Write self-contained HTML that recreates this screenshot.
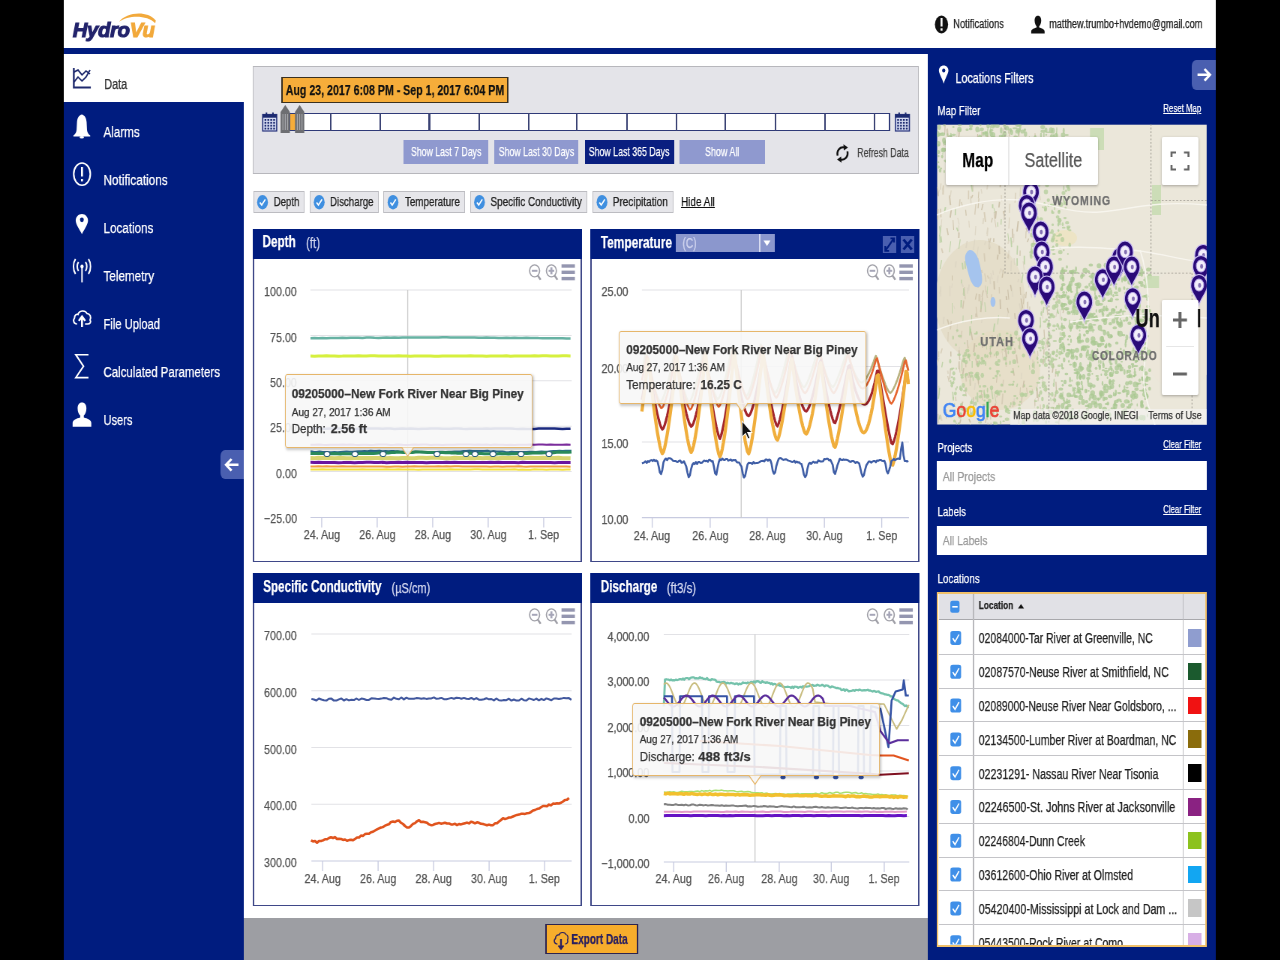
<!DOCTYPE html>
<html><head><meta charset="utf-8"><title>HydroVu</title>
<style>
html,body{margin:0;padding:0;background:#000;width:1280px;height:960px;overflow:hidden}
#w{position:absolute;left:0;top:0;width:1706.667px;height:960px;transform:scaleX(0.75);transform-origin:0 0;font-family:"Liberation Sans",sans-serif;-webkit-font-smoothing:antialiased;will-change:transform}
#w div{position:absolute}
#w .t{white-space:nowrap;transform-origin:0 0;-webkit-text-stroke:0.25px currentColor}
.ov{position:absolute;left:0;top:0;width:1706.667px;height:960px}
</style></head><body><div id="w">
<div style="left:85.33px;top:0.00px;width:1536.00px;height:960.00px;background:#fff"></div>
<div style="left:85.33px;top:47.80px;width:1536.00px;height:6.20px;background:#001c7f"></div>
<div style="left:85.33px;top:102.00px;width:240.00px;height:858.00px;background:#001c7f"></div>
<div style="left:324.67px;top:918.00px;width:913.33px;height:42.00px;background:#9d9ea3"></div>
<div style="left:1237.33px;top:50.00px;width:384.00px;height:910.00px;background:#001c7f"></div>
<div class="t" style="left:96.67px;top:19.22px;font-size:21px;line-height:21px;color:#23246c;font-weight:bold;font-style:italic;transform:scaleX(1.2824);-webkit-text-stroke:1.1px currentColor;letter-spacing:-0.3px">Hydro<span style="color:#f2a93b">Vu</span></div>
<div class="t" style="left:1270.93px;top:18.44px;font-size:12px;line-height:12px;color:#222;font-weight:normal;font-style:normal;transform:scaleX(1.0322);">Notifications</div>
<div class="t" style="left:1398.67px;top:18.44px;font-size:12px;line-height:12px;color:#222;font-weight:normal;font-style:normal;transform:scaleX(1.0102);">matthew.trumbo+hvdemo@gmail.com</div>
<div class="t" style="left:138.67px;top:76.18px;font-size:15.5px;line-height:15.5px;color:#333;font-weight:normal;font-style:normal;transform:scaleX(0.9366);">Data</div>
<div class="t" style="left:138.40px;top:124.38px;font-size:15.5px;line-height:15.5px;color:#fff;font-weight:normal;font-style:normal;transform:scaleX(1.0008);">Alarms</div>
<div class="t" style="left:138.40px;top:172.18px;font-size:15.5px;line-height:15.5px;color:#fff;font-weight:normal;font-style:normal;transform:scaleX(1.0139);">Notifications</div>
<div class="t" style="left:138.40px;top:219.88px;font-size:15.5px;line-height:15.5px;color:#fff;font-weight:normal;font-style:normal;transform:scaleX(1.0027);">Locations</div>
<div class="t" style="left:138.40px;top:267.68px;font-size:15.5px;line-height:15.5px;color:#fff;font-weight:normal;font-style:normal;transform:scaleX(1.0042);">Telemetry</div>
<div class="t" style="left:138.40px;top:315.88px;font-size:15.5px;line-height:15.5px;color:#fff;font-weight:normal;font-style:normal;transform:scaleX(0.9608);">File Upload</div>
<div class="t" style="left:138.40px;top:364.18px;font-size:15.5px;line-height:15.5px;color:#fff;font-weight:normal;font-style:normal;transform:scaleX(0.9848);">Calculated Parameters</div>
<div class="t" style="left:138.40px;top:411.88px;font-size:15.5px;line-height:15.5px;color:#fff;font-weight:normal;font-style:normal;transform:scaleX(0.9536);">Users</div>
<div style="left:293.67px;top:450.20px;width:31.67px;height:29.30px;background:#4a5fb0;border-radius:6px 0 0 6px"></div>
<div style="left:337.33px;top:66.00px;width:887.67px;height:107.70px;background:#e4e4e9;border-style:solid;border-color:#b7b7bc;border-width:1.2px 1.6px;box-sizing:border-box"></div>
<div style="left:374.67px;top:76.60px;width:303.47px;height:26.10px;background:#f6ad3a;border-style:solid;border-color:#3a3020;border-width:1.5px 2px;box-sizing:border-box"></div>
<div class="t" style="left:380.53px;top:82.73px;font-size:14.5px;line-height:14.5px;color:#111;font-weight:bold;font-style:normal;transform:scaleX(0.9765);">Aug 23, 2017 6:08 PM - Sep 1, 2017 6:04 PM</div>
<div style="left:385.33px;top:113.00px;width:802.13px;height:17.50px;background:#fff;border-style:solid;border-color:#2f3a78;border-width:1.5px 2px;box-sizing:border-box"></div>
<div style="left:386.67px;top:114.00px;width:8.00px;height:15.50px;background:#f6ad3a"></div>
<div style="left:440.27px;top:113.00px;width:2.13px;height:17.50px;background:#3a4274"></div>
<div style="left:505.60px;top:113.00px;width:2.13px;height:17.50px;background:#3a4274"></div>
<div style="left:571.47px;top:113.00px;width:2.13px;height:17.50px;background:#3a4274"></div>
<div style="left:638.00px;top:113.00px;width:2.13px;height:17.50px;background:#3a4274"></div>
<div style="left:704.27px;top:113.00px;width:2.13px;height:17.50px;background:#3a4274"></div>
<div style="left:768.27px;top:113.00px;width:2.13px;height:17.50px;background:#3a4274"></div>
<div style="left:834.93px;top:113.00px;width:2.13px;height:17.50px;background:#3a4274"></div>
<div style="left:900.67px;top:113.00px;width:2.13px;height:17.50px;background:#3a4274"></div>
<div style="left:966.27px;top:113.00px;width:2.13px;height:17.50px;background:#3a4274"></div>
<div style="left:1032.67px;top:113.00px;width:2.13px;height:17.50px;background:#3a4274"></div>
<div style="left:1098.67px;top:113.00px;width:2.13px;height:17.50px;background:#3a4274"></div>
<div style="left:1164.67px;top:113.00px;width:2.13px;height:17.50px;background:#3a4274"></div>
<div style="left:538.13px;top:140.40px;width:113.20px;height:23.80px;background:#8f99cf"></div>
<div class="t" style="left:547.60px;top:145.30px;font-size:13px;line-height:13px;color:#fff;font-weight:normal;font-style:normal;transform:scaleX(0.8946);">Show Last 7 Days</div>
<div style="left:659.20px;top:140.40px;width:112.13px;height:23.80px;background:#8f99cf"></div>
<div class="t" style="left:664.93px;top:145.30px;font-size:13px;line-height:13px;color:#fff;font-weight:normal;font-style:normal;transform:scaleX(0.8976);">Show Last 30 Days</div>
<div style="left:780.00px;top:140.40px;width:118.67px;height:23.80px;background:#0a1f80"></div>
<div class="t" style="left:785.47px;top:145.30px;font-size:13px;line-height:13px;color:#fff;font-weight:normal;font-style:normal;transform:scaleX(0.9024);">Show Last 365 Days</div>
<div style="left:906.27px;top:140.40px;width:113.73px;height:23.80px;background:#8f99cf"></div>
<div class="t" style="left:940.00px;top:145.30px;font-size:13px;line-height:13px;color:#fff;font-weight:normal;font-style:normal;transform:scaleX(0.9171);">Show All</div>
<div class="t" style="left:1143.20px;top:146.10px;font-size:13px;line-height:13px;color:#444;font-weight:normal;font-style:normal;transform:scaleX(0.8965);">Refresh Data</div>
<div style="left:337.60px;top:191.30px;width:68.80px;height:21.90px;background:#e6e6ea;border-style:solid;border-color:#bcbcc1;border-width:1.2px 1.6px;box-sizing:border-box"></div>
<div class="t" style="left:364.53px;top:195.25px;font-size:13px;line-height:13px;color:#222;font-weight:normal;font-style:normal;transform:scaleX(0.9839);">Depth</div>
<div style="left:412.80px;top:191.30px;width:92.27px;height:21.90px;background:#e6e6ea;border-style:solid;border-color:#bcbcc1;border-width:1.2px 1.6px;box-sizing:border-box"></div>
<div class="t" style="left:440.33px;top:195.25px;font-size:13px;line-height:13px;color:#222;font-weight:normal;font-style:normal;transform:scaleX(0.9910);">Discharge</div>
<div style="left:511.33px;top:191.30px;width:108.67px;height:21.90px;background:#e6e6ea;border-style:solid;border-color:#bcbcc1;border-width:1.2px 1.6px;box-sizing:border-box"></div>
<div class="t" style="left:539.60px;top:195.25px;font-size:13px;line-height:13px;color:#222;font-weight:normal;font-style:normal;transform:scaleX(1.0030);">Temperature</div>
<div style="left:626.67px;top:191.30px;width:156.40px;height:21.90px;background:#e6e6ea;border-style:solid;border-color:#bcbcc1;border-width:1.2px 1.6px;box-sizing:border-box"></div>
<div class="t" style="left:653.73px;top:195.25px;font-size:13px;line-height:13px;color:#222;font-weight:normal;font-style:normal;transform:scaleX(1.0160);">Specific Conductivity</div>
<div style="left:790.27px;top:191.30px;width:107.87px;height:21.90px;background:#e6e6ea;border-style:solid;border-color:#bcbcc1;border-width:1.2px 1.6px;box-sizing:border-box"></div>
<div class="t" style="left:817.20px;top:195.25px;font-size:13px;line-height:13px;color:#222;font-weight:normal;font-style:normal;transform:scaleX(1.0269);">Precipitation</div>
<div class="t" style="left:908.27px;top:195.25px;font-size:13px;line-height:13px;color:#111;font-weight:normal;font-style:normal;transform:scaleX(1.0223);text-decoration:underline">Hide All</div>
<div style="left:337.33px;top:229.00px;width:438.40px;height:333.00px;background:#fff;border-style:solid;border-color:#3f4888;border-width:1.6px 2.1px;box-sizing:border-box"></div>
<div style="left:337.33px;top:229.00px;width:438.40px;height:29.50px;background:#001c7f"></div>
<div class="t" style="left:350.40px;top:234.46px;font-size:16px;line-height:16px;color:#fff;font-weight:bold;font-style:normal;transform:scaleX(0.9766);">Depth</div>
<div class="t" style="left:408.33px;top:236.15px;font-size:14px;line-height:14px;color:#d4d8f0;font-weight:normal;font-style:normal;transform:scaleX(1.0952);">(ft)</div>
<div class="t" style="left:351.93px;top:285.20px;font-size:13px;line-height:13px;color:#555;font-weight:normal;font-style:normal;transform:scaleX(1.1000);">100.00</div>
<div class="t" style="left:359.88px;top:330.60px;font-size:13px;line-height:13px;color:#555;font-weight:normal;font-style:normal;transform:scaleX(1.1000);">75.00</div>
<div class="t" style="left:359.88px;top:376.00px;font-size:13px;line-height:13px;color:#555;font-weight:normal;font-style:normal;transform:scaleX(1.1000);">50.00</div>
<div class="t" style="left:359.88px;top:421.40px;font-size:13px;line-height:13px;color:#555;font-weight:normal;font-style:normal;transform:scaleX(1.1000);">25.00</div>
<div class="t" style="left:367.83px;top:466.80px;font-size:13px;line-height:13px;color:#555;font-weight:normal;font-style:normal;transform:scaleX(1.1000);">0.00</div>
<div class="t" style="left:351.53px;top:512.20px;font-size:13px;line-height:13px;color:#555;font-weight:normal;font-style:normal;transform:scaleX(1.1000);">−25.00</div>
<div class="t" style="left:404.68px;top:528.20px;font-size:13px;line-height:13px;color:#555;font-weight:normal;font-style:normal;transform:scaleX(1.1000);">24. Aug</div>
<div class="t" style="left:478.68px;top:528.20px;font-size:13px;line-height:13px;color:#555;font-weight:normal;font-style:normal;transform:scaleX(1.1000);">26. Aug</div>
<div class="t" style="left:552.68px;top:528.20px;font-size:13px;line-height:13px;color:#555;font-weight:normal;font-style:normal;transform:scaleX(1.1000);">28. Aug</div>
<div class="t" style="left:626.68px;top:528.20px;font-size:13px;line-height:13px;color:#555;font-weight:normal;font-style:normal;transform:scaleX(1.1000);">30. Aug</div>
<div class="t" style="left:704.26px;top:528.20px;font-size:13px;line-height:13px;color:#555;font-weight:normal;font-style:normal;transform:scaleX(1.1000);">1. Sep</div>
<div style="left:787.33px;top:229.00px;width:438.40px;height:333.00px;background:#fff;border-style:solid;border-color:#3f4888;border-width:1.6px 2.1px;box-sizing:border-box"></div>
<div style="left:787.33px;top:229.00px;width:438.40px;height:29.50px;background:#001c7f"></div>
<div class="t" style="left:800.80px;top:234.76px;font-size:16px;line-height:16px;color:#fff;font-weight:bold;font-style:normal;transform:scaleX(0.9930);">Temperature</div>
<div style="left:901.20px;top:233.90px;width:132.13px;height:18.10px;background:#8b97cd"></div>
<div style="left:1012.00px;top:233.90px;width:1.60px;height:18.10px;background:#d8dcf0"></div>
<div class="t" style="left:909.73px;top:236.15px;font-size:14px;line-height:14px;color:#d0d4ee;font-weight:normal;font-style:normal;transform:scaleX(0.9673);">(C)</div>
<div style="left:1177.20px;top:235.70px;width:17.87px;height:17.20px;background:#4a5fb0"></div>
<div style="left:1201.07px;top:235.70px;width:18.13px;height:17.20px;background:#4a5fb0"></div>
<div class="t" style="left:801.55px;top:285.20px;font-size:13px;line-height:13px;color:#555;font-weight:normal;font-style:normal;transform:scaleX(1.1000);">25.00</div>
<div class="t" style="left:801.55px;top:361.60px;font-size:13px;line-height:13px;color:#555;font-weight:normal;font-style:normal;transform:scaleX(1.1000);">20.00</div>
<div class="t" style="left:801.55px;top:437.20px;font-size:13px;line-height:13px;color:#555;font-weight:normal;font-style:normal;transform:scaleX(1.1000);">15.00</div>
<div class="t" style="left:801.55px;top:512.90px;font-size:13px;line-height:13px;color:#555;font-weight:normal;font-style:normal;transform:scaleX(1.1000);">10.00</div>
<div class="t" style="left:845.35px;top:528.60px;font-size:13px;line-height:13px;color:#555;font-weight:normal;font-style:normal;transform:scaleX(1.1000);">24. Aug</div>
<div class="t" style="left:922.68px;top:528.60px;font-size:13px;line-height:13px;color:#555;font-weight:normal;font-style:normal;transform:scaleX(1.1000);">26. Aug</div>
<div class="t" style="left:998.68px;top:528.60px;font-size:13px;line-height:13px;color:#555;font-weight:normal;font-style:normal;transform:scaleX(1.1000);">28. Aug</div>
<div class="t" style="left:1074.95px;top:528.60px;font-size:13px;line-height:13px;color:#555;font-weight:normal;font-style:normal;transform:scaleX(1.1000);">30. Aug</div>
<div class="t" style="left:1154.93px;top:528.60px;font-size:13px;line-height:13px;color:#555;font-weight:normal;font-style:normal;transform:scaleX(1.1000);">1. Sep</div>
<div style="left:337.33px;top:573.00px;width:438.40px;height:333.00px;background:#fff;border-style:solid;border-color:#3f4888;border-width:1.6px 2.1px;box-sizing:border-box"></div>
<div style="left:337.33px;top:573.00px;width:438.40px;height:29.50px;background:#001c7f"></div>
<div class="t" style="left:350.80px;top:579.36px;font-size:16px;line-height:16px;color:#fff;font-weight:bold;font-style:normal;transform:scaleX(0.9687);">Specific Conductivity</div>
<div class="t" style="left:522.13px;top:580.75px;font-size:14px;line-height:14px;color:#d4d8f0;font-weight:normal;font-style:normal;transform:scaleX(1.0498);">(µS/cm)</div>
<div class="t" style="left:351.99px;top:629.20px;font-size:13px;line-height:13px;color:#555;font-weight:normal;font-style:normal;transform:scaleX(1.1000);">700.00</div>
<div class="t" style="left:351.99px;top:685.95px;font-size:13px;line-height:13px;color:#555;font-weight:normal;font-style:normal;transform:scaleX(1.1000);">600.00</div>
<div class="t" style="left:351.99px;top:742.70px;font-size:13px;line-height:13px;color:#555;font-weight:normal;font-style:normal;transform:scaleX(1.1000);">500.00</div>
<div class="t" style="left:351.99px;top:799.45px;font-size:13px;line-height:13px;color:#555;font-weight:normal;font-style:normal;transform:scaleX(1.1000);">400.00</div>
<div class="t" style="left:351.99px;top:856.20px;font-size:13px;line-height:13px;color:#555;font-weight:normal;font-style:normal;transform:scaleX(1.1000);">300.00</div>
<div class="t" style="left:405.88px;top:872.20px;font-size:13px;line-height:13px;color:#555;font-weight:normal;font-style:normal;transform:scaleX(1.1000);">24. Aug</div>
<div class="t" style="left:479.88px;top:872.20px;font-size:13px;line-height:13px;color:#555;font-weight:normal;font-style:normal;transform:scaleX(1.1000);">26. Aug</div>
<div class="t" style="left:553.88px;top:872.20px;font-size:13px;line-height:13px;color:#555;font-weight:normal;font-style:normal;transform:scaleX(1.1000);">28. Aug</div>
<div class="t" style="left:627.88px;top:872.20px;font-size:13px;line-height:13px;color:#555;font-weight:normal;font-style:normal;transform:scaleX(1.1000);">30. Aug</div>
<div class="t" style="left:705.46px;top:872.20px;font-size:13px;line-height:13px;color:#555;font-weight:normal;font-style:normal;transform:scaleX(1.1000);">1. Sep</div>
<div style="left:787.33px;top:573.00px;width:438.40px;height:333.00px;background:#fff;border-style:solid;border-color:#3f4888;border-width:1.6px 2.1px;box-sizing:border-box"></div>
<div style="left:787.33px;top:573.00px;width:438.40px;height:29.50px;background:#001c7f"></div>
<div class="t" style="left:800.53px;top:579.36px;font-size:16px;line-height:16px;color:#fff;font-weight:bold;font-style:normal;transform:scaleX(0.9754);">Discharge</div>
<div class="t" style="left:888.80px;top:580.75px;font-size:14px;line-height:14px;color:#d4d8f0;font-weight:normal;font-style:normal;transform:scaleX(1.0955);">(ft3/s)</div>
<div class="t" style="left:810.47px;top:629.60px;font-size:13px;line-height:13px;color:#555;font-weight:normal;font-style:normal;transform:scaleX(1.1000);">4,000.00</div>
<div class="t" style="left:810.47px;top:675.12px;font-size:13px;line-height:13px;color:#555;font-weight:normal;font-style:normal;transform:scaleX(1.1000);">3,000.00</div>
<div class="t" style="left:810.47px;top:720.64px;font-size:13px;line-height:13px;color:#555;font-weight:normal;font-style:normal;transform:scaleX(1.1000);">2,000.00</div>
<div class="t" style="left:810.47px;top:766.16px;font-size:13px;line-height:13px;color:#555;font-weight:normal;font-style:normal;transform:scaleX(1.1000);">1,000.00</div>
<div class="t" style="left:838.30px;top:811.68px;font-size:13px;line-height:13px;color:#555;font-weight:normal;font-style:normal;transform:scaleX(1.1000);">0.00</div>
<div class="t" style="left:802.12px;top:857.20px;font-size:13px;line-height:13px;color:#555;font-weight:normal;font-style:normal;transform:scaleX(1.1000);">−1,000.00</div>
<div class="t" style="left:874.08px;top:872.20px;font-size:13px;line-height:13px;color:#555;font-weight:normal;font-style:normal;transform:scaleX(1.1000);">24. Aug</div>
<div class="t" style="left:944.08px;top:872.20px;font-size:13px;line-height:13px;color:#555;font-weight:normal;font-style:normal;transform:scaleX(1.1000);">26. Aug</div>
<div class="t" style="left:1014.75px;top:872.20px;font-size:13px;line-height:13px;color:#555;font-weight:normal;font-style:normal;transform:scaleX(1.1000);">28. Aug</div>
<div class="t" style="left:1084.08px;top:872.20px;font-size:13px;line-height:13px;color:#555;font-weight:normal;font-style:normal;transform:scaleX(1.1000);">30. Aug</div>
<div class="t" style="left:1158.33px;top:872.20px;font-size:13px;line-height:13px;color:#555;font-weight:normal;font-style:normal;transform:scaleX(1.1000);">1. Sep</div>
<div class="t" style="left:1274.13px;top:70.00px;font-size:15px;line-height:15px;color:#fff;font-weight:normal;font-style:normal;transform:scaleX(0.9523);">Locations Filters</div>
<div style="left:1589.33px;top:59.80px;width:32.00px;height:30.00px;background:#4a5fb0;border-radius:6px 0 0 6px"></div>
<div class="t" style="left:1250.00px;top:104.00px;font-size:13px;line-height:13px;color:#fff;font-weight:normal;font-style:normal;transform:scaleX(0.9897);">Map Filter</div>
<div class="t" style="left:1550.67px;top:102.67px;font-size:11.5px;line-height:11.5px;color:#fff;font-weight:normal;font-style:normal;transform:scaleX(0.9111);text-decoration:underline">Reset Map</div>
<div class="t" style="left:1250.00px;top:440.50px;font-size:13px;line-height:13px;color:#fff;font-weight:normal;font-style:normal;transform:scaleX(0.9909);">Projects</div>
<div class="t" style="left:1550.67px;top:439.27px;font-size:11.5px;line-height:11.5px;color:#fff;font-weight:normal;font-style:normal;transform:scaleX(0.9010);text-decoration:underline">Clear Filter</div>
<div style="left:1249.33px;top:461.00px;width:360.00px;height:29.30px;background:#fff"></div>
<div class="t" style="left:1256.93px;top:469.60px;font-size:13px;line-height:13px;color:#9a9a9a;font-weight:normal;font-style:normal;transform:scaleX(1.0786);">All Projects</div>
<div class="t" style="left:1250.00px;top:505.20px;font-size:13px;line-height:13px;color:#fff;font-weight:normal;font-style:normal;transform:scaleX(0.9919);">Labels</div>
<div class="t" style="left:1550.67px;top:503.87px;font-size:11.5px;line-height:11.5px;color:#fff;font-weight:normal;font-style:normal;transform:scaleX(0.9010);text-decoration:underline">Clear Filter</div>
<div style="left:1249.33px;top:525.70px;width:360.00px;height:29.40px;background:#fff"></div>
<div class="t" style="left:1256.93px;top:534.30px;font-size:13px;line-height:13px;color:#9a9a9a;font-weight:normal;font-style:normal;transform:scaleX(1.0596);">All Labels</div>
<div class="t" style="left:1250.00px;top:571.50px;font-size:13px;line-height:13px;color:#fff;font-weight:normal;font-style:normal;transform:scaleX(1.0110);">Locations</div>
<div style="left:1249.33px;top:592.00px;width:360.00px;height:354.50px;background:#fff;border-style:solid;border-color:#f0c069;border-width:2px 2.6px;box-sizing:border-box"></div>
<div style="left:1252.00px;top:594.00px;width:354.67px;height:25.40px;background:#e1e1e6"></div>
<div style="left:1252.00px;top:619.00px;width:354.67px;height:1.20px;background:#a8a8ac"></div>
<div style="left:1297.33px;top:594.00px;width:1.60px;height:350.50px;background:#b8b8bc"></div>
<div style="left:1576.67px;top:594.00px;width:1.60px;height:350.50px;background:#b8b8bc"></div>
<div class="t" style="left:1304.80px;top:600.37px;font-size:11.5px;line-height:11.5px;color:#222;font-weight:bold;font-style:normal;transform:scaleX(0.9599);">Location</div>
<div class="t" style="left:1305.00px;top:631.35px;font-size:14px;line-height:14px;color:#222;font-weight:normal;font-style:normal;transform:scaleX(0.9940);">02084000-Tar River at Greenville, NC</div>
<div style="left:1584.27px;top:629.00px;width:18.13px;height:17.70px;background:#8f9dcf"></div>
<div style="left:1252.00px;top:653.50px;width:354.67px;height:1.00px;background:#c4c4c8"></div>
<div class="t" style="left:1305.00px;top:665.15px;font-size:14px;line-height:14px;color:#222;font-weight:normal;font-style:normal;transform:scaleX(1.0018);">02087570-Neuse River at Smithfield, NC</div>
<div style="left:1584.27px;top:662.80px;width:18.13px;height:17.70px;background:#1b5a2e"></div>
<div style="left:1252.00px;top:687.50px;width:354.67px;height:1.00px;background:#c4c4c8"></div>
<div class="t" style="left:1305.00px;top:698.95px;font-size:14px;line-height:14px;color:#222;font-weight:normal;font-style:normal;transform:scaleX(0.9901);">02089000-Neuse River Near Goldsboro, ...</div>
<div style="left:1584.27px;top:696.60px;width:18.13px;height:17.70px;background:#f01212"></div>
<div style="left:1252.00px;top:720.50px;width:354.67px;height:1.00px;background:#c4c4c8"></div>
<div class="t" style="left:1305.00px;top:732.75px;font-size:14px;line-height:14px;color:#222;font-weight:normal;font-style:normal;transform:scaleX(1.0018);">02134500-Lumber River at Boardman, NC</div>
<div style="left:1584.27px;top:730.40px;width:18.13px;height:17.70px;background:#8a6c0c"></div>
<div style="left:1252.00px;top:754.50px;width:354.67px;height:1.00px;background:#c4c4c8"></div>
<div class="t" style="left:1305.00px;top:766.55px;font-size:14px;line-height:14px;color:#222;font-weight:normal;font-style:normal;transform:scaleX(1.0091);">02231291- Nassau River Near Tisonia</div>
<div style="left:1584.27px;top:764.20px;width:18.13px;height:17.70px;background:#000"></div>
<div style="left:1252.00px;top:788.50px;width:354.67px;height:1.00px;background:#c4c4c8"></div>
<div class="t" style="left:1305.00px;top:800.35px;font-size:14px;line-height:14px;color:#222;font-weight:normal;font-style:normal;transform:scaleX(1.0204);">02246500-St. Johns River at Jacksonville</div>
<div style="left:1584.27px;top:798.00px;width:18.13px;height:17.70px;background:#8a2282"></div>
<div style="left:1252.00px;top:822.50px;width:354.67px;height:1.00px;background:#c4c4c8"></div>
<div class="t" style="left:1305.00px;top:834.15px;font-size:14px;line-height:14px;color:#222;font-weight:normal;font-style:normal;transform:scaleX(1.0000);">02246804-Dunn Creek</div>
<div style="left:1584.27px;top:831.80px;width:18.13px;height:17.70px;background:#8cc21e"></div>
<div style="left:1252.00px;top:856.50px;width:354.67px;height:1.00px;background:#c4c4c8"></div>
<div class="t" style="left:1305.00px;top:867.95px;font-size:14px;line-height:14px;color:#222;font-weight:normal;font-style:normal;transform:scaleX(1.0054);">03612600-Ohio River at Olmsted</div>
<div style="left:1584.27px;top:865.60px;width:18.13px;height:17.70px;background:#12a6f2"></div>
<div style="left:1252.00px;top:889.50px;width:354.67px;height:1.00px;background:#c4c4c8"></div>
<div class="t" style="left:1305.00px;top:901.75px;font-size:14px;line-height:14px;color:#222;font-weight:normal;font-style:normal;transform:scaleX(1.0179);">05420400-Mississippi at Lock and Dam ...</div>
<div style="left:1584.27px;top:899.40px;width:18.13px;height:17.70px;background:#c6c6c6"></div>
<div style="left:1252.00px;top:923.50px;width:354.67px;height:1.00px;background:#c4c4c8"></div>
<div class="t" style="left:1305.00px;top:935.55px;font-size:14px;line-height:14px;color:#222;font-weight:normal;font-style:normal;transform:scaleX(1.0006);">05443500-Rock River at Como</div>
<div style="left:1584.27px;top:933.20px;width:18.13px;height:17.70px;background:#d8afe6"></div>
<div style="left:1252.00px;top:944.50px;width:354.67px;height:2.50px;background:#f0c069"></div>
<div style="left:1237.33px;top:947.00px;width:384.00px;height:13.00px;background:#001c7f"></div>
<div style="left:726.67px;top:924.10px;width:123.87px;height:29.60px;background:#f7ad2c;border-style:solid;border-color:#2c2450;border-width:1.5px 2px;box-sizing:border-box"></div>
<div class="t" style="left:762.13px;top:932.45px;font-size:14px;line-height:14px;color:#2a2060;font-weight:bold;font-style:normal;transform:scaleX(0.9519);">Export Data</div>
<svg class="ov" viewBox="0 0 1280 960" preserveAspectRatio="none"><path d="M119,21.8 C126,13 146,9.5 155.8,20.5 L155.2,23.2 C147,14.5 128,15 119,21.8 Z" fill="#f2a93b"/><ellipse cx="941.5" cy="24.5" rx="6.6" ry="9" fill="#111"/><rect x="940.6" y="18" width="1.9" height="8.5" fill="#fff"/><rect x="940.6" y="28.3" width="1.9" height="2.4" fill="#fff"/><path d="M1037.9,15.7 C1035.5,15.7 1034.6,18 1034.6,20.5 C1034.6,23.5 1035.8,25.5 1036.6,26.3 L1036.6,27.6 C1034,28.4 1031.2,29.5 1031.2,31.5 L1031.2,33.5 L1044.6,33.5 L1044.6,31.5 C1044.6,29.5 1041.8,28.4 1039.2,27.6 L1039.2,26.3 C1040,25.5 1041.2,23.5 1041.2,20.5 C1041.2,18 1040.3,15.7 1037.9,15.7 Z" fill="#111"/><path d="M73.8,68 L73.8,87.5 L90.8,87.5" stroke="#1f2a6e" stroke-width="1.8" fill="none"/><path d="M74,72 L78,70 L82,75 L86,71 L90,74" stroke="#1f2a6e" stroke-width="1.5" fill="none"/><path d="M74,82 L78,77 L82,81 L86,77 L90,70" stroke="#1f2a6e" stroke-width="1.5" fill="none"/><path d="M81.8,114.4 C79,115 77.2,118 77,122 L76.6,130 C76.4,133 74.5,134.5 73.4,135.6 L73.4,136.6 L90.2,136.6 L90.2,135.6 C89,134.5 87.2,133 87,130 L86.6,122 C86.4,118 84.6,115 81.8,114.4 Z" fill="#fff"/><ellipse cx="81.8" cy="137.3" rx="2.2" ry="1.2" fill="#fff"/><ellipse cx="82" cy="174.1" rx="8.3" ry="11.1" stroke="#fff" stroke-width="1.6" fill="none"/><rect x="81" y="167" width="2" height="9.5" fill="#fff"/><rect x="81" y="179" width="2" height="2.4" fill="#fff"/><path d="M81.9,213.9 C78.4,213.9 75.7,216.8 75.7,220.5 C75.7,224.5 79.5,229 81.9,234.3 C84.3,229 88,224.5 88,220.5 C88,216.8 85.4,213.9 81.9,213.9 Z" fill="#fff"/><ellipse cx="81.9" cy="219.8" rx="1.9" ry="2.4" fill="#001c7f"/><g stroke="#fff" stroke-width="1.5" fill="none"><path d="M82,268 L82,282.4"/><path d="M78.5,262 C76.8,264.5 76.8,268.5 78.5,271"/><path d="M85.5,262 C87.2,264.5 87.2,268.5 85.5,271"/><path d="M75.5,259 C72.8,263 72.8,270 75.5,274"/><path d="M88.5,259 C91.2,263 91.2,270 88.5,274"/></g><ellipse cx="82" cy="266.5" rx="1.6" ry="2" fill="#fff"/><path d="M77,324 C73.5,324 72.8,320 74.5,318 C74.5,315 76.5,314 78,314.5 C79,310.5 85,309.5 87,313.5 C90,313.5 91.5,317 90,320 C91.5,322 90,324 87.5,324 L85,324" stroke="#fff" stroke-width="1.5" fill="none"/><path d="M82,326.9 L82,317.5 M78.8,320.8 L82,316.5 L85.2,320.8" stroke="#fff" stroke-width="2" fill="none"/><path d="M88.5,354.8 L75.8,354.8 L83.5,366.2 L75.8,377.6 L88.5,377.6" stroke="#fff" stroke-width="1.6" fill="none"/><path d="M82,402.5 C79,402.5 77.6,405 77.6,408.5 C77.6,412 79,414.6 80.2,415.6 L80.2,417.5 C76.5,418.5 72.6,420 72.6,423 L72.6,426.7 L91.3,426.7 L91.3,423 C91.3,420 87.5,418.5 83.8,417.5 L83.8,415.6 C85,414.6 86.4,412 86.4,408.5 C86.4,405 85,402.5 82,402.5 Z" fill="#fff"/><path d="M238.5,464.8 L226.5,464.8 M231.5,459 L226,464.8 L231.5,470.6" stroke="#fff" stroke-width="2.4" fill="none"/><path d="M280.6,112 L285.25,105 L289.90000000000003,112 L289.90000000000003,133 L280.6,133 Z" fill="#6d6e72"/><path d="M282.90000000000003,114 L282.90000000000003,130 M285.25,114 L285.25,130 M287.6,114 L287.6,130" stroke="#a9aaae" stroke-width="0.9"/><path d="M295,112 L299.65,105 L304.3,112 L304.3,133 L295,133 Z" fill="#6d6e72"/><path d="M297.3,114 L297.3,130 M299.65,114 L299.65,130 M302,114 L302,130" stroke="#a9aaae" stroke-width="0.9"/><rect x="262.7" y="114.5" width="14" height="16.5" fill="#d4daf0" stroke="#28357e" stroke-width="1.2"/><rect x="262.7" y="114.5" width="14" height="3.2" fill="#1c2a70"/><rect x="265.7" y="112.5" width="1.5" height="3" fill="#1c2a70"/><rect x="272.2" y="112.5" width="1.5" height="3" fill="#1c2a70"/><rect x="264.50" y="119.00" width="1.8" height="1.8" fill="#1c2a70"/><rect x="267.40" y="119.00" width="1.8" height="1.8" fill="#1c2a70"/><rect x="270.30" y="119.00" width="1.8" height="1.8" fill="#1c2a70"/><rect x="273.20" y="119.00" width="1.8" height="1.8" fill="#1c2a70"/><rect x="264.50" y="121.90" width="1.8" height="1.8" fill="#1c2a70"/><rect x="267.40" y="121.90" width="1.8" height="1.8" fill="#1c2a70"/><rect x="270.30" y="121.90" width="1.8" height="1.8" fill="#1c2a70"/><rect x="273.20" y="121.90" width="1.8" height="1.8" fill="#1c2a70"/><rect x="264.50" y="124.80" width="1.8" height="1.8" fill="#1c2a70"/><rect x="267.40" y="124.80" width="1.8" height="1.8" fill="#1c2a70"/><rect x="270.30" y="124.80" width="1.8" height="1.8" fill="#1c2a70"/><rect x="273.20" y="124.80" width="1.8" height="1.8" fill="#1c2a70"/><rect x="264.50" y="127.70" width="1.8" height="1.8" fill="#1c2a70"/><rect x="267.40" y="127.70" width="1.8" height="1.8" fill="#1c2a70"/><rect x="270.30" y="127.70" width="1.8" height="1.8" fill="#1c2a70"/><rect x="273.20" y="127.70" width="1.8" height="1.8" fill="#1c2a70"/><rect x="895.4" y="114.5" width="14" height="16.5" fill="#d4daf0" stroke="#28357e" stroke-width="1.2"/><rect x="895.4" y="114.5" width="14" height="3.2" fill="#1c2a70"/><rect x="898.4" y="112.5" width="1.5" height="3" fill="#1c2a70"/><rect x="904.9" y="112.5" width="1.5" height="3" fill="#1c2a70"/><rect x="897.20" y="119.00" width="1.8" height="1.8" fill="#1c2a70"/><rect x="900.10" y="119.00" width="1.8" height="1.8" fill="#1c2a70"/><rect x="903.00" y="119.00" width="1.8" height="1.8" fill="#1c2a70"/><rect x="905.90" y="119.00" width="1.8" height="1.8" fill="#1c2a70"/><rect x="897.20" y="121.90" width="1.8" height="1.8" fill="#1c2a70"/><rect x="900.10" y="121.90" width="1.8" height="1.8" fill="#1c2a70"/><rect x="903.00" y="121.90" width="1.8" height="1.8" fill="#1c2a70"/><rect x="905.90" y="121.90" width="1.8" height="1.8" fill="#1c2a70"/><rect x="897.20" y="124.80" width="1.8" height="1.8" fill="#1c2a70"/><rect x="900.10" y="124.80" width="1.8" height="1.8" fill="#1c2a70"/><rect x="903.00" y="124.80" width="1.8" height="1.8" fill="#1c2a70"/><rect x="905.90" y="124.80" width="1.8" height="1.8" fill="#1c2a70"/><rect x="897.20" y="127.70" width="1.8" height="1.8" fill="#1c2a70"/><rect x="900.10" y="127.70" width="1.8" height="1.8" fill="#1c2a70"/><rect x="903.00" y="127.70" width="1.8" height="1.8" fill="#1c2a70"/><rect x="905.90" y="127.70" width="1.8" height="1.8" fill="#1c2a70"/><path d="M845,147.6 C839.5,146.2 836.6,150.8 837.6,155.6" stroke="#111" stroke-width="1.9" fill="none"/><path d="M843.4,144.3 L848,147.4 L843.8,150.6 Z" fill="#111"/><path d="M840,159.4 C845.5,160.8 848.4,156.2 847.4,151.4" stroke="#111" stroke-width="1.9" fill="none"/><path d="M841.6,162.7 L837,159.6 L841.2,156.4 Z" fill="#111"/><ellipse cx="262.5" cy="202.2" rx="5.4" ry="7.3" fill="#3f8fe0"/><path d="M259.9,202.5 L261.7,205 L265.3,199.3" stroke="#fff" stroke-width="1.3" fill="none"/><ellipse cx="319.2" cy="202.2" rx="5.4" ry="7.3" fill="#3f8fe0"/><path d="M316.59999999999997,202.5 L318.4,205 L322.0,199.3" stroke="#fff" stroke-width="1.3" fill="none"/><ellipse cx="393" cy="202.2" rx="5.4" ry="7.3" fill="#3f8fe0"/><path d="M390.4,202.5 L392.2,205 L395.8,199.3" stroke="#fff" stroke-width="1.3" fill="none"/><ellipse cx="479.5" cy="202.2" rx="5.4" ry="7.3" fill="#3f8fe0"/><path d="M476.9,202.5 L478.7,205 L482.3,199.3" stroke="#fff" stroke-width="1.3" fill="none"/><ellipse cx="602" cy="202.2" rx="5.4" ry="7.3" fill="#3f8fe0"/><path d="M599.4,202.5 L601.2,205 L604.8,199.3" stroke="#fff" stroke-width="1.3" fill="none"/><rect x="561.5" y="264.3" width="13.4" height="3.4" fill="#9496b0"/><rect x="561.5" y="270.6" width="13.4" height="3.4" fill="#9496b0"/><rect x="561.5" y="276.90000000000003" width="13.4" height="3.4" fill="#9496b0"/><ellipse cx="551.4" cy="270.8" rx="5" ry="6" stroke="#a0a0a8" stroke-width="1.3" fill="none"/><path d="M554.4,275.3 L557.4,279.8" stroke="#a0a0a8" stroke-width="2"/><path d="M548.6,270.8 L554.1999999999999,270.8" stroke="#a6a6b8" stroke-width="2"/><path d="M551.4,267.3 L551.4,274.3" stroke="#a6a6b8" stroke-width="2"/><ellipse cx="534.6" cy="270.8" rx="5" ry="6" stroke="#a0a0a8" stroke-width="1.3" fill="none"/><path d="M537.6,275.3 L540.6,279.8" stroke="#a0a0a8" stroke-width="2"/><path d="M531.8000000000001,270.8 L537.4,270.8" stroke="#a6a6b8" stroke-width="2"/><path d="M310.5,290.0 L571.7,290.0" stroke="#e2e2e6" stroke-width="1"/><path d="M310.5,335.4 L571.7,335.4" stroke="#e2e2e6" stroke-width="1"/><path d="M310.5,380.8 L571.7,380.8" stroke="#e2e2e6" stroke-width="1"/><path d="M310.5,426.2 L571.7,426.2" stroke="#e2e2e6" stroke-width="1"/><path d="M310.5,471.6 L571.7,471.6" stroke="#e2e2e6" stroke-width="1"/><path d="M310.5,517.5 L571.7,517.5" stroke="#c8cbe0" stroke-width="1.2"/><path d="M321.7,517.5 L321.7,527.5" stroke="#c8cbe0" stroke-width="1"/><path d="M377.2,517.5 L377.2,527.5" stroke="#c8cbe0" stroke-width="1"/><path d="M432.7,517.5 L432.7,527.5" stroke="#c8cbe0" stroke-width="1"/><path d="M488.2,517.5 L488.2,527.5" stroke="#c8cbe0" stroke-width="1"/><path d="M543.7,517.5 L543.7,527.5" stroke="#c8cbe0" stroke-width="1"/><path d="M763.5,240.5 L770.5,240.5 L767,246 Z" fill="#fff"/><path d="M885.5,250.5 L893.8,238.5 M885.3,246 L885.3,250.8 L889,250.8 M890.5,238.3 L894,238.3 L894,242.5" stroke="#001c7f" stroke-width="1.8" fill="none"/><path d="M903.5,239.5 L911.7,249.5 M911.7,239.5 L903.5,249.5" stroke="#001c7f" stroke-width="2.6"/><rect x="899.4" y="264.3" width="13.4" height="3.4" fill="#9496b0"/><rect x="899.4" y="270.6" width="13.4" height="3.4" fill="#9496b0"/><rect x="899.4" y="276.90000000000003" width="13.4" height="3.4" fill="#9496b0"/><ellipse cx="889.3" cy="270.8" rx="5" ry="6" stroke="#a0a0a8" stroke-width="1.3" fill="none"/><path d="M892.3,275.3 L895.3,279.8" stroke="#a0a0a8" stroke-width="2"/><path d="M886.5,270.8 L892.0999999999999,270.8" stroke="#a6a6b8" stroke-width="2"/><path d="M889.3,267.3 L889.3,274.3" stroke="#a6a6b8" stroke-width="2"/><ellipse cx="872.5" cy="270.8" rx="5" ry="6" stroke="#a0a0a8" stroke-width="1.3" fill="none"/><path d="M875.5,275.3 L878.5,279.8" stroke="#a0a0a8" stroke-width="2"/><path d="M869.7,270.8 L875.3,270.8" stroke="#a6a6b8" stroke-width="2"/><path d="M641.9,290 L909,290" stroke="#e2e2e6" stroke-width="1"/><path d="M641.9,366.4 L909,366.4" stroke="#e2e2e6" stroke-width="1"/><path d="M641.9,442 L909,442" stroke="#e2e2e6" stroke-width="1"/><path d="M641.9,517.7 L909,517.7" stroke="#c8cbe0" stroke-width="1.2"/><path d="M652.2,517.7 L652.2,527.7" stroke="#c8cbe0" stroke-width="1"/><path d="M710.2,517.7 L710.2,527.7" stroke="#c8cbe0" stroke-width="1"/><path d="M767.2,517.7 L767.2,527.7" stroke="#c8cbe0" stroke-width="1"/><path d="M824.4,517.7 L824.4,527.7" stroke="#c8cbe0" stroke-width="1"/><path d="M881.7,517.7 L881.7,527.7" stroke="#c8cbe0" stroke-width="1"/><rect x="561.5" y="608.3" width="13.4" height="3.4" fill="#9496b0"/><rect x="561.5" y="614.5999999999999" width="13.4" height="3.4" fill="#9496b0"/><rect x="561.5" y="620.9" width="13.4" height="3.4" fill="#9496b0"/><ellipse cx="551.4" cy="614.8" rx="5" ry="6" stroke="#a0a0a8" stroke-width="1.3" fill="none"/><path d="M554.4,619.3 L557.4,623.8" stroke="#a0a0a8" stroke-width="2"/><path d="M548.6,614.8 L554.1999999999999,614.8" stroke="#a6a6b8" stroke-width="2"/><path d="M551.4,611.3 L551.4,618.3" stroke="#a6a6b8" stroke-width="2"/><ellipse cx="534.6" cy="614.8" rx="5" ry="6" stroke="#a0a0a8" stroke-width="1.3" fill="none"/><path d="M537.6,619.3 L540.6,623.8" stroke="#a0a0a8" stroke-width="2"/><path d="M531.8000000000001,614.8 L537.4,614.8" stroke="#a6a6b8" stroke-width="2"/><path d="M311.4,634.0 L571.7,634.0" stroke="#e2e2e6" stroke-width="1"/><path d="M311.4,690.75 L571.7,690.75" stroke="#e2e2e6" stroke-width="1"/><path d="M311.4,747.5 L571.7,747.5" stroke="#e2e2e6" stroke-width="1"/><path d="M311.4,804.25 L571.7,804.25" stroke="#e2e2e6" stroke-width="1"/><path d="M311.4,861 L571.7,861" stroke="#c8cbe0" stroke-width="1.2"/><path d="M322.59999999999997,861 L322.59999999999997,871" stroke="#c8cbe0" stroke-width="1"/><path d="M378.09999999999997,861 L378.09999999999997,871" stroke="#c8cbe0" stroke-width="1"/><path d="M433.59999999999997,861 L433.59999999999997,871" stroke="#c8cbe0" stroke-width="1"/><path d="M489.09999999999997,861 L489.09999999999997,871" stroke="#c8cbe0" stroke-width="1"/><path d="M544.6,861 L544.6,871" stroke="#c8cbe0" stroke-width="1"/><rect x="899.4" y="608.3" width="13.4" height="3.4" fill="#9496b0"/><rect x="899.4" y="614.5999999999999" width="13.4" height="3.4" fill="#9496b0"/><rect x="899.4" y="620.9" width="13.4" height="3.4" fill="#9496b0"/><ellipse cx="889.3" cy="614.8" rx="5" ry="6" stroke="#a0a0a8" stroke-width="1.3" fill="none"/><path d="M892.3,619.3 L895.3,623.8" stroke="#a0a0a8" stroke-width="2"/><path d="M886.5,614.8 L892.0999999999999,614.8" stroke="#a6a6b8" stroke-width="2"/><path d="M889.3,611.3 L889.3,618.3" stroke="#a6a6b8" stroke-width="2"/><ellipse cx="872.5" cy="614.8" rx="5" ry="6" stroke="#a0a0a8" stroke-width="1.3" fill="none"/><path d="M875.5,619.3 L878.5,623.8" stroke="#a0a0a8" stroke-width="2"/><path d="M869.7,614.8 L875.3,614.8" stroke="#a6a6b8" stroke-width="2"/><path d="M663.75,634.4 L909.25,634.4" stroke="#e2e2e6" stroke-width="1"/><path d="M663.75,679.92 L909.25,679.92" stroke="#e2e2e6" stroke-width="1"/><path d="M663.75,725.4399999999999 L909.25,725.4399999999999" stroke="#e2e2e6" stroke-width="1"/><path d="M663.75,770.96 L909.25,770.96" stroke="#e2e2e6" stroke-width="1"/><path d="M663.75,816.48 L909.25,816.48" stroke="#e2e2e6" stroke-width="1"/><path d="M663.75,862 L909.25,862" stroke="#c8cbe0" stroke-width="1.2"/><path d="M673.75,862 L673.75,872" stroke="#c8cbe0" stroke-width="1"/><path d="M726.25,862 L726.25,872" stroke="#c8cbe0" stroke-width="1"/><path d="M779.25,862 L779.25,872" stroke="#c8cbe0" stroke-width="1"/><path d="M831.25,862 L831.25,872" stroke="#c8cbe0" stroke-width="1"/><path d="M884.25,862 L884.25,872" stroke="#c8cbe0" stroke-width="1"/><path d="M407.7,290 L407.7,517.5" stroke="#ccc" stroke-width="1"/><path d="M741.2,290 L741.2,517.7" stroke="#ccc" stroke-width="1"/><path d="M755,634.4 L755,862" stroke="#ccc" stroke-width="1"/><path d="M310.5,338.2 L314.5,338.1 L318.5,338.3 L322.5,338.0 L326.5,338.2 L330.5,338.0 L334.5,337.9 L338.5,338.0 L342.5,337.8 L346.5,337.9 L350.5,337.7 L354.5,337.7 L358.5,337.8 L362.5,337.9 L366.5,337.6 L370.5,337.6 L374.5,337.8 L378.5,337.9 L382.5,337.7 L386.5,337.6 L390.5,337.8 L394.5,337.4 L398.5,337.7 L402.5,337.5 L406.5,337.4 L410.5,337.4 L414.5,337.5 L418.5,337.6 L422.5,337.4 L426.5,337.5 L430.5,337.6 L434.5,337.4 L438.5,337.5 L442.5,337.3 L446.5,337.3 L450.5,337.4 L454.5,337.6 L458.5,337.5 L462.5,337.5 L466.5,337.6 L470.5,337.6 L474.5,337.5 L478.5,337.7 L482.5,337.7 L486.5,337.6 L490.5,337.7 L494.5,337.7 L498.5,337.9 L502.5,337.9 L506.5,337.7 L510.5,338.0 L514.5,337.7 L518.5,337.9 L522.5,338.0 L526.5,337.8 L530.5,338.0 L534.5,337.9 L538.5,338.1 L542.5,338.2 L546.5,338.2 L550.5,338.3 L554.5,338.2 L558.5,338.3 L562.5,338.3 L566.5,338.4 L570.5,338.4" stroke="#67b2a3" stroke-width="2.5" fill="none" stroke-linejoin="round" /><path d="M310.5,356.1 L314.5,356.2 L318.5,356.0 L322.5,356.1 L326.5,355.8 L330.5,356.1 L334.5,356.1 L338.5,356.2 L342.5,356.1 L346.5,355.9 L350.5,356.0 L354.5,356.1 L358.5,355.8 L362.5,356.0 L366.5,355.9 L370.5,355.8 L374.5,355.8 L378.5,356.1 L382.5,355.9 L386.5,355.9 L390.5,356.0 L394.5,356.1 L398.5,355.8 L402.5,356.0 L406.5,356.0 L410.5,356.2 L414.5,356.1 L418.5,356.1 L422.5,355.9 L426.5,356.0 L430.5,355.9 L434.5,356.2 L438.5,356.2 L442.5,355.9 L446.5,355.9 L450.5,355.9 L454.5,355.9 L458.5,356.0 L462.5,356.0 L466.5,355.9 L470.5,355.8 L474.5,356.0 L478.5,355.9 L482.5,356.0 L486.5,356.2 L490.5,356.1 L494.5,356.0 L498.5,356.0 L502.5,356.1 L506.5,355.8 L510.5,356.2 L514.5,356.1 L518.5,356.1 L522.5,356.1 L526.5,356.0 L530.5,356.0 L534.5,355.8 L538.5,356.1 L542.5,355.8 L546.5,355.8 L550.5,355.9 L554.5,355.9 L558.5,355.9 L562.5,355.8 L566.5,355.8 L570.5,355.9" stroke="#d6f03e" stroke-width="3" fill="none" stroke-linejoin="round" /><path d="M310.5,428.5 L314.5,428.6 L318.5,428.5 L322.5,428.8 L326.5,428.7 L330.5,428.6 L334.5,428.6 L338.5,428.6 L342.5,428.6 L346.5,428.5 L350.5,428.8 L354.5,428.9 L358.5,428.7 L362.5,428.7 L366.5,428.5 L370.5,428.5 L374.5,428.6 L378.5,428.6 L382.5,428.8 L386.5,428.6 L390.5,428.5 L394.5,428.9 L398.5,428.7 L402.5,428.6 L406.5,428.7 L410.5,428.5 L414.5,428.7 L418.5,428.9 L422.5,428.8 L426.5,428.8 L430.5,428.6 L434.5,428.6 L438.5,428.6 L442.5,428.8 L446.5,428.7 L450.5,428.8 L454.5,428.6 L458.5,428.6 L462.5,428.8 L466.5,428.9 L470.5,428.8 L474.5,428.8 L478.5,428.8 L482.5,428.8 L486.5,428.6 L490.5,428.7 L494.5,428.6 L498.5,428.5 L502.5,428.5 L506.5,428.6 L510.5,428.6 L514.5,428.8 L518.5,428.9 L522.5,428.7 L526.5,428.9 L530.5,428.9 L534.5,428.9 L538.5,428.6 L542.5,428.6 L546.5,428.6 L550.5,428.6 L554.5,428.6 L558.5,428.7 L562.5,428.9 L566.5,428.8 L570.5,428.7" stroke="#1b2a80" stroke-width="2.5" fill="none" stroke-linejoin="round" /><path d="M310.5,444.8 L314.5,444.8 L318.5,444.5 L322.5,444.8 L326.5,444.9 L330.5,444.8 L334.5,444.8 L338.5,444.7 L342.5,444.6 L346.5,444.8 L350.5,444.6 L354.5,444.8 L358.5,444.9 L362.5,444.7 L366.5,444.7 L370.5,444.9 L374.5,444.8 L378.5,444.6 L382.5,444.6 L386.5,444.6 L390.5,444.9 L394.5,444.8 L398.5,444.6 L402.5,444.8 L406.5,444.9 L410.5,444.8 L414.5,444.6 L418.5,444.7 L422.5,444.6 L426.5,444.5 L430.5,444.9 L434.5,444.8 L438.5,444.7 L442.5,444.9 L446.5,444.7 L450.5,444.8 L454.5,444.8 L458.5,444.6 L462.5,444.6 L466.5,444.6 L470.5,444.6 L474.5,444.7 L478.5,444.6 L482.5,444.7 L486.5,444.6 L490.5,444.9 L494.5,444.6 L498.5,444.7 L502.5,444.7 L506.5,444.9 L510.5,444.7 L514.5,444.9 L518.5,444.7 L522.5,444.7 L526.5,444.7 L530.5,444.5 L534.5,444.7 L538.5,444.6 L542.5,444.5 L546.5,444.8 L550.5,444.6 L554.5,444.7 L558.5,444.8 L562.5,444.7 L566.5,444.6 L570.5,444.7" stroke="#7b2d9c" stroke-width="2" fill="none" stroke-linejoin="round" /><path d="M310.5,458.0 L314.5,458.2 L318.5,457.8 L322.5,458.0 L326.5,457.8 L330.5,457.9 L334.5,458.2 L338.5,458.0 L342.5,458.0 L346.5,458.2 L350.5,458.2 L354.5,458.0 L358.5,458.1 L362.5,458.0 L366.5,458.0 L370.5,458.1 L374.5,458.0 L378.5,458.0 L382.5,458.0 L386.5,458.3 L390.5,458.1 L394.5,458.2 L398.5,458.3 L402.5,457.9 L406.5,458.0 L410.5,458.3 L414.5,458.2 L418.5,457.8 L422.5,457.8 L426.5,458.0 L430.5,457.7 L434.5,457.8 L438.5,457.7 L442.5,458.1 L446.5,458.2 L450.5,458.2 L454.5,457.8 L458.5,458.1 L462.5,458.1 L466.5,457.8 L470.5,458.2 L474.5,458.3 L478.5,457.8 L482.5,458.3 L486.5,457.9 L490.5,458.0 L494.5,458.3 L498.5,458.2 L502.5,457.8 L506.5,458.0 L510.5,458.0 L514.5,457.9 L518.5,457.8 L522.5,457.9 L526.5,458.1 L530.5,457.7 L534.5,458.0 L538.5,458.0 L542.5,457.7 L546.5,457.9 L550.5,458.1 L554.5,458.0 L558.5,457.7 L562.5,458.3 L566.5,458.2 L570.5,458.3" stroke="#d8d470" stroke-width="4" fill="none" stroke-linejoin="round" /><path d="M310.5,462.3 L314.5,462.4 L318.5,462.3 L322.5,462.6 L326.5,462.4 L330.5,462.4 L334.5,462.5 L338.5,462.7 L342.5,462.6 L346.5,462.4 L350.5,462.4 L354.5,462.7 L358.5,462.5 L362.5,462.6 L366.5,462.3 L370.5,462.3 L374.5,462.6 L378.5,462.5 L382.5,462.3 L386.5,462.7 L390.5,462.6 L394.5,462.6 L398.5,462.3 L402.5,462.6 L406.5,462.3 L410.5,462.6 L414.5,462.5 L418.5,462.4 L422.5,462.5 L426.5,462.7 L430.5,462.4 L434.5,462.4 L438.5,462.5 L442.5,462.4 L446.5,462.3 L450.5,462.4 L454.5,462.3 L458.5,462.4 L462.5,462.4 L466.5,462.4 L470.5,462.6 L474.5,462.4 L478.5,462.5 L482.5,462.4 L486.5,462.4 L490.5,462.3 L494.5,462.4 L498.5,462.3 L502.5,462.6 L506.5,462.5 L510.5,462.4 L514.5,462.5 L518.5,462.7 L522.5,462.3 L526.5,462.6 L530.5,462.5 L534.5,462.5 L538.5,462.6 L542.5,462.5 L546.5,462.5 L550.5,462.6 L554.5,462.7 L558.5,462.4 L562.5,462.6 L566.5,462.6 L570.5,462.6" stroke="#6a16a0" stroke-width="3" fill="none" stroke-linejoin="round" /><path d="M310.5,466.5 L314.5,466.4 L318.5,466.3 L322.5,466.4 L326.5,466.3 L330.5,466.6 L334.5,466.4 L338.5,466.4 L342.5,466.3 L346.5,466.6 L350.5,466.6 L354.5,466.6 L358.5,466.4 L362.5,466.4 L366.5,466.4 L370.5,466.5 L374.5,466.4 L378.5,466.5 L382.5,466.4 L386.5,466.7 L390.5,466.7 L394.5,466.5 L398.5,466.4 L402.5,466.7 L406.5,466.4 L410.5,466.4 L414.5,466.3 L418.5,466.5 L422.5,466.5 L426.5,466.5 L430.5,466.4 L434.5,466.5 L438.5,466.3 L442.5,466.4 L446.5,466.3 L450.5,466.5 L454.5,466.3 L458.5,466.3 L462.5,466.4 L466.5,466.4 L470.5,466.5 L474.5,466.5 L478.5,466.6 L482.5,466.6 L486.5,466.6 L490.5,466.7 L494.5,466.5 L498.5,466.4 L502.5,466.7 L506.5,466.4 L510.5,466.6 L514.5,466.6 L518.5,466.3 L522.5,466.6 L526.5,466.7 L530.5,466.6 L534.5,466.6 L538.5,466.6 L542.5,466.4 L546.5,466.5 L550.5,466.5 L554.5,466.6 L558.5,466.6 L562.5,466.6 L566.5,466.5 L570.5,466.7" stroke="#f0a040" stroke-width="2" fill="none" stroke-linejoin="round" /><path d="M310.5,469.6 L314.5,469.6 L318.5,469.4 L322.5,469.3 L326.5,469.4 L330.5,469.4 L334.5,469.3 L338.5,469.6 L342.5,469.5 L346.5,469.6 L350.5,469.6 L354.5,469.6 L358.5,469.5 L362.5,469.3 L366.5,469.6 L370.5,469.6 L374.5,469.5 L378.5,469.5 L382.5,469.6 L386.5,469.3 L390.5,469.6 L394.5,469.4 L398.5,469.3 L402.5,469.4 L406.5,469.6 L410.5,469.4 L414.5,469.6 L418.5,469.7 L422.5,469.5 L426.5,469.5 L430.5,469.5 L434.5,469.6 L438.5,469.6 L442.5,469.5 L446.5,469.6 L450.5,469.3 L454.5,469.4 L458.5,469.4 L462.5,469.6 L466.5,469.4 L470.5,469.5 L474.5,469.3 L478.5,469.3 L482.5,469.4 L486.5,469.6 L490.5,469.6 L494.5,469.6 L498.5,469.4 L502.5,469.5 L506.5,469.5 L510.5,469.5 L514.5,469.3 L518.5,469.7 L522.5,469.4 L526.5,469.7 L530.5,469.7 L534.5,469.3 L538.5,469.5 L542.5,469.6 L546.5,469.7 L550.5,469.5 L554.5,469.4 L558.5,469.4 L562.5,469.7 L566.5,469.4 L570.5,469.5" stroke="#f2e040" stroke-width="2" fill="none" stroke-linejoin="round" /><path d="M310.5,451.3 L313.5,451.7 L316.5,452.0 L319.5,451.6 L322.5,452.1 L325.5,452.0 L328.5,452.3 L331.5,452.2 L334.5,451.9 L337.5,452.3 L340.5,452.0 L343.5,451.7 L346.5,451.6 L349.5,451.8 L352.5,451.7 L355.5,451.4 L358.5,451.2 L361.5,451.2 L364.5,451.1 L367.5,451.3 L370.5,450.7 L373.5,451.1 L376.5,451.1 L379.5,450.7 L382.5,451.2 L385.5,451.1 L388.5,451.2 L391.5,450.9 L394.5,451.1 L397.5,451.2 L400.5,451.7 L403.5,451.5 L406.5,451.5 L409.5,451.7 L412.5,451.7 L415.5,451.6 L418.5,451.7 L421.5,452.2 L424.5,452.0 L427.5,452.4 L430.5,451.9 L433.5,451.9 L436.5,452.0 L439.5,451.7 L442.5,451.8 L445.5,452.0 L448.5,451.8 L451.5,451.7 L454.5,451.5 L457.5,451.5 L460.5,451.4 L463.5,451.1 L466.5,451.1 L469.5,450.7 L472.5,451.0 L475.5,450.9 L478.5,451.1 L481.5,451.0 L484.5,450.9 L487.5,450.8 L490.5,451.5 L493.5,451.1 L496.5,451.4 L499.5,451.4 L502.5,451.5 L505.5,451.9 L508.5,452.2 L511.5,451.8 L514.5,452.1 L517.5,452.0 L520.5,452.1 L523.5,452.0 L526.5,451.9 L529.5,451.8 L532.5,451.8 L535.5,452.1 L538.5,451.8 L541.5,451.5 L544.5,451.8 L547.5,451.7 L550.5,451.3 L553.5,451.0 L556.5,450.9 L559.5,450.8 L562.5,450.9 L565.5,450.7 L568.5,450.7 L571.5,450.8" stroke="#2b6c8c" stroke-width="2" fill="none" stroke-linejoin="round" /><path d="M310.5,453.4 L313.5,453.6 L316.5,453.6 L319.5,453.5 L322.5,453.6 L325.5,453.7 L328.5,453.7 L331.5,453.7 L334.5,453.5 L337.5,453.7 L340.5,454.1 L343.5,453.6 L346.5,453.8 L349.5,453.8 L352.5,453.9 L355.5,453.5 L358.5,453.4 L361.5,453.4 L364.5,453.4 L367.5,453.3 L370.5,453.5 L373.5,453.4 L376.5,453.3 L379.5,452.7 L382.5,452.6 L385.5,452.9 L388.5,452.9 L391.5,452.6 L394.5,452.6 L397.5,452.1 L400.5,452.3 L403.5,452.6 L406.5,452.5 L409.5,452.5 L412.5,452.5 L415.5,452.1 L418.5,452.0 L421.5,452.0 L424.5,452.2 L427.5,452.4 L430.5,452.6 L433.5,452.5 L436.5,452.5 L439.5,452.6 L442.5,452.5 L445.5,452.7 L448.5,452.5 L451.5,453.0 L454.5,452.8 L457.5,453.3 L460.5,453.2 L463.5,453.1 L466.5,453.1 L469.5,453.2 L472.5,453.5 L475.5,453.7 L478.5,453.4 L481.5,453.4 L484.5,453.7 L487.5,453.8 L490.5,453.7 L493.5,453.6 L496.5,453.9 L499.5,453.5 L502.5,453.7 L505.5,453.7 L508.5,454.0 L511.5,453.7 L514.5,453.8 L517.5,453.5 L520.5,453.3 L523.5,453.2 L526.5,453.6 L529.5,453.3 L532.5,453.0 L535.5,452.7 L538.5,452.9 L541.5,452.9 L544.5,452.7 L547.5,452.5 L550.5,452.7 L553.5,452.7 L556.5,452.2 L559.5,452.1 L562.5,452.2 L565.5,452.2 L568.5,452.3 L571.5,452.0" stroke="#2a8a5a" stroke-width="3" fill="none" stroke-linejoin="round" /><ellipse cx="327" cy="454" rx="3" ry="2.6" fill="#fff" stroke="#2b5c7c" stroke-width="1"/><ellipse cx="355" cy="454" rx="3" ry="2.6" fill="#fff" stroke="#2b5c7c" stroke-width="1"/><ellipse cx="383" cy="454" rx="3" ry="2.6" fill="#fff" stroke="#2b5c7c" stroke-width="1"/><ellipse cx="437" cy="454" rx="3" ry="2.6" fill="#fff" stroke="#2b5c7c" stroke-width="1"/><ellipse cx="466" cy="454" rx="3" ry="2.6" fill="#fff" stroke="#2b5c7c" stroke-width="1"/><ellipse cx="475" cy="454" rx="3" ry="2.6" fill="#fff" stroke="#2b5c7c" stroke-width="1"/><ellipse cx="493" cy="454" rx="3" ry="2.6" fill="#fff" stroke="#2b5c7c" stroke-width="1"/><ellipse cx="521" cy="454" rx="3" ry="2.6" fill="#fff" stroke="#2b5c7c" stroke-width="1"/><ellipse cx="549" cy="454" rx="3" ry="2.6" fill="#fff" stroke="#2b5c7c" stroke-width="1"/><path d="M641.9,371.3 L643.1,365.8 L644.3,360.1 L645.5,354.1 L646.7,353.6 L647.9,359.6 L649.1,365.4 L650.3,370.9 L651.5,376.1 L652.7,381.0 L653.9,385.6 L655.1,389.8 L656.3,393.6 L657.5,397.0 L658.7,399.8 L659.9,401.8 L661.1,401.8 L662.3,399.8 L663.5,397.0 L664.7,393.6 L665.9,389.8 L667.1,385.6 L668.3,381.0 L669.5,376.1 L670.7,370.9 L671.9,365.4 L673.1,359.6 L674.3,353.6 L675.5,354.1 L676.7,360.1 L677.9,365.8 L679.1,371.3 L680.3,376.5 L681.5,381.4 L682.7,386.0 L683.9,390.2 L685.1,393.9 L686.3,397.3 L687.5,400.0 L688.7,401.9 L689.9,401.6 L691.1,399.4 L692.3,396.4 L693.5,392.9 L694.7,388.9 L695.9,384.5 L697.1,379.8 L698.3,374.7 L699.5,369.3 L700.7,363.7 L701.9,357.8 L703.1,351.6 L704.3,353.0 L705.5,358.8 L706.7,364.4 L707.9,369.8 L709.1,374.8 L710.3,379.6 L711.5,384.0 L712.7,388.0 L713.9,391.6 L715.1,394.8 L716.3,397.3 L717.5,399.1 L718.7,398.4 L719.9,396.1 L721.1,393.1 L722.3,389.5 L723.5,385.4 L724.7,381.0 L725.9,376.1 L727.1,371.0 L728.3,365.5 L729.5,359.7 L730.7,353.6 L731.9,347.3 L733.1,349.7 L734.3,355.6 L735.5,361.2 L736.7,366.6 L737.9,371.7 L739.1,376.5 L740.3,380.9 L741.5,385.0 L742.7,388.7 L743.9,391.8 L745.1,394.4 L746.3,396.1 L747.5,395.2 L748.7,392.8 L749.9,389.6 L751.1,386.0 L752.3,381.9 L753.5,377.4 L754.7,372.6 L755.9,367.5 L757.1,362.1 L758.3,356.4 L759.5,350.5 L760.7,344.4 L761.9,348.0 L763.1,353.9 L764.3,359.5 L765.5,364.8 L766.7,369.9 L767.9,374.5 L769.1,378.8 L770.3,382.8 L771.5,386.3 L772.7,389.3 L773.9,391.7 L775.1,393.1 L776.3,392.0 L777.5,389.5 L778.7,386.4 L779.9,382.9 L781.1,379.0 L782.3,374.8 L783.5,370.4 L784.7,365.7 L785.9,360.9 L787.1,355.8 L788.3,350.6 L789.5,345.3 L790.7,349.5 L791.9,354.7 L793.1,359.6 L794.3,364.2 L795.5,368.5 L796.7,372.4 L797.9,376.0 L799.1,379.2 L800.3,382.0 L801.5,384.4 L802.7,386.2 L803.9,387.1 L805.1,386.2 L806.3,384.3 L807.5,381.9 L808.7,379.1 L809.9,375.9 L811.1,372.5 L812.3,368.8 L813.5,364.9 L814.7,360.7 L815.9,356.4 L817.1,351.8 L818.3,347.1 L819.5,351.6 L820.7,356.2 L821.9,360.6 L823.1,364.8 L824.3,368.8 L825.5,372.5 L826.7,375.9 L827.9,379.0 L829.1,381.8 L830.3,384.2 L831.5,386.1 L832.7,387.2 L833.9,385.9 L835.1,383.9 L836.3,381.4 L837.5,378.7 L838.7,375.7 L839.9,372.5 L841.1,369.1 L842.3,365.6 L843.5,361.9 L844.7,358.2 L845.9,354.4 L847.1,350.9 L848.3,355.2 L849.5,359.1 L850.7,362.9 L851.9,366.3 L853.1,369.5 L854.3,372.4 L855.5,375.0 L856.7,377.3 L857.9,379.3 L859.1,380.9 L860.3,382.1 L861.5,382.6 L862.7,382.2 L863.9,381.2 L865.1,379.8 L866.3,378.1 L867.5,376.0 L868.7,373.8 L869.9,371.2 L871.1,368.4 L872.3,365.3 L873.5,362.1 L874.7,358.5 L875.9,355.8 L877.1,359.8 L878.3,363.8 L879.5,367.6 L880.7,371.4 L881.9,375.0 L883.1,378.4 L884.3,381.7 L885.5,384.8 L886.7,387.6 L887.9,390.0 L889.1,392.1 L890.3,393.1 L891.5,392.0 L892.7,390.2 L893.9,387.9 L895.1,385.3 L896.3,382.4 L897.5,379.3 L898.7,375.9 L899.9,372.3 L901.1,368.4 L902.3,364.4 L903.5,360.2 L904.7,357.7 L905.9,362.0 L907.1,366.1 L908.3,370.1" stroke="#b9b27f" stroke-width="2" fill="none" stroke-linejoin="round" /><path d="M641.9,380.2 L643.1,374.6 L644.3,368.8 L645.5,362.6 L646.7,356.2 L647.9,357.8 L649.1,364.2 L650.3,370.3 L651.5,376.0 L652.7,381.5 L653.9,386.7 L655.1,391.5 L656.3,395.9 L657.5,399.8 L658.7,403.3 L659.9,406.1 L661.1,408.1 L662.3,407.6 L663.5,405.4 L664.7,402.4 L665.9,398.8 L667.1,394.7 L668.3,390.1 L669.5,385.2 L670.7,380.0 L671.9,374.3 L673.1,368.4 L674.3,362.2 L675.5,355.7 L676.7,358.5 L677.9,364.9 L679.1,371.0 L680.3,376.9 L681.5,382.5 L682.7,387.8 L683.9,392.7 L685.1,397.2 L686.3,401.3 L687.5,404.8 L688.7,407.7 L689.9,409.7 L691.1,408.8 L692.3,406.2 L693.5,402.9 L694.7,398.9 L695.9,394.5 L697.1,389.6 L698.3,384.4 L699.5,378.7 L700.7,372.8 L701.9,366.4 L703.1,359.8 L704.3,353.0 L705.5,356.7 L706.7,363.1 L707.9,369.2 L709.1,375.0 L710.3,380.6 L711.5,385.7 L712.7,390.6 L713.9,395.0 L715.1,398.9 L716.3,402.3 L717.5,405.1 L718.7,406.8 L719.9,405.4 L721.1,402.5 L722.3,398.9 L723.5,394.7 L724.7,390.1 L725.9,385.1 L727.1,379.7 L728.3,374.0 L729.5,368.0 L730.7,361.7 L731.9,355.3 L733.1,348.5 L734.3,353.3 L735.5,359.5 L736.7,365.4 L737.9,370.9 L739.1,376.0 L740.3,380.9 L741.5,385.3 L742.7,389.2 L743.9,392.7 L745.1,395.7 L746.3,398.0 L747.5,399.3 L748.7,398.0 L749.9,395.4 L751.1,392.3 L752.3,388.6 L753.5,384.4 L754.7,379.9 L755.9,375.0 L757.1,369.9 L758.3,364.4 L759.5,358.6 L760.7,352.7 L761.9,346.4 L763.1,352.1 L764.3,358.1 L765.5,363.8 L766.7,369.2 L767.9,374.3 L769.1,379.0 L770.3,383.4 L771.5,387.4 L772.7,391.0 L773.9,394.0 L775.1,396.4 L776.3,397.8 L777.5,396.2 L778.7,393.6 L779.9,390.4 L781.1,386.8 L782.3,382.8 L783.5,378.5 L784.7,373.9 L785.9,369.1 L787.1,364.2 L788.3,359.0 L789.5,353.7 L790.7,348.7 L791.9,354.4 L793.1,359.8 L794.3,364.9 L795.5,369.7 L796.7,374.1 L797.9,378.2 L799.1,381.9 L800.3,385.2 L801.5,388.1 L802.7,390.5 L803.9,392.4 L805.1,393.2 L806.3,391.9 L807.5,389.9 L808.7,387.3 L809.9,384.3 L811.1,380.9 L812.3,377.3 L813.5,373.3 L814.7,369.1 L815.9,364.7 L817.1,360.0 L818.3,355.2 L819.5,351.4 L820.7,356.4 L821.9,361.2 L823.1,365.8 L824.3,370.2 L825.5,374.3 L826.7,378.2 L827.9,381.8 L829.1,385.1 L830.3,388.0 L831.5,390.4 L832.7,392.3 L833.9,393.1 L835.1,391.6 L836.3,389.3 L837.5,386.6 L838.7,383.6 L839.9,380.2 L841.1,376.7 L842.3,372.9 L843.5,369.0 L844.7,364.9 L845.9,360.8 L847.1,356.5 L848.3,354.0 L849.5,358.6 L850.7,362.9 L851.9,367.0 L853.1,370.8 L854.3,374.3 L855.5,377.5 L856.7,380.3 L857.9,382.9 L859.1,385.1 L860.3,386.9 L861.5,388.2 L862.7,388.7 L863.9,388.2 L865.1,387.0 L866.3,385.4 L867.5,383.4 L868.7,381.1 L869.9,378.4 L871.1,375.3 L872.3,372.0 L873.5,368.3 L874.7,364.3 L875.9,360.0 L877.1,358.2 L878.3,363.1 L879.5,367.9 L880.7,372.6 L881.9,377.1 L883.1,381.6 L884.3,385.8 L885.5,389.9 L886.7,393.7 L887.9,397.1 L889.1,400.2 L890.3,402.7 L891.5,403.6 L892.7,402.0 L893.9,399.6 L895.1,396.7 L896.3,393.4 L897.5,389.7 L898.7,385.7 L899.9,381.4 L901.1,376.9 L902.3,372.1 L903.5,367.0 L904.7,361.7 L905.9,360.4 L907.1,365.7 L908.3,370.8" stroke="#e6642e" stroke-width="2" fill="none" stroke-linejoin="round" /><path d="M641.9,399.8 L643.1,393.2 L644.3,386.2 L645.5,378.8 L646.7,371.1 L647.9,363.1 L649.1,367.8 L650.3,375.7 L651.5,383.2 L652.7,390.4 L653.9,397.1 L655.1,403.5 L656.3,409.4 L657.5,414.8 L658.7,419.7 L659.9,423.9 L661.1,427.3 L662.3,429.5 L663.5,428.1 L664.7,424.9 L665.9,420.9 L667.1,416.1 L668.3,410.8 L669.5,405.1 L670.7,398.8 L671.9,392.2 L673.1,385.2 L674.3,377.9 L675.5,370.3 L676.7,362.4 L677.9,368.3 L679.1,375.9 L680.3,383.2 L681.5,390.1 L682.7,396.6 L683.9,402.6 L685.1,408.2 L686.3,413.3 L687.5,417.8 L688.7,421.7 L689.9,424.7 L691.1,426.6 L692.3,425.5 L693.5,422.9 L694.7,419.4 L695.9,415.1 L697.1,410.2 L698.3,404.6 L699.5,398.4 L700.7,391.7 L701.9,384.4 L703.1,376.6 L704.3,368.3 L705.5,359.4 L706.7,367.4 L707.9,375.8 L709.1,384.1 L710.3,392.1 L711.5,399.7 L712.7,407.1 L713.9,414.1 L715.1,420.6 L716.3,426.5 L717.5,431.7 L718.7,436.0 L719.9,438.8 L721.1,435.6 L722.3,430.9 L723.5,425.2 L724.7,418.9 L725.9,412.0 L727.1,404.7 L728.3,397.0 L729.5,389.1 L730.7,380.8 L731.9,372.4 L733.1,363.7 L734.3,355.6 L735.5,364.0 L736.7,371.8 L737.9,379.0 L739.1,385.7 L740.3,391.9 L741.5,397.4 L742.7,402.4 L743.9,406.7 L745.1,410.4 L746.3,413.3 L747.5,415.3 L748.7,416.0 L749.9,414.5 L751.1,411.9 L752.3,408.5 L753.5,404.3 L754.7,399.6 L755.9,394.3 L757.1,388.5 L758.3,382.3 L759.5,375.5 L760.7,368.4 L761.9,360.8 L763.1,354.8 L764.3,362.8 L765.5,370.7 L766.7,378.3 L767.9,385.6 L769.1,392.6 L770.3,399.2 L771.5,405.5 L772.7,411.2 L773.9,416.5 L775.1,421.1 L776.3,424.7 L777.5,426.4 L778.7,423.4 L779.9,419.3 L781.1,414.4 L782.3,408.9 L783.5,402.9 L784.7,396.6 L785.9,390.0 L787.1,383.1 L788.3,376.0 L789.5,368.7 L790.7,361.3 L791.9,356.9 L793.1,364.4 L794.3,371.5 L795.5,378.0 L796.7,384.1 L797.9,389.6 L799.1,394.7 L800.3,399.2 L801.5,403.1 L802.7,406.5 L803.9,409.1 L805.1,410.9 L806.3,411.4 L807.5,410.0 L808.7,407.7 L809.9,404.6 L811.1,401.0 L812.3,396.9 L813.5,392.4 L814.7,387.3 L815.9,381.9 L817.1,376.1 L818.3,369.8 L819.5,363.2 L820.7,360.4 L821.9,367.6 L823.1,374.5 L824.3,381.3 L825.5,387.8 L826.7,394.0 L827.9,399.8 L829.1,405.4 L830.3,410.5 L831.5,415.1 L832.7,419.1 L833.9,422.3 L835.1,423.0 L836.3,419.9 L837.5,415.9 L838.7,411.4 L839.9,406.4 L841.1,401.2 L842.3,395.7 L843.5,390.1 L844.7,384.3 L845.9,378.4 L847.1,372.5 L848.3,366.6 L849.5,365.2 L850.7,371.2 L851.9,376.7 L853.1,381.7 L854.3,386.3 L855.5,390.3 L856.7,393.9 L857.9,397.0 L859.1,399.5 L860.3,401.6 L861.5,403.0 L862.7,403.8 L863.9,404.3 L865.1,404.5 L866.3,403.9 L867.5,402.7 L868.7,400.8 L869.9,398.4 L871.1,395.3 L872.3,391.7 L873.5,387.4 L874.7,382.6 L875.9,377.1 L877.1,371.0 L878.3,370.7 L879.5,377.8 L880.7,385.0 L881.9,392.2 L883.1,399.4 L884.3,406.6 L885.5,413.6 L886.7,420.5 L887.9,427.0 L889.1,433.1 L890.3,438.6 L891.5,443.2 L892.7,444.1 L893.9,441.1 L895.1,437.0 L896.3,432.1 L897.5,426.4 L898.7,420.2 L899.9,413.5 L901.1,406.2 L902.3,398.6 L903.5,390.5 L904.7,382.0 L905.9,373.1 L907.1,373.9 L908.3,382.7" stroke="#a3262c" stroke-width="2.5" fill="none" stroke-linejoin="round" /><path d="M641.9,411.5 L643.1,402.1 L644.3,392.2 L645.5,381.7 L646.7,370.7 L647.9,359.2 L649.1,366.0 L650.3,377.2 L651.5,387.9 L652.7,398.1 L653.9,407.7 L655.1,416.8 L656.3,425.2 L657.5,432.9 L658.7,439.8 L659.9,445.8 L661.1,450.6 L662.3,453.7 L663.5,451.8 L664.7,447.4 L665.9,441.7 L667.1,435.0 L668.3,427.4 L669.5,419.1 L670.7,410.2 L671.9,400.6 L673.1,390.4 L674.3,379.7 L675.5,368.5 L676.7,356.8 L677.9,365.4 L679.1,376.5 L680.3,387.2 L681.5,397.3 L682.7,406.9 L683.9,415.9 L685.1,424.3 L686.3,432.0 L687.5,438.8 L688.7,444.7 L689.9,449.5 L691.1,452.4 L692.3,450.2 L693.5,445.8 L694.7,440.1 L695.9,433.4 L697.1,425.7 L698.3,417.3 L699.5,408.1 L700.7,398.3 L701.9,387.8 L703.1,376.7 L704.3,365.0 L705.5,352.8 L706.7,363.8 L707.9,375.5 L709.1,386.8 L710.3,397.6 L711.5,407.8 L712.7,417.4 L713.9,426.5 L715.1,434.8 L716.3,442.2 L717.5,448.7 L718.7,453.9 L719.9,457.0 L721.1,453.9 L722.3,448.8 L723.5,442.3 L724.7,434.8 L725.9,426.3 L727.1,417.1 L728.3,407.2 L729.5,396.6 L730.7,385.5 L731.9,373.7 L733.1,361.4 L734.3,349.7 L735.5,362.2 L736.7,374.2 L737.9,385.6 L739.1,396.5 L740.3,406.8 L741.5,416.4 L742.7,425.3 L743.9,433.4 L745.1,440.6 L746.3,446.7 L747.5,451.5 L748.7,453.8 L749.9,450.1 L751.1,444.4 L752.3,437.6 L753.5,429.9 L754.7,421.4 L755.9,412.3 L757.1,402.7 L758.3,392.6 L759.5,382.1 L760.7,371.2 L761.9,360.0 L763.1,351.5 L764.3,363.0 L765.5,374.0 L766.7,384.2 L767.9,393.8 L769.1,402.8 L770.3,411.0 L771.5,418.4 L772.7,425.0 L773.9,430.7 L775.1,435.4 L776.3,438.9 L777.5,440.1 L778.7,437.0 L779.9,432.5 L781.1,426.9 L782.3,420.7 L783.5,413.9 L784.7,406.5 L785.9,398.7 L787.1,390.5 L788.3,382.0 L789.5,373.2 L790.7,364.1 L791.9,358.9 L793.1,368.7 L794.3,377.9 L795.5,386.6 L796.7,394.7 L797.9,402.3 L799.1,409.2 L800.3,415.5 L801.5,421.2 L802.7,426.1 L803.9,430.1 L805.1,433.1 L806.3,434.1 L807.5,432.1 L808.7,428.9 L809.9,424.7 L811.1,419.7 L812.3,414.0 L813.5,407.6 L814.7,400.6 L815.9,393.0 L817.1,384.8 L818.3,376.1 L819.5,366.8 L820.7,362.7 L821.9,372.2 L823.1,381.5 L824.3,390.6 L825.5,399.3 L826.7,407.7 L827.9,415.6 L829.1,423.2 L830.3,430.1 L831.5,436.4 L832.7,441.8 L833.9,446.1 L835.1,447.2 L836.3,443.4 L837.5,438.3 L838.7,432.4 L839.9,425.9 L841.1,418.9 L842.3,411.6 L843.5,404.0 L844.7,396.1 L845.9,388.1 L847.1,380.0 L848.3,371.8 L849.5,370.2 L850.7,379.3 L851.9,387.7 L853.1,395.4 L854.3,402.5 L855.5,408.9 L856.7,414.7 L857.9,419.7 L859.1,424.1 L860.3,427.7 L861.5,430.5 L862.7,432.3 L863.9,432.8 L865.1,431.9 L866.3,430.0 L867.5,427.1 L868.7,423.4 L869.9,418.9 L871.1,413.6 L872.3,407.6 L873.5,400.8 L874.7,393.2 L875.9,384.9 L877.1,375.7 L878.3,374.7 L879.5,383.9 L880.7,393.2 L881.9,402.4 L883.1,411.5 L884.3,420.4 L885.5,429.1 L886.7,437.5 L887.9,445.4 L889.1,452.7 L890.3,459.2 L891.5,464.4 L892.7,465.1 L893.9,461.2 L895.1,455.7 L896.3,449.2 L897.5,441.8 L898.7,433.6 L899.9,424.7 L901.1,415.2 L902.3,405.0 L903.5,394.3 L904.7,383.1 L905.9,371.4 L907.1,372.4 L908.3,384.1" stroke="#f0ae3c" stroke-width="3.2" fill="none" stroke-linejoin="round" /><path d="M641.9,463.3 L643.1,463.0 L644.3,462.3 L645.5,461.3 L646.7,462.9 L647.9,461.1 L649.1,462.0 L650.3,460.4 L651.5,460.1 L652.7,461.1 L653.9,459.7 L655.1,461.2 L656.3,460.4 L657.5,461.5 L658.7,466.4 L659.9,472.5 L661.1,474.1 L662.3,469.9 L663.5,462.2 L664.7,459.8 L665.9,458.5 L667.1,460.2 L668.3,458.3 L669.5,458.2 L670.7,458.4 L671.9,459.4 L673.1,460.8 L674.3,461.0 L675.5,460.9 L676.7,461.8 L677.9,461.9 L679.1,460.7 L680.3,460.6 L681.5,462.7 L682.7,462.5 L683.9,461.2 L685.1,463.9 L686.3,466.7 L687.5,472.7 L688.7,477.2 L689.9,475.2 L691.1,469.0 L692.3,464.9 L693.5,463.1 L694.7,464.1 L695.9,462.0 L697.1,463.9 L698.3,461.9 L699.5,462.1 L700.7,463.0 L701.9,462.8 L703.1,461.6 L704.3,460.5 L705.5,461.2 L706.7,460.7 L707.9,461.8 L709.1,459.8 L710.3,460.0 L711.5,461.5 L712.7,461.1 L713.9,466.6 L715.1,473.3 L716.3,474.7 L717.5,468.4 L718.7,462.4 L719.9,459.2 L721.1,460.2 L722.3,458.5 L723.5,459.7 L724.7,460.1 L725.9,458.9 L727.1,458.9 L728.3,460.7 L729.5,460.1 L730.7,459.5 L731.9,460.8 L733.1,460.1 L734.3,460.3 L735.5,459.9 L736.7,462.0 L737.9,462.6 L739.1,462.4 L740.3,464.7 L741.5,466.5 L742.7,473.2 L743.9,477.6 L745.1,476.1 L746.3,470.2 L747.5,464.6 L748.7,462.8 L749.9,462.9 L751.1,462.9 L752.3,463.9 L753.5,462.0 L754.7,463.4 L755.9,463.1 L757.1,463.1 L758.3,462.7 L759.5,462.1 L760.7,461.2 L761.9,460.9 L763.1,460.7 L764.3,461.5 L765.5,459.5 L766.7,459.6 L767.9,460.7 L769.1,459.5 L770.3,460.1 L771.5,463.6 L772.7,470.7 L773.9,473.7 L775.1,472.5 L776.3,466.2 L777.5,462.1 L778.7,458.8 L779.9,458.1 L781.1,458.2 L782.3,459.3 L783.5,459.9 L784.7,459.5 L785.9,459.2 L787.1,459.8 L788.3,460.6 L789.5,460.9 L790.7,461.4 L791.9,461.9 L793.1,461.7 L794.3,460.7 L795.5,462.6 L796.7,461.6 L797.9,462.4 L799.1,462.2 L800.3,463.6 L801.5,464.0 L802.7,468.5 L803.9,474.6 L805.1,477.1 L806.3,475.2 L807.5,468.4 L808.7,464.0 L809.9,462.8 L811.1,463.9 L812.3,462.5 L813.5,461.7 L814.7,462.8 L815.9,462.2 L817.1,462.8 L818.3,460.4 L819.5,461.0 L820.7,461.6 L821.9,461.4 L823.1,461.3 L824.3,459.0 L825.5,459.3 L826.7,458.7 L827.9,458.7 L829.1,460.5 L830.3,459.8 L831.5,462.1 L832.7,464.9 L833.9,472.1 L835.1,473.9 L836.3,469.8 L837.5,465.1 L838.7,461.9 L839.9,458.7 L841.1,459.8 L842.3,460.1 L843.5,459.3 L844.7,459.9 L845.9,459.6 L847.1,460.0 L848.3,460.4 L849.5,461.5 L850.7,461.9 L851.9,461.1 L853.1,460.9 L854.3,461.8 L855.5,462.9 L856.7,461.9 L857.9,462.5 L859.1,463.3 L860.3,468.1 L861.5,473.4 L862.7,476.7 L863.9,475.1 L865.1,469.8 L866.3,465.4 L867.5,463.5 L868.7,461.6 L869.9,461.5 L871.1,462.6 L872.3,461.7 L873.5,461.1 L874.7,460.9 L875.9,462.2 L877.1,460.4 L878.3,460.8 L879.5,460.0 L880.7,459.9 L881.9,460.8 L883.1,461.1 L884.3,460.7 L885.5,463.9 L886.7,471.1 L887.9,473.4 L889.1,470.1 L890.3,466.2 L891.5,460.8 L892.7,460.2 L893.9,458.9 L895.1,460.2 L896.3,459.3 L897.5,458.7 L898.7,458.6 L899.9,459.0 L901.1,448.9 L902.3,442.6 L903.5,455.3 L904.7,461.1 L905.9,460.9 L907.1,461.5 L908.3,460.9" stroke="#3f5ea6" stroke-width="2" fill="none" stroke-linejoin="round" /><path d="M311.4,698.9 L313.9,699.5 L316.4,700.5 L318.9,698.5 L321.4,699.5 L323.9,700.2 L326.4,700.6 L328.9,698.8 L331.4,698.6 L333.9,700.6 L336.4,700.6 L338.9,699.4 L341.4,698.4 L343.9,700.5 L346.4,699.2 L348.9,700.4 L351.4,699.7 L353.9,700.1 L356.4,698.5 L358.9,700.0 L361.4,698.6 L363.9,699.0 L366.4,700.0 L368.9,699.9 L371.4,698.3 L373.9,698.4 L376.4,698.8 L378.9,699.0 L381.4,698.6 L383.9,698.0 L386.4,698.2 L388.9,699.3 L391.4,699.7 L393.9,697.6 L396.4,698.8 L398.9,699.3 L401.4,697.5 L403.9,699.4 L406.4,697.7 L408.9,698.8 L411.4,698.7 L413.9,698.8 L416.4,698.1 L418.9,698.3 L421.4,698.7 L423.9,698.3 L426.4,698.9 L428.9,698.4 L431.4,698.4 L433.9,697.4 L436.4,698.8 L438.9,698.5 L441.4,697.9 L443.9,699.2 L446.4,699.3 L448.9,698.6 L451.4,697.9 L453.9,698.7 L456.4,697.8 L458.9,697.9 L461.4,698.7 L463.9,697.9 L466.4,698.8 L468.9,699.0 L471.4,697.9 L473.9,699.4 L476.4,698.1 L478.9,699.7 L481.4,699.8 L483.9,699.2 L486.4,698.2 L488.9,699.3 L491.4,699.0 L493.9,700.4 L496.4,698.5 L498.9,700.3 L501.4,700.6 L503.9,700.0 L506.4,700.2 L508.9,698.7 L511.4,700.6 L513.9,699.5 L516.4,700.6 L518.9,700.5 L521.4,698.7 L523.9,700.2 L526.4,700.5 L528.9,698.4 L531.4,699.1 L533.9,700.0 L536.4,698.6 L538.9,700.3 L541.4,698.8 L543.9,700.1 L546.4,698.4 L548.9,699.3 L551.4,700.2 L553.9,698.5 L556.4,698.6 L558.9,699.1 L561.4,698.6 L563.9,697.9 L566.4,698.2 L568.9,698.1 L571.4,699.9" stroke="#42589e" stroke-width="2" fill="none" stroke-linejoin="round" /><path d="M311.0,840.3 L313.0,841.4 L315.0,841.0 L317.0,842.7 L319.0,841.1 L321.0,841.0 L323.0,840.4 L325.0,839.2 L327.0,839.3 L329.0,838.0 L331.0,837.3 L333.0,838.0 L335.0,837.1 L337.0,839.0 L339.0,838.8 L341.0,838.9 L343.0,839.9 L345.0,839.5 L347.0,840.8 L349.0,840.1 L351.0,839.8 L353.0,840.3 L355.0,838.9 L357.0,837.5 L359.0,837.6 L361.0,835.5 L363.0,835.9 L365.0,834.1 L367.0,833.8 L369.0,833.7 L371.0,832.3 L373.0,831.8 L375.0,830.5 L377.0,829.4 L379.0,828.4 L381.0,827.5 L383.0,827.1 L385.0,825.7 L387.0,824.8 L389.0,824.3 L391.0,821.9 L393.0,821.6 L395.0,822.0 L397.0,820.7 L399.0,820.6 L401.0,822.8 L403.0,824.0 L405.0,826.0 L407.0,827.4 L409.0,827.4 L411.0,825.9 L413.0,823.9 L415.0,823.1 L417.0,821.3 L419.0,820.2 L421.0,822.1 L423.0,821.7 L425.0,822.2 L427.0,822.8 L429.0,824.4 L431.0,825.2 L433.0,824.9 L435.0,824.0 L437.0,823.6 L439.0,822.9 L441.0,823.7 L443.0,823.3 L445.0,822.8 L447.0,823.5 L449.0,823.4 L451.0,824.4 L453.0,824.4 L455.0,823.8 L457.0,825.1 L459.0,824.0 L461.0,824.4 L463.0,823.8 L465.0,823.2 L467.0,822.6 L469.0,823.4 L471.0,821.8 L473.0,822.3 L475.0,823.3 L477.0,822.3 L479.0,822.8 L481.0,823.8 L483.0,824.0 L485.0,824.6 L487.0,825.3 L489.0,824.6 L491.0,825.2 L493.0,825.2 L495.0,823.3 L497.0,823.2 L499.0,821.6 L501.0,820.0 L503.0,818.2 L505.0,819.1 L507.0,818.4 L509.0,817.5 L511.0,817.4 L513.0,816.5 L515.0,815.6 L517.0,814.9 L519.0,814.6 L521.0,813.8 L523.0,813.7 L525.0,813.9 L527.0,813.3 L529.0,813.0 L531.0,812.1 L533.0,810.5 L535.0,810.0 L537.0,809.0 L539.0,808.6 L541.0,807.3 L543.0,806.0 L545.0,806.0 L547.0,806.2 L549.0,804.6 L551.0,805.4 L553.0,803.6 L555.0,803.7 L557.0,803.3 L559.0,803.5 L561.0,802.8 L563.0,801.5 L565.0,799.9 L567.0,799.8 L569.0,798.0" stroke="#e0541e" stroke-width="2.5" fill="none" stroke-linejoin="round" /><path d="M663.8,706.5 L665.0,679.5 L666.2,679.2 L667.4,679.5 L668.6,679.6 L669.8,680.3 L671.0,679.5 L672.2,680.3 L673.4,680.1 L674.6,680.4 L675.8,679.6 L677.0,680.1 L678.2,679.8 L679.4,679.2 L680.6,679.0 L681.8,679.6 L683.0,678.5 L684.2,679.8 L685.4,678.3 L686.6,678.0 L687.8,678.0 L689.0,679.3 L690.2,678.1 L691.4,677.6 L692.6,677.3 L693.8,677.3 L695.0,678.4 L696.2,678.2 L697.4,678.3 L698.6,678.4 L699.8,677.2 L701.0,678.2 L702.2,677.9 L703.4,678.8 L704.6,678.9 L705.8,679.2 L707.0,678.0 L708.2,679.6 L709.4,679.9 L710.6,680.3 L711.8,679.0 L713.0,679.5 L714.2,679.6 L715.4,679.8 L716.6,681.6 L717.8,681.8 L719.0,681.8 L720.2,682.4 L721.4,682.4 L722.6,682.0 L723.8,681.9 L725.0,682.2 L726.2,683.6 L727.4,682.7 L728.6,683.1 L729.8,683.4 L731.0,682.8 L732.2,683.3 L733.4,683.4 L734.6,684.2 L735.8,683.6 L737.0,683.4 L738.2,684.5 L739.4,683.6 L740.6,684.2 L741.8,683.6 L743.0,682.4 L744.2,683.0 L745.4,682.9 L746.6,683.3 L747.8,682.4 L749.0,682.9 L750.2,682.5 L751.4,681.8 L752.6,682.9 L753.8,681.4 L755.0,682.6 L756.2,681.4 L757.4,681.1 L758.6,681.4 L759.8,682.4 L761.0,682.9 L762.2,681.2 L763.4,682.2 L764.6,682.3 L765.8,683.0 L767.0,682.1 L768.2,682.9 L769.4,682.9 L770.6,684.0 L771.8,683.2 L773.0,684.7 L774.2,683.8 L775.4,684.0 L776.6,685.2 L777.8,685.1 L779.0,684.7 L780.2,685.9 L781.4,685.2 L782.6,686.7 L783.8,686.8 L785.0,687.1 L786.2,687.0 L787.4,686.7 L788.6,686.9 L789.8,687.0 L791.0,688.0 L792.2,686.6 L793.4,688.1 L794.6,686.5 L795.8,686.8 L797.0,686.8 L798.2,687.9 L799.4,687.1 L800.6,686.8 L801.8,687.5 L803.0,686.2 L804.2,686.5 L805.4,686.4 L806.6,686.7 L807.8,686.5 L809.0,686.2 L810.2,685.5 L811.4,685.3 L812.6,684.9 L813.8,686.0 L815.0,685.6 L816.2,685.7 L817.4,684.7 L818.6,685.2 L819.8,685.8 L821.0,685.5 L822.2,684.8 L823.4,685.5 L824.6,686.4 L825.8,685.4 L827.0,685.5 L828.2,685.9 L829.4,686.9 L830.6,687.4 L831.8,686.4 L833.0,686.7 L834.2,687.2 L835.4,687.6 L836.6,688.2 L837.8,687.9 L839.0,688.5 L840.2,688.5 L841.4,690.2 L842.6,690.0 L843.8,689.1 L845.0,690.8 L846.2,689.5 L847.4,690.1 L848.6,691.3 L849.8,691.1 L851.0,691.0 L852.2,690.6 L853.4,690.1 L854.6,690.9 L855.8,689.9 L857.0,690.0 L858.2,690.3 L859.4,689.5 L860.6,690.1 L861.8,690.6 L863.0,690.3 L864.2,690.1 L865.4,690.4 L866.6,690.2 L867.8,689.7 L869.0,690.6 L870.2,690.4 L871.4,691.1 L872.6,691.6 L873.8,690.9 L875.0,691.3 L876.2,691.9 L877.4,691.5 L878.6,691.4 L879.8,692.6 L881.0,693.2 L882.2,693.4 L883.4,693.6 L884.6,694.3 L885.8,694.4 L887.0,694.8 L888.2,694.9 L889.4,695.2 L890.6,696.4 L891.8,696.3 L893.0,697.6 L894.2,699.1 L895.4,699.7 L896.6,700.3 L897.8,700.4 L899.0,701.5 L900.2,702.4 L901.4,703.4 L902.6,703.8 L903.8,705.0 L905.0,706.1 L906.2,705.4 L907.4,706.9 L908.6,707.8" stroke="#74c2ab" stroke-width="2.2" fill="none" stroke-linejoin="round" /><path d="M663.8,684.5 L664.8,683.5 L665.8,683.0 L666.8,683.2 L667.8,683.9 L668.8,685.2 L669.8,686.9 L670.8,689.0 L671.8,691.5 L672.8,694.1 L673.8,696.7 L674.8,699.3 L675.8,701.6 L676.8,703.7 L677.8,705.3 L678.8,706.4 L679.8,706.9 L680.8,706.9 L681.8,706.3 L682.8,705.1 L683.8,703.5 L684.8,701.4 L685.8,699.0 L686.8,696.5 L687.8,693.8 L688.8,691.2 L689.8,688.8 L690.8,686.7 L691.8,685.0 L692.8,683.8 L693.8,683.1 L694.8,683.0 L695.8,683.5 L696.8,684.6 L697.8,686.1 L698.8,688.1 L699.8,690.5 L700.8,693.0 L701.8,695.7 L702.8,698.3 L703.8,700.7 L704.8,702.9 L705.8,704.7 L706.8,706.0 L707.8,706.8 L708.8,707.0 L709.8,706.6 L710.8,705.7 L711.8,704.2 L712.8,702.3 L713.8,700.0 L714.8,697.5 L715.8,694.9 L716.8,692.2 L717.8,689.7 L718.8,687.5 L719.8,685.6 L720.8,684.2 L721.8,683.3 L722.8,683.0 L723.8,683.3 L724.8,684.1 L725.8,685.5 L726.8,687.3 L727.8,689.5 L728.8,692.0 L729.8,694.6 L730.8,697.2 L731.8,699.8 L732.8,702.1 L733.8,704.0 L734.8,705.5 L735.8,706.5 L736.8,707.0 L737.8,706.8 L738.8,706.1 L739.8,704.8 L740.8,703.1 L741.8,701.0 L742.8,698.5 L743.8,695.9 L744.8,693.3 L745.8,690.7 L746.8,688.4 L747.8,686.3 L748.8,684.7 L749.8,683.6 L750.8,683.1 L751.8,683.1 L752.8,683.7 L753.8,684.9 L754.8,686.5 L755.8,688.6 L756.8,691.0 L757.8,693.5 L758.8,696.2 L759.8,698.8 L760.8,701.2 L761.8,703.3 L762.8,705.0 L763.8,706.2 L764.8,706.9 L765.8,707.0 L766.8,706.5 L767.8,705.4 L768.8,703.9 L769.8,701.9 L770.8,699.5 L771.8,697.0 L772.8,694.3 L773.8,691.7 L774.8,689.3 L775.8,687.1 L776.8,685.3 L777.8,684.0 L778.8,683.2 L779.8,683.0 L780.8,683.4 L781.8,684.3 L782.8,685.8 L783.8,687.7 L784.8,690.0 L785.8,692.5 L786.8,695.1 L787.8,697.8 L788.8,700.3 L789.8,702.5 L790.8,704.4 L791.8,705.8 L792.8,706.7 L793.8,707.0 L794.8,706.7 L795.8,705.9 L796.8,704.5 L797.8,702.7 L798.8,700.5 L799.8,698.0 L800.8,695.4 L801.8,692.8 L802.8,690.2 L803.8,687.9 L804.8,686.0 L805.8,684.5 L806.8,683.5 L807.8,683.0 L808.8,683.2 L809.8,683.9 L810.8,685.2 L811.8,686.9 L812.8,689.0 L815.0,702.0 L840.0,705.0 L870.0,704.0 L884.0,704.0 L890.0,716.0 L896.6,729.0 L902.0,720.0 L908.8,704.7" stroke="#c9bd80" stroke-width="1.6" fill="none" stroke-linejoin="round" /><ellipse cx="783" cy="777.3" rx="2.6" ry="2" fill="#3553a5"/><ellipse cx="816.4" cy="777.3" rx="2.6" ry="2" fill="#3553a5"/><ellipse cx="835.7" cy="777.3" rx="2.6" ry="2" fill="#3553a5"/><ellipse cx="861.1" cy="777.3" rx="2.6" ry="2" fill="#3553a5"/><path d="M663.8,696.2 L672.0,696.2 L672.5,772.0 L679.5,772.0 L680.0,696.2 L702.0,696.2 L702.5,772.0 L708.5,772.0 L709.0,696.2 L727.0,696.2 L727.5,772.0 L734.5,772.0 L735.0,696.2 L754.0,696.2 L754.5,774.5 L780.0,774.5 L780.5,706.0 L786.0,706.0 L786.5,774.5 L813.0,774.5 L813.5,706.0 L819.0,706.0 L819.5,774.5 L833.0,774.5 L833.5,706.0 L838.5,706.0 L839.0,774.5 L858.0,774.5 L858.5,706.0 L863.5,706.0 L864.0,774.5 L870.0,774.5 L871.0,706.0 L880.4,708.8 L888.5,747.3 L891.6,700.6 L895.6,691.5 L902.7,689.5 L903.8,680.3 L905.8,695.5 L908.8,695.5" stroke="#3553a5" stroke-width="2" fill="none" stroke-linejoin="round" /><path d="M663.8,697.5 L664.8,698.6 L665.8,699.8 L666.8,701.1 L667.8,702.4 L668.8,703.6 L669.8,704.7 L670.8,705.5 L671.8,706.2 L672.8,706.5 L673.8,706.5 L674.8,706.2 L675.8,705.5 L676.8,704.7 L677.8,703.6 L678.8,702.4 L679.8,701.1 L680.8,699.8 L681.8,698.6 L682.8,697.5 L683.8,696.6 L684.8,695.9 L685.8,695.6 L686.8,695.5 L687.8,695.8 L688.8,696.3 L689.8,697.2 L690.8,698.2 L691.8,699.4 L692.8,700.7 L693.8,702.0 L694.8,703.3 L695.8,704.4 L696.8,705.3 L697.8,706.0 L698.8,706.4 L699.8,706.5 L700.8,706.3 L701.8,705.8 L702.8,705.0 L703.8,704.0 L704.8,702.8 L705.8,701.5 L706.8,700.2 L707.8,698.9 L708.8,697.8 L709.8,696.8 L710.8,696.1 L711.8,695.6 L712.8,695.5 L713.8,695.7 L714.8,696.1 L715.8,696.9 L716.8,697.9 L717.8,699.0 L718.8,700.3 L719.8,701.6 L720.8,702.9 L721.8,704.1 L722.8,705.1 L723.8,705.8 L724.8,706.3 L725.8,706.5 L726.8,706.4 L727.8,705.9 L728.8,705.2 L729.8,704.3 L730.8,703.1 L731.8,701.9 L732.8,700.6 L733.8,699.3 L734.8,698.1 L735.8,697.1 L736.8,696.3 L737.8,695.7 L738.8,695.5 L739.8,695.6 L740.8,696.0 L741.8,696.6 L742.8,697.6 L743.8,698.7 L744.8,699.9 L745.8,701.2 L746.8,702.5 L747.8,703.7 L748.8,704.8 L749.8,705.6 L750.8,706.2 L751.8,706.5 L752.8,706.4 L753.8,706.1 L754.8,705.5 L755.8,704.6 L756.8,703.5 L757.8,702.3 L758.8,701.0 L759.8,699.7 L760.8,698.4 L761.8,697.4 L762.8,696.5 L763.8,695.9 L764.8,695.5 L765.8,695.5 L766.8,695.8 L767.8,696.4 L768.8,697.3 L769.8,698.3 L770.8,699.5 L771.8,700.8 L772.8,702.1 L773.8,703.4 L774.8,704.5 L775.8,705.4 L776.8,706.1 L777.8,706.4 L778.8,706.5 L779.8,706.2 L780.8,705.7 L781.8,704.9 L782.8,703.8 L783.8,702.6 L784.8,701.4 L785.8,700.1 L786.8,698.8 L787.8,697.7 L788.8,696.7 L789.8,696.0 L790.8,695.6 L791.8,695.5 L792.8,695.7 L793.8,696.2 L794.8,697.0 L795.8,698.0 L796.8,699.2 L797.8,700.4 L798.8,701.8 L799.8,703.0 L800.8,704.2 L801.8,705.1 L802.8,705.9 L803.8,706.3 L804.8,706.5 L805.8,706.3 L806.8,705.9 L807.8,705.1 L808.8,704.2 L809.8,703.0 L810.8,701.8 L811.8,700.4 L812.8,699.2 L813.8,698.0 L814.8,697.0 L815.8,696.2 L816.8,695.7 L817.8,695.5 L818.8,695.6 L819.8,696.0 L820.8,696.7 L821.8,697.7 L822.8,698.8 L825.0,706.0 L850.0,706.0 L875.0,712.0 L880.4,731.0 L889.5,743.3 L897.7,740.2 L908.8,740.2" stroke="#5b2e9c" stroke-width="2.1" fill="none" stroke-linejoin="round" /><path d="M700.0,741.0 L780.0,746.0 L870.0,755.0 L880.4,755.5 L893.6,755.5 L908.8,760.5" stroke="#e2541e" stroke-width="2" fill="none" stroke-linejoin="round" /><path d="M664.0,763.0 L760.0,767.0 L870.0,773.8 L880.4,774.8 L908.8,773.3" stroke="#7f1020" stroke-width="2" fill="none" stroke-linejoin="round" /><path d="M663.8,792.0 L665.8,792.2 L667.8,792.7 L669.8,791.6 L671.8,792.2 L673.8,791.7 L675.8,792.4 L677.8,792.5 L679.8,791.9 L681.8,791.3 L683.8,791.8 L685.8,791.7 L687.8,791.8 L689.8,791.5 L691.8,791.6 L693.8,791.7 L695.8,791.3 L697.8,791.0 L699.8,791.6 L701.8,790.6 L703.8,791.2 L705.8,790.7 L707.8,791.1 L709.8,790.3 L711.8,791.3 L713.8,790.5 L715.8,790.2 L717.8,790.4 L719.8,790.6 L721.8,790.1 L723.8,790.7 L725.8,790.7 L727.8,791.1 L729.8,790.8 L731.8,790.7 L733.8,790.8 L735.8,791.5 L737.8,791.8 L739.8,791.5 L741.8,791.2 L743.8,792.1 L745.8,791.7 L747.8,791.6 L749.8,791.7 L751.8,792.6 L753.8,792.8 L755.8,792.7 L757.8,792.7 L759.8,792.9 L761.8,792.7 L763.8,793.7 L765.8,793.1 L767.8,793.6 L769.8,793.9 L771.8,794.0 L773.8,793.7 L775.8,793.6 L777.8,794.0 L779.8,793.6 L781.8,794.5 L783.8,793.9 L785.8,794.6 L787.8,793.9 L789.8,794.0 L791.8,793.9 L793.8,794.1 L795.8,793.8 L797.8,793.5 L799.8,794.3 L801.8,793.8 L803.8,793.7 L805.8,793.7 L807.8,793.8 L809.8,793.7 L811.8,793.8 L813.8,793.8 L815.8,793.3 L817.8,793.9 L819.8,793.7 L821.8,792.7 L823.8,793.5 L825.8,793.6 L827.8,793.3 L829.8,792.5 L831.8,793.3 L833.8,793.0 L835.8,792.2 L837.8,792.2 L839.8,793.3 L841.8,792.9 L843.8,792.4 L845.8,792.2 L847.8,792.3 L849.8,792.5 L851.8,793.2 L853.8,792.7 L855.8,792.5 L857.8,793.5 L859.8,793.5 L861.8,792.8 L863.8,793.8 L865.8,793.6 L867.8,793.9 L869.8,793.9 L871.8,794.3 L873.8,794.4 L875.8,794.6 L877.8,793.9 L879.8,794.7 L881.8,794.6 L883.8,795.1 L885.8,794.8 L887.8,795.5 L889.8,795.3 L891.8,795.0 L893.8,795.1 L895.8,795.1 L897.8,795.7 L899.8,795.3 L901.8,795.8 L903.8,795.5 L905.8,796.0 L907.8,796.1" stroke="#a8e070" stroke-width="1.5" fill="none" stroke-linejoin="round" /><path d="M663.8,793.5 L665.8,793.9 L667.8,793.1 L669.8,793.9 L671.8,793.6 L673.8,793.7 L675.8,793.8 L677.8,794.0 L679.8,793.6 L681.8,793.7 L683.8,794.3 L685.8,793.4 L687.8,794.0 L689.8,794.0 L691.8,793.4 L693.8,794.1 L695.8,794.2 L697.8,794.4 L699.8,793.9 L701.8,794.5 L703.8,794.1 L705.8,794.1 L707.8,794.6 L709.8,793.7 L711.8,794.4 L713.8,794.4 L715.8,794.1 L717.8,794.7 L719.8,794.2 L721.8,794.3 L723.8,794.4 L725.8,794.7 L727.8,794.2 L729.8,794.4 L731.8,794.4 L733.8,794.6 L735.8,794.9 L737.8,794.4 L739.8,795.0 L741.8,794.6 L743.8,794.7 L745.8,794.5 L747.8,794.8 L749.8,795.3 L751.8,795.0 L753.8,795.1 L755.8,794.7 L757.8,794.7 L759.8,794.7 L761.8,795.1 L763.8,795.1 L765.8,795.3 L767.8,794.6 L769.8,795.3 L771.8,795.5 L773.8,795.2 L775.8,794.7 L777.8,795.0 L779.8,794.7 L781.8,795.0 L783.8,795.7 L785.8,795.4 L787.8,795.5 L789.8,795.7 L791.8,795.8 L793.8,795.6 L795.8,795.6 L797.8,795.6 L799.8,795.7 L801.8,795.7 L803.8,795.8 L805.8,795.3 L807.8,795.8 L809.8,795.6 L811.8,796.0 L813.8,795.3 L815.8,795.5 L817.8,795.3 L819.8,796.1 L821.8,796.3 L823.8,796.1 L825.8,795.8 L827.8,796.3 L829.8,796.3 L831.8,796.1 L833.8,795.8 L835.8,795.9 L837.8,796.0 L839.8,796.0 L841.8,796.1 L843.8,796.3 L845.8,796.7 L847.8,795.8 L849.8,796.4 L851.8,795.9 L853.8,796.0 L855.8,796.7 L857.8,796.5 L859.8,796.9 L861.8,796.4 L863.8,796.0 L865.8,796.4 L867.8,796.6 L869.8,797.0 L871.8,797.1 L873.8,796.6 L875.8,796.6 L877.8,796.3 L879.8,796.9 L881.8,796.5 L883.8,796.4 L885.8,796.3 L887.8,796.4 L889.8,797.1 L891.8,796.5 L893.8,797.4 L895.8,796.6 L897.8,797.4 L899.8,796.7 L901.8,796.6 L903.8,797.3 L905.8,796.9 L907.8,797.4" stroke="#f2c02e" stroke-width="3.5" fill="none" stroke-linejoin="round" /><path d="M663.8,804.2 L665.8,804.1 L667.8,804.8 L669.8,804.8 L671.8,805.0 L673.8,804.9 L675.8,804.3 L677.8,804.9 L679.8,805.0 L681.8,804.8 L683.8,805.3 L685.8,804.6 L687.8,805.4 L689.8,805.2 L691.8,804.5 L693.8,804.6 L695.8,805.2 L697.8,805.4 L699.8,804.7 L701.8,805.0 L703.8,805.4 L705.8,804.9 L707.8,805.6 L709.8,805.3 L711.8,804.9 L713.8,805.3 L715.8,805.5 L717.8,805.4 L719.8,805.7 L721.8,805.2 L723.8,805.9 L725.8,805.5 L727.8,805.8 L729.8,805.8 L731.8,805.6 L733.8,805.6 L735.8,806.1 L737.8,806.3 L739.8,806.1 L741.8,806.0 L743.8,805.7 L745.8,805.5 L747.8,806.5 L749.8,806.2 L751.8,806.4 L753.8,805.9 L755.8,806.3 L757.8,806.7 L759.8,806.6 L761.8,806.4 L763.8,806.1 L765.8,806.3 L767.8,806.8 L769.8,806.3 L771.8,806.6 L773.8,806.6 L775.8,806.9 L777.8,806.9 L779.8,806.4 L781.8,806.1 L783.8,806.4 L785.8,806.6 L787.8,806.8 L789.8,807.1 L791.8,807.2 L793.8,806.4 L795.8,807.2 L797.8,807.2 L799.8,807.3 L801.8,807.1 L803.8,806.8 L805.8,807.4 L807.8,807.4 L809.8,807.3 L811.8,807.6 L813.8,807.0 L815.8,806.8 L817.8,807.3 L819.8,807.6 L821.8,807.0 L823.8,807.6 L825.8,807.8 L827.8,807.2 L829.8,807.6 L831.8,807.7 L833.8,807.5 L835.8,807.3 L837.8,807.4 L839.8,807.9 L841.8,808.0 L843.8,807.7 L845.8,807.4 L847.8,808.1 L849.8,808.1 L851.8,807.6 L853.8,808.0 L855.8,808.3 L857.8,808.4 L859.8,808.0 L861.8,808.0 L863.8,808.2 L865.8,807.8 L867.8,807.9 L869.8,807.9 L871.8,808.4 L873.8,808.1 L875.8,808.4 L877.8,808.2 L879.8,808.4 L881.8,808.1 L883.8,808.0 L885.8,809.0 L887.8,808.4 L889.8,808.2 L891.8,808.7 L893.8,808.9 L895.8,808.3 L897.8,808.8 L899.8,808.6 L901.8,808.8 L903.8,808.3 L905.8,808.4 L907.8,809.4" stroke="#808080" stroke-width="2" fill="none" stroke-linejoin="round" /><path d="M663.8,811.8 L666.8,811.7 L669.8,811.7 L672.8,811.6 L675.8,811.8 L678.8,811.7 L681.8,811.9 L684.8,811.8 L687.8,811.8 L690.8,811.9 L693.8,811.6 L696.8,811.5 L699.8,811.6 L702.8,811.6 L705.8,811.5 L708.8,811.5 L711.8,811.7 L714.8,811.8 L717.8,811.7 L720.8,811.9 L723.8,811.9 L726.8,811.5 L729.8,811.7 L732.8,811.7 L735.8,811.5 L738.8,811.9 L741.8,811.6 L744.8,811.7 L747.8,811.8 L750.8,811.9 L753.8,811.8 L756.8,811.7 L759.8,811.7 L762.8,811.6 L765.8,811.9 L768.8,811.9 L771.8,811.6 L774.8,811.5 L777.8,811.6 L780.8,811.6 L783.8,811.9 L786.8,811.9 L789.8,811.8 L792.8,811.5 L795.8,811.8 L798.8,811.8 L801.8,811.8 L804.8,811.9 L807.8,811.5 L810.8,811.6 L813.8,811.8 L816.8,811.9 L819.8,811.8 L822.8,811.6 L825.8,811.7 L828.8,811.8 L831.8,811.5 L834.8,811.6 L837.8,811.6 L840.8,811.5 L843.8,811.7 L846.8,811.6 L849.8,811.6 L852.8,811.6 L855.8,811.8 L858.8,811.5 L861.8,811.8 L864.8,811.6 L867.8,811.5 L870.8,811.9 L873.8,811.6 L876.8,811.9 L879.8,811.8 L882.8,811.9 L885.8,811.6 L888.8,811.7 L891.8,811.5 L894.8,811.9 L897.8,811.8 L900.8,811.8 L903.8,811.7 L906.8,811.6" stroke="#e39ac6" stroke-width="2" fill="none" stroke-linejoin="round" /><path d="M663.8,815.7 L666.8,815.6 L669.8,815.6 L672.8,815.5 L675.8,815.5 L678.8,815.5 L681.8,815.6 L684.8,815.6 L687.8,815.5 L690.8,815.7 L693.8,815.6 L696.8,815.6 L699.8,815.5 L702.8,815.6 L705.8,815.7 L708.8,815.6 L711.8,815.5 L714.8,815.6 L717.8,815.6 L720.8,815.7 L723.8,815.5 L726.8,815.7 L729.8,815.5 L732.8,815.7 L735.8,815.6 L738.8,815.5 L741.8,815.6 L744.8,815.6 L747.8,815.6 L750.8,815.5 L753.8,815.6 L756.8,815.7 L759.8,815.7 L762.8,815.7 L765.8,815.5 L768.8,815.6 L771.8,815.7 L774.8,815.5 L777.8,815.6 L780.8,815.6 L783.8,815.7 L786.8,815.5 L789.8,815.7 L792.8,815.6 L795.8,815.5 L798.8,815.5 L801.8,815.7 L804.8,815.6 L807.8,815.5 L810.8,815.6 L813.8,815.7 L816.8,815.5 L819.8,815.6 L822.8,815.5 L825.8,815.5 L828.8,815.7 L831.8,815.6 L834.8,815.5 L837.8,815.5 L840.8,815.5 L843.8,815.6 L846.8,815.6 L849.8,815.6 L852.8,815.5 L855.8,815.6 L858.8,815.6 L861.8,815.7 L864.8,815.6 L867.8,815.5 L870.8,815.5 L873.8,815.6 L876.8,815.6 L879.8,815.6 L882.8,815.5 L885.8,815.7 L888.8,815.6 L891.8,815.7 L894.8,815.7 L897.8,815.6 L900.8,815.5 L903.8,815.7 L906.8,815.6" stroke="#6512c4" stroke-width="3" fill="none" stroke-linejoin="round" /><path d="M943.7,65.5 C940.9,65.5 938.9,67.8 938.9,70.6 C938.9,74 942,77.5 943.7,83.8 C945.4,77.5 948.4,74 948.4,70.6 C948.4,67.8 946.5,65.5 943.7,65.5 Z" fill="#fff"/><ellipse cx="943.7" cy="70.5" rx="1.6" ry="2" fill="#001c7f"/><path d="M1197.5,74.8 L1209.5,74.8 M1204.5,69 L1210,74.8 L1204.5,80.6" stroke="#fff" stroke-width="2.4" fill="none"/><defs><clipPath id="tclip"><rect x="937" y="592" width="270" height="352.5"/></clipPath></defs><path d="M1018,608.5 L1024,608.5 L1021,604 Z" fill="#111"/><rect x="950.3" y="600.7" width="9.2" height="12" rx="2" fill="#3f8fe8"/><rect x="952.2" y="606" width="5.4" height="1.6" fill="#fff"/><g clip-path="url(#tclip)"><rect x="950.4" y="631.0" width="10.7" height="14" rx="2.4" fill="#3f8fe8"/><path d="M952.8,638.2 L955,641.8 L959,634.5" stroke="#fff" stroke-width="1.3" fill="none"/></g><g clip-path="url(#tclip)"><rect x="950.4" y="664.8" width="10.7" height="14" rx="2.4" fill="#3f8fe8"/><path d="M952.8,672.0 L955,675.5999999999999 L959,668.3" stroke="#fff" stroke-width="1.3" fill="none"/></g><g clip-path="url(#tclip)"><rect x="950.4" y="698.6" width="10.7" height="14" rx="2.4" fill="#3f8fe8"/><path d="M952.8,705.8000000000001 L955,709.4 L959,702.1" stroke="#fff" stroke-width="1.3" fill="none"/></g><g clip-path="url(#tclip)"><rect x="950.4" y="732.4" width="10.7" height="14" rx="2.4" fill="#3f8fe8"/><path d="M952.8,739.6 L955,743.1999999999999 L959,735.9" stroke="#fff" stroke-width="1.3" fill="none"/></g><g clip-path="url(#tclip)"><rect x="950.4" y="766.2" width="10.7" height="14" rx="2.4" fill="#3f8fe8"/><path d="M952.8,773.4000000000001 L955,777.0 L959,769.7" stroke="#fff" stroke-width="1.3" fill="none"/></g><g clip-path="url(#tclip)"><rect x="950.4" y="800.0" width="10.7" height="14" rx="2.4" fill="#3f8fe8"/><path d="M952.8,807.2 L955,810.8 L959,803.5" stroke="#fff" stroke-width="1.3" fill="none"/></g><g clip-path="url(#tclip)"><rect x="950.4" y="833.8" width="10.7" height="14" rx="2.4" fill="#3f8fe8"/><path d="M952.8,841.0 L955,844.5999999999999 L959,837.3" stroke="#fff" stroke-width="1.3" fill="none"/></g><g clip-path="url(#tclip)"><rect x="950.4" y="867.5999999999999" width="10.7" height="14" rx="2.4" fill="#3f8fe8"/><path d="M952.8,874.8 L955,878.3999999999999 L959,871.0999999999999" stroke="#fff" stroke-width="1.3" fill="none"/></g><g clip-path="url(#tclip)"><rect x="950.4" y="901.4" width="10.7" height="14" rx="2.4" fill="#3f8fe8"/><path d="M952.8,908.6 L955,912.1999999999999 L959,904.9" stroke="#fff" stroke-width="1.3" fill="none"/></g><g clip-path="url(#tclip)"><rect x="950.4" y="935.2" width="10.7" height="14" rx="2.4" fill="#3f8fe8"/><path d="M952.8,942.4000000000001 L955,946.0 L959,938.7" stroke="#fff" stroke-width="1.3" fill="none"/></g><path d="M557.5,944 C554,944 553.5,940 555.5,938.5 C555.5,935.5 557.5,934.5 559,935 C560,932 564.5,931.5 566,934.5 C568,935 568.5,938 567.5,940 C568.5,942 567,944 565,944" stroke="#2a2060" stroke-width="1.2" fill="none"/><path d="M561,939 L561,948.8 M558.5,945.5 L561,948.8 L563.5,945.5" stroke="#2a2060" stroke-width="1.8" fill="none"/><defs><clipPath id="mc"><rect x="937" y="124.4" width="269.70000000000005" height="300.29999999999995"/></clipPath></defs><g clip-path="url(#mc)"><rect x="937" y="124.4" width="269.70000000000005" height="300.29999999999995" fill="#ebe7da"/><ellipse cx="980" cy="300" rx="45" ry="60" fill="#e3dcc6" opacity="0.8"/><ellipse cx="1065" cy="238" rx="12" ry="8" fill="#efe2b8" opacity="0.6"/><ellipse cx="1000" cy="370" rx="40" ry="40" fill="#e6dcc2" opacity="0.7"/><ellipse cx="1180" cy="330" rx="40" ry="60" fill="#ece6d8" opacity="0.9"/><path d="M967.5,287.8 l-0.1,6.0" stroke="#ddd6c4" stroke-width="1.2" opacity="0.9"/><path d="M1014.5,397.6 l-0.8,6.8" stroke="#ddd6c4" stroke-width="1.5" opacity="0.9"/><path d="M997.2,375.8 l-0.8,6.8" stroke="#cbc0a8" stroke-width="0.8" opacity="0.9"/><path d="M938.9,357.9 l-1.4,4.3" stroke="#ddd6c4" stroke-width="1.3" opacity="0.9"/><path d="M1013.1,401.0 l-0.3,6.1" stroke="#d6ccb6" stroke-width="1.3" opacity="0.9"/><path d="M993.9,405.6 l-1.4,10.0" stroke="#cfc4ac" stroke-width="1.1" opacity="0.9"/><path d="M970.0,326.3 l-0.2,9.2" stroke="#bdd2a6" stroke-width="1.4" opacity="0.9"/><path d="M1010.5,284.8 l1.2,6.3" stroke="#cbc0a8" stroke-width="1.2" opacity="0.9"/><path d="M1055.9,381.8 l0.6,10.9" stroke="#cbc0a8" stroke-width="1.0" opacity="0.9"/><path d="M1006.3,296.2 l0.4,3.8" stroke="#cbc0a8" stroke-width="1.5" opacity="0.9"/><path d="M971.2,161.5 l-1.2,6.9" stroke="#d6ccb6" stroke-width="1.3" opacity="0.9"/><path d="M989.5,169.4 l1.1,5.4" stroke="#d6ccb6" stroke-width="0.7" opacity="0.9"/><path d="M1015.7,137.5 l0.2,8.7" stroke="#bdd2a6" stroke-width="1.4" opacity="0.9"/><path d="M972.7,195.0 l-1.3,3.3" stroke="#cfc4ac" stroke-width="1.2" opacity="0.9"/><path d="M941.0,183.4 l-0.7,6.3" stroke="#ddd6c4" stroke-width="1.3" opacity="0.9"/><path d="M983.1,165.6 l-0.1,9.9" stroke="#d6ccb6" stroke-width="1.1" opacity="0.9"/><path d="M1019.4,303.3 l1.4,7.5" stroke="#ddd6c4" stroke-width="1.3" opacity="0.9"/><path d="M971.7,314.9 l-0.2,8.7" stroke="#bdd2a6" stroke-width="0.9" opacity="0.9"/><path d="M975.8,226.0 l-0.6,9.3" stroke="#ddd6c4" stroke-width="1.0" opacity="0.9"/><path d="M1012.4,164.1 l-0.1,8.1" stroke="#bdd2a6" stroke-width="1.2" opacity="0.9"/><path d="M982.1,336.8 l0.3,8.9" stroke="#cfc4ac" stroke-width="1.5" opacity="0.9"/><path d="M939.7,235.1 l0.3,8.0" stroke="#bdd2a6" stroke-width="1.0" opacity="0.9"/><path d="M983.6,218.1 l-0.7,6.0" stroke="#ddd6c4" stroke-width="1.3" opacity="0.9"/><path d="M950.4,368.7 l-0.6,10.8" stroke="#cbc0a8" stroke-width="0.9" opacity="0.9"/><path d="M1039.9,195.8 l0.4,4.5" stroke="#d6ccb6" stroke-width="0.8" opacity="0.9"/><path d="M1013.9,409.7 l-0.2,8.4" stroke="#cbc0a8" stroke-width="1.4" opacity="0.9"/><path d="M958.7,225.3 l-0.1,8.2" stroke="#ddd6c4" stroke-width="0.9" opacity="0.9"/><path d="M952.5,283.4 l-0.9,4.5" stroke="#ddd6c4" stroke-width="0.9" opacity="0.9"/><path d="M1040.3,317.2 l0.3,9.5" stroke="#bdd2a6" stroke-width="1.0" opacity="0.9"/><path d="M1003.4,379.8 l-0.6,6.7" stroke="#d6ccb6" stroke-width="1.2" opacity="0.9"/><path d="M941.5,248.4 l1.3,4.6" stroke="#d6ccb6" stroke-width="1.4" opacity="0.9"/><path d="M1058.6,403.1 l1.0,4.8" stroke="#d6ccb6" stroke-width="1.2" opacity="0.9"/><path d="M1003.4,211.0 l1.1,5.7" stroke="#cbc0a8" stroke-width="1.4" opacity="0.9"/><path d="M1061.3,160.1 l1.2,5.0" stroke="#cfc4ac" stroke-width="1.3" opacity="0.9"/><path d="M1055.3,393.9 l-1.4,10.2" stroke="#ddd6c4" stroke-width="1.1" opacity="0.9"/><path d="M952.5,275.5 l0.1,4.9" stroke="#cfc4ac" stroke-width="1.0" opacity="0.9"/><path d="M1057.2,308.3 l1.4,5.7" stroke="#bdd2a6" stroke-width="1.1" opacity="0.9"/><path d="M1040.9,142.5 l0.1,4.8" stroke="#cfc4ac" stroke-width="1.4" opacity="0.9"/><path d="M958.9,362.3 l1.0,10.4" stroke="#cbc0a8" stroke-width="0.7" opacity="0.9"/><path d="M1017.5,383.6 l-0.8,3.4" stroke="#bdd2a6" stroke-width="1.2" opacity="0.9"/><path d="M1003.5,139.3 l1.1,5.6" stroke="#cfc4ac" stroke-width="1.3" opacity="0.9"/><path d="M942.9,139.0 l1.1,6.9" stroke="#cfc4ac" stroke-width="0.8" opacity="0.9"/><path d="M1001.3,219.1 l-0.3,5.5" stroke="#bdd2a6" stroke-width="1.0" opacity="0.9"/><path d="M975.9,203.7 l-1.1,10.9" stroke="#d6ccb6" stroke-width="1.1" opacity="0.9"/><path d="M1028.7,238.5 l-1.4,3.6" stroke="#cbc0a8" stroke-width="1.1" opacity="0.9"/><path d="M1020.2,286.9 l0.4,8.1" stroke="#cfc4ac" stroke-width="1.0" opacity="0.9"/><path d="M984.7,273.3 l1.4,8.6" stroke="#d6ccb6" stroke-width="1.0" opacity="0.9"/><path d="M939.3,189.8 l-1.3,5.2" stroke="#ddd6c4" stroke-width="1.0" opacity="0.9"/><path d="M991.5,388.8 l1.4,10.5" stroke="#bdd2a6" stroke-width="1.1" opacity="0.9"/><path d="M1048.4,160.6 l0.9,8.5" stroke="#ddd6c4" stroke-width="1.2" opacity="0.9"/><path d="M1030.9,293.7 l0.6,3.8" stroke="#ddd6c4" stroke-width="1.1" opacity="0.9"/><path d="M967.2,241.0 l-1.2,7.2" stroke="#ddd6c4" stroke-width="1.4" opacity="0.9"/><path d="M959.9,131.1 l-1.4,9.7" stroke="#cfc4ac" stroke-width="0.8" opacity="0.9"/><path d="M998.7,333.6 l0.9,5.3" stroke="#bdd2a6" stroke-width="0.7" opacity="0.9"/><path d="M1035.2,277.9 l0.2,8.7" stroke="#cfc4ac" stroke-width="0.8" opacity="0.9"/><path d="M1007.8,289.6 l1.0,10.0" stroke="#cbc0a8" stroke-width="0.9" opacity="0.9"/><path d="M960.0,199.2 l-0.7,7.9" stroke="#d6ccb6" stroke-width="1.2" opacity="0.9"/><path d="M1057.2,291.5 l0.0,10.7" stroke="#d6ccb6" stroke-width="1.5" opacity="0.9"/><path d="M989.8,349.0 l0.8,4.3" stroke="#ddd6c4" stroke-width="1.2" opacity="0.9"/><path d="M1003.2,269.6 l-1.0,8.1" stroke="#cbc0a8" stroke-width="1.1" opacity="0.9"/><path d="M998.9,334.3 l0.7,10.6" stroke="#ddd6c4" stroke-width="0.8" opacity="0.9"/><path d="M971.2,184.0 l1.3,7.7" stroke="#bdd2a6" stroke-width="1.4" opacity="0.9"/><path d="M1005.9,358.6 l0.3,8.4" stroke="#d6ccb6" stroke-width="1.2" opacity="0.9"/><path d="M1062.9,391.7 l-0.1,5.5" stroke="#bdd2a6" stroke-width="1.0" opacity="0.9"/><path d="M959.0,232.5 l-0.2,5.6" stroke="#cbc0a8" stroke-width="1.3" opacity="0.9"/><path d="M1026.8,185.9 l-1.4,7.6" stroke="#ddd6c4" stroke-width="1.5" opacity="0.9"/><path d="M946.3,409.2 l-0.1,9.3" stroke="#cfc4ac" stroke-width="0.9" opacity="0.9"/><path d="M967.1,340.0 l1.1,8.4" stroke="#cbc0a8" stroke-width="0.9" opacity="0.9"/><path d="M961.3,201.8 l1.2,4.5" stroke="#cfc4ac" stroke-width="0.9" opacity="0.9"/><path d="M991.2,343.4 l-0.7,3.7" stroke="#cfc4ac" stroke-width="1.4" opacity="0.9"/><path d="M941.6,260.2 l-1.5,8.9" stroke="#bdd2a6" stroke-width="1.0" opacity="0.9"/><path d="M992.8,270.3 l0.7,4.7" stroke="#ddd6c4" stroke-width="1.1" opacity="0.9"/><path d="M953.1,220.0 l0.5,10.1" stroke="#cfc4ac" stroke-width="0.8" opacity="0.9"/><path d="M1050.6,397.5 l0.5,3.8" stroke="#bdd2a6" stroke-width="1.0" opacity="0.9"/><path d="M994.7,323.5 l-1.2,8.4" stroke="#bdd2a6" stroke-width="1.5" opacity="0.9"/><path d="M980.3,294.4 l0.0,7.2" stroke="#d6ccb6" stroke-width="0.7" opacity="0.9"/><path d="M974.7,343.1 l-1.0,8.9" stroke="#cbc0a8" stroke-width="1.4" opacity="0.9"/><path d="M1020.9,161.1 l1.3,10.5" stroke="#cbc0a8" stroke-width="1.2" opacity="0.9"/><path d="M1020.1,250.5 l-0.1,5.4" stroke="#cbc0a8" stroke-width="0.9" opacity="0.9"/><path d="M959.6,144.6 l0.1,8.7" stroke="#ddd6c4" stroke-width="1.3" opacity="0.9"/><path d="M983.0,204.0 l-1.4,6.1" stroke="#cbc0a8" stroke-width="1.1" opacity="0.9"/><path d="M968.6,355.4 l1.3,5.8" stroke="#bdd2a6" stroke-width="1.1" opacity="0.9"/><path d="M1040.6,144.8 l-1.0,7.0" stroke="#cfc4ac" stroke-width="1.2" opacity="0.9"/><path d="M1024.2,293.9 l-0.9,10.3" stroke="#cfc4ac" stroke-width="0.9" opacity="0.9"/><path d="M990.3,347.7 l0.3,9.5" stroke="#cbc0a8" stroke-width="0.8" opacity="0.9"/><path d="M988.0,182.3 l-1.0,7.2" stroke="#ddd6c4" stroke-width="1.4" opacity="0.9"/><path d="M984.3,212.2 l1.2,9.7" stroke="#d6ccb6" stroke-width="1.5" opacity="0.9"/><path d="M986.0,290.3 l1.4,7.7" stroke="#d6ccb6" stroke-width="1.2" opacity="0.9"/><path d="M975.3,382.9 l-0.9,6.9" stroke="#ddd6c4" stroke-width="1.2" opacity="0.9"/><path d="M950.8,351.5 l0.1,4.9" stroke="#cbc0a8" stroke-width="1.1" opacity="0.9"/><path d="M961.8,283.4 l1.3,3.3" stroke="#ddd6c4" stroke-width="1.5" opacity="0.9"/><path d="M951.3,209.3 l-1.1,8.3" stroke="#cbc0a8" stroke-width="1.3" opacity="0.9"/><path d="M1016.8,139.2 l0.0,5.9" stroke="#cbc0a8" stroke-width="1.1" opacity="0.9"/><path d="M939.4,226.2 l0.6,5.6" stroke="#bdd2a6" stroke-width="0.8" opacity="0.9"/><path d="M1046.9,304.9 l0.7,10.4" stroke="#cfc4ac" stroke-width="1.0" opacity="0.9"/><path d="M1040.3,404.5 l0.6,9.9" stroke="#d6ccb6" stroke-width="0.9" opacity="0.9"/><path d="M977.4,360.9 l0.6,6.3" stroke="#cbc0a8" stroke-width="1.0" opacity="0.9"/><path d="M997.6,144.5 l0.4,9.8" stroke="#cbc0a8" stroke-width="0.9" opacity="0.9"/><path d="M996.4,351.9 l-0.1,6.2" stroke="#cbc0a8" stroke-width="0.7" opacity="0.9"/><path d="M969.8,379.5 l0.3,6.6" stroke="#bdd2a6" stroke-width="0.9" opacity="0.9"/><path d="M937.3,186.9 l1.1,9.3" stroke="#cbc0a8" stroke-width="1.1" opacity="0.9"/><path d="M957.4,130.7 l-1.0,7.7" stroke="#ddd6c4" stroke-width="0.7" opacity="0.9"/><path d="M951.1,174.6 l1.0,6.9" stroke="#cfc4ac" stroke-width="1.0" opacity="0.9"/><path d="M977.7,133.9 l-0.3,8.7" stroke="#cbc0a8" stroke-width="1.0" opacity="0.9"/><path d="M940.4,414.6 l-0.3,4.8" stroke="#cfc4ac" stroke-width="0.9" opacity="0.9"/><path d="M979.6,159.0 l-1.3,10.3" stroke="#ddd6c4" stroke-width="1.3" opacity="0.9"/><path d="M972.2,361.1 l-0.0,6.7" stroke="#bdd2a6" stroke-width="1.1" opacity="0.9"/><path d="M940.9,225.4 l-1.2,10.9" stroke="#bdd2a6" stroke-width="1.2" opacity="0.9"/><path d="M1061.1,302.3 l0.5,3.0" stroke="#cfc4ac" stroke-width="0.7" opacity="0.9"/><path d="M1001.4,269.0 l1.2,4.5" stroke="#ddd6c4" stroke-width="0.9" opacity="0.9"/><path d="M1061.7,267.5 l1.3,9.4" stroke="#bdd2a6" stroke-width="0.7" opacity="0.9"/><path d="M976.0,306.7 l1.3,10.6" stroke="#cfc4ac" stroke-width="0.8" opacity="0.9"/><path d="M989.9,276.8 l0.5,7.4" stroke="#ddd6c4" stroke-width="1.4" opacity="0.9"/><path d="M959.4,346.7 l-0.4,8.9" stroke="#ddd6c4" stroke-width="0.8" opacity="0.9"/><path d="M1039.6,256.0 l-0.5,6.6" stroke="#d6ccb6" stroke-width="1.4" opacity="0.9"/><path d="M1001.9,350.6 l1.3,10.3" stroke="#d6ccb6" stroke-width="0.7" opacity="0.9"/><path d="M959.0,350.3 l0.8,9.6" stroke="#cfc4ac" stroke-width="1.2" opacity="0.9"/><path d="M949.4,195.4 l1.1,9.7" stroke="#cfc4ac" stroke-width="1.4" opacity="0.9"/><path d="M994.6,394.0 l1.5,8.9" stroke="#bdd2a6" stroke-width="0.7" opacity="0.9"/><path d="M961.9,360.9 l0.2,10.3" stroke="#bdd2a6" stroke-width="0.8" opacity="0.9"/><path d="M947.4,319.4 l1.4,4.9" stroke="#cfc4ac" stroke-width="1.4" opacity="0.9"/><path d="M955.3,420.6 l1.4,3.9" stroke="#bdd2a6" stroke-width="0.9" opacity="0.9"/><path d="M1009.0,250.3 l-0.5,9.2" stroke="#ddd6c4" stroke-width="1.4" opacity="0.9"/><path d="M1037.1,264.7 l1.0,8.0" stroke="#cfc4ac" stroke-width="0.8" opacity="0.9"/><path d="M940.1,414.9 l-1.2,4.6" stroke="#bdd2a6" stroke-width="1.1" opacity="0.9"/><path d="M965.5,373.7 l0.8,7.9" stroke="#d6ccb6" stroke-width="1.4" opacity="0.9"/><path d="M981.3,305.5 l-0.6,6.6" stroke="#cfc4ac" stroke-width="1.5" opacity="0.9"/><path d="M993.8,238.2 l-0.1,3.9" stroke="#cfc4ac" stroke-width="1.3" opacity="0.9"/><path d="M946.9,228.2 l1.3,6.9" stroke="#cfc4ac" stroke-width="1.2" opacity="0.9"/><path d="M983.7,360.0 l-0.9,3.5" stroke="#ddd6c4" stroke-width="1.0" opacity="0.9"/><path d="M992.1,149.3 l0.7,4.7" stroke="#cbc0a8" stroke-width="0.9" opacity="0.9"/><path d="M965.0,387.5 l1.3,8.9" stroke="#d6ccb6" stroke-width="1.1" opacity="0.9"/><path d="M990.6,409.4 l-0.0,10.2" stroke="#d6ccb6" stroke-width="1.3" opacity="0.9"/><path d="M989.1,424.2 l1.4,10.4" stroke="#bdd2a6" stroke-width="0.7" opacity="0.9"/><path d="M1051.2,132.5 l0.1,4.2" stroke="#ddd6c4" stroke-width="1.2" opacity="0.9"/><path d="M942.2,348.3 l-1.4,5.2" stroke="#d6ccb6" stroke-width="1.1" opacity="0.9"/><path d="M962.2,359.4 l-0.6,4.1" stroke="#d6ccb6" stroke-width="1.0" opacity="0.9"/><path d="M946.9,170.1 l1.4,9.1" stroke="#bdd2a6" stroke-width="1.5" opacity="0.9"/><path d="M957.7,217.9 l1.5,6.7" stroke="#ddd6c4" stroke-width="0.9" opacity="0.9"/><path d="M940.8,236.4 l0.7,5.9" stroke="#bdd2a6" stroke-width="1.4" opacity="0.9"/><path d="M1003.5,128.3 l0.1,8.0" stroke="#cbc0a8" stroke-width="0.8" opacity="0.9"/><path d="M943.4,185.4 l-0.4,9.2" stroke="#d6ccb6" stroke-width="1.5" opacity="0.9"/><path d="M983.4,290.3 l-1.5,6.9" stroke="#cbc0a8" stroke-width="1.0" opacity="0.9"/><path d="M980.3,139.4 l-0.1,7.4" stroke="#cfc4ac" stroke-width="0.9" opacity="0.9"/><path d="M1023.0,274.1 l-1.4,8.8" stroke="#bdd2a6" stroke-width="1.0" opacity="0.9"/><path d="M1017.3,327.2 l-0.8,10.3" stroke="#ddd6c4" stroke-width="0.8" opacity="0.9"/><path d="M1034.1,361.6 l0.2,7.1" stroke="#bdd2a6" stroke-width="0.9" opacity="0.9"/><path d="M958.6,129.1 l-0.1,8.1" stroke="#d6ccb6" stroke-width="1.2" opacity="0.9"/><path d="M1055.9,369.0 l-0.4,7.8" stroke="#d6ccb6" stroke-width="1.2" opacity="0.9"/><path d="M974.6,146.2 l-1.2,4.1" stroke="#ddd6c4" stroke-width="1.3" opacity="0.9"/><path d="M993.8,207.8 l1.4,5.0" stroke="#bdd2a6" stroke-width="0.8" opacity="0.9"/><path d="M977.3,281.1 l1.0,6.3" stroke="#cbc0a8" stroke-width="1.4" opacity="0.9"/><path d="M1015.4,133.2 l-1.2,7.6" stroke="#ddd6c4" stroke-width="0.8" opacity="0.9"/><path d="M1037.5,350.9 l0.5,5.1" stroke="#d6ccb6" stroke-width="1.0" opacity="0.9"/><path d="M1002.9,393.6 l-0.9,10.7" stroke="#d6ccb6" stroke-width="1.4" opacity="0.9"/><path d="M960.2,239.4 l-1.4,9.6" stroke="#bdd2a6" stroke-width="0.9" opacity="0.9"/><path d="M941.8,219.3 l-0.7,7.9" stroke="#ddd6c4" stroke-width="0.8" opacity="0.9"/><path d="M969.0,419.0 l1.4,3.6" stroke="#cbc0a8" stroke-width="1.3" opacity="0.9"/><path d="M1026.4,158.7 l0.4,8.1" stroke="#cfc4ac" stroke-width="1.4" opacity="0.9"/><path d="M937.7,208.9 l-0.2,10.7" stroke="#cfc4ac" stroke-width="1.5" opacity="0.9"/><path d="M996.1,211.1 l-0.8,7.5" stroke="#cbc0a8" stroke-width="1.5" opacity="0.9"/><path d="M955.5,396.6 l0.5,4.4" stroke="#d6ccb6" stroke-width="1.2" opacity="0.9"/><path d="M955.2,140.4 l-0.6,9.1" stroke="#cbc0a8" stroke-width="1.2" opacity="0.9"/><path d="M953.7,168.2 l0.1,7.2" stroke="#cbc0a8" stroke-width="1.0" opacity="0.9"/><path d="M950.7,241.3 l-1.2,10.9" stroke="#bdd2a6" stroke-width="0.8" opacity="0.9"/><path d="M974.8,239.5 l-1.3,10.5" stroke="#ddd6c4" stroke-width="0.9" opacity="0.9"/><path d="M1057.2,424.1 l-1.3,10.8" stroke="#cbc0a8" stroke-width="1.1" opacity="0.9"/><path d="M1051.6,155.2 l-1.4,9.8" stroke="#d6ccb6" stroke-width="1.0" opacity="0.9"/><path d="M1032.8,359.4 l0.1,7.6" stroke="#d6ccb6" stroke-width="0.9" opacity="0.9"/><path d="M956.1,261.3 l-0.6,6.1" stroke="#ddd6c4" stroke-width="1.3" opacity="0.9"/><path d="M1032.7,214.5 l-0.5,9.9" stroke="#cbc0a8" stroke-width="1.4" opacity="0.9"/><path d="M953.7,305.7 l1.1,3.5" stroke="#ddd6c4" stroke-width="0.8" opacity="0.9"/><path d="M938.8,385.8 l0.6,9.4" stroke="#ddd6c4" stroke-width="1.1" opacity="0.9"/><path d="M1035.1,151.9 l-0.5,7.3" stroke="#d6ccb6" stroke-width="1.2" opacity="0.9"/><path d="M965.0,261.3 l0.3,7.5" stroke="#bdd2a6" stroke-width="1.3" opacity="0.9"/><path d="M1035.7,341.7 l-0.6,5.8" stroke="#bdd2a6" stroke-width="1.5" opacity="0.9"/><path d="M971.5,161.1 l0.7,7.0" stroke="#bdd2a6" stroke-width="0.9" opacity="0.9"/><path d="M992.6,204.3 l0.1,4.0" stroke="#bdd2a6" stroke-width="1.4" opacity="0.9"/><path d="M1063.3,283.1 l-1.3,6.5" stroke="#ddd6c4" stroke-width="1.0" opacity="0.9"/><path d="M1007.4,307.8 l1.1,5.3" stroke="#cbc0a8" stroke-width="1.0" opacity="0.9"/><path d="M964.5,289.2 l0.7,10.1" stroke="#d6ccb6" stroke-width="1.0" opacity="0.9"/><path d="M1008.7,127.6 l-0.3,6.0" stroke="#bdd2a6" stroke-width="1.0" opacity="0.9"/><path d="M1020.4,387.4 l-0.5,7.7" stroke="#cbc0a8" stroke-width="0.7" opacity="0.9"/><path d="M945.2,124.1 l-0.5,10.1" stroke="#cbc0a8" stroke-width="0.9" opacity="0.9"/><path d="M940.8,286.2 l-0.2,10.4" stroke="#ddd6c4" stroke-width="1.0" opacity="0.9"/><path d="M1029.3,365.1 l0.5,4.7" stroke="#bdd2a6" stroke-width="0.8" opacity="0.9"/><path d="M997.8,392.0 l-1.1,5.3" stroke="#cbc0a8" stroke-width="0.8" opacity="0.9"/><path d="M1038.9,239.2 l-0.1,6.9" stroke="#cbc0a8" stroke-width="0.8" opacity="0.9"/><path d="M963.1,315.4 l-0.2,7.7" stroke="#bdd2a6" stroke-width="0.8" opacity="0.9"/><path d="M1062.3,332.1 l1.1,3.7" stroke="#d6ccb6" stroke-width="1.3" opacity="0.9"/><path d="M978.1,379.8 l0.4,5.6" stroke="#d6ccb6" stroke-width="0.8" opacity="0.9"/><path d="M1021.5,317.9 l1.2,10.1" stroke="#cbc0a8" stroke-width="0.9" opacity="0.9"/><path d="M987.2,150.6 l1.2,8.1" stroke="#cfc4ac" stroke-width="1.1" opacity="0.9"/><path d="M967.6,373.5 l1.0,4.4" stroke="#d6ccb6" stroke-width="1.4" opacity="0.9"/><path d="M987.7,227.5 l-0.8,6.6" stroke="#ddd6c4" stroke-width="1.2" opacity="0.9"/><path d="M980.9,301.0 l0.4,7.7" stroke="#bdd2a6" stroke-width="1.0" opacity="0.9"/><path d="M1035.4,397.9 l-0.9,9.9" stroke="#ddd6c4" stroke-width="0.7" opacity="0.9"/><path d="M992.4,217.9 l-0.9,4.6" stroke="#cbc0a8" stroke-width="0.8" opacity="0.9"/><path d="M995.5,403.4 l-0.6,7.0" stroke="#cbc0a8" stroke-width="1.3" opacity="0.9"/><path d="M978.9,198.3 l-0.8,10.0" stroke="#cfc4ac" stroke-width="1.0" opacity="0.9"/><path d="M965.6,209.8 l0.6,5.8" stroke="#cfc4ac" stroke-width="1.0" opacity="0.9"/><path d="M951.2,190.3 l-1.0,6.5" stroke="#ddd6c4" stroke-width="1.1" opacity="0.9"/><path d="M963.8,368.1 l-1.0,5.9" stroke="#cbc0a8" stroke-width="1.3" opacity="0.9"/><path d="M987.5,286.4 l-0.2,7.8" stroke="#bdd2a6" stroke-width="0.7" opacity="0.9"/><path d="M1037.7,382.7 l-1.0,6.9" stroke="#ddd6c4" stroke-width="1.1" opacity="0.9"/><path d="M990.7,273.0 l1.5,6.1" stroke="#ddd6c4" stroke-width="1.0" opacity="0.9"/><path d="M1064.4,269.4 l-0.5,4.4" stroke="#d6ccb6" stroke-width="1.3" opacity="0.9"/><path d="M1011.7,156.4 l-0.1,7.2" stroke="#bdd2a6" stroke-width="1.1" opacity="0.9"/><path d="M1000.1,299.4 l0.4,9.6" stroke="#cbc0a8" stroke-width="1.3" opacity="0.9"/><path d="M1061.9,302.5 l0.1,7.7" stroke="#bdd2a6" stroke-width="1.5" opacity="0.9"/><path d="M1044.0,349.2 l-0.2,5.3" stroke="#cfc4ac" stroke-width="1.1" opacity="0.9"/><path d="M1034.8,251.3 l-0.8,6.0" stroke="#cbc0a8" stroke-width="1.3" opacity="0.9"/><path d="M1009.0,240.0 l-1.0,3.9" stroke="#ddd6c4" stroke-width="1.4" opacity="0.9"/><path d="M999.2,286.9 l0.2,6.7" stroke="#d6ccb6" stroke-width="1.0" opacity="0.9"/><path d="M1029.7,306.6 l0.0,8.6" stroke="#cbc0a8" stroke-width="0.8" opacity="0.9"/><path d="M949.9,285.8 l0.0,10.4" stroke="#ddd6c4" stroke-width="1.0" opacity="0.9"/><path d="M945.5,207.2 l-1.1,5.5" stroke="#bdd2a6" stroke-width="1.5" opacity="0.9"/><path d="M998.0,254.6 l-0.7,5.1" stroke="#cbc0a8" stroke-width="1.3" opacity="0.9"/><path d="M1058.3,324.7 l0.9,5.0" stroke="#bdd2a6" stroke-width="1.3" opacity="0.9"/><path d="M1052.6,153.7 l-0.8,8.6" stroke="#cfc4ac" stroke-width="1.1" opacity="0.9"/><path d="M1034.6,173.7 l1.5,8.3" stroke="#bdd2a6" stroke-width="0.8" opacity="0.9"/><path d="M991.8,294.3 l-0.7,7.6" stroke="#d6ccb6" stroke-width="1.1" opacity="0.9"/><path d="M1012.0,240.8 l-0.2,3.4" stroke="#cbc0a8" stroke-width="0.7" opacity="0.9"/><path d="M1038.2,163.5 l1.0,8.8" stroke="#cbc0a8" stroke-width="1.3" opacity="0.9"/><path d="M984.7,137.1 l-0.9,7.5" stroke="#bdd2a6" stroke-width="0.8" opacity="0.9"/><path d="M1062.5,346.6 l-1.1,6.9" stroke="#bdd2a6" stroke-width="1.1" opacity="0.9"/><path d="M1022.6,305.7 l-1.2,4.3" stroke="#cbc0a8" stroke-width="0.8" opacity="0.9"/><path d="M1024.1,152.7 l-0.3,8.6" stroke="#ddd6c4" stroke-width="1.1" opacity="0.9"/><path d="M1064.2,308.0 l-1.3,5.1" stroke="#cfc4ac" stroke-width="1.2" opacity="0.9"/><path d="M990.2,126.1 l1.0,5.7" stroke="#bdd2a6" stroke-width="1.0" opacity="0.9"/><path d="M942.7,187.6 l-0.2,3.1" stroke="#ddd6c4" stroke-width="1.2" opacity="0.9"/><path d="M978.8,191.6 l-0.5,6.6" stroke="#cfc4ac" stroke-width="0.9" opacity="0.9"/><path d="M990.2,152.9 l-1.2,5.5" stroke="#ddd6c4" stroke-width="1.2" opacity="0.9"/><path d="M968.2,153.1 l-0.5,6.2" stroke="#ddd6c4" stroke-width="0.9" opacity="0.9"/><path d="M1009.8,203.9 l-0.4,9.1" stroke="#ddd6c4" stroke-width="1.4" opacity="0.9"/><path d="M963.8,300.5 l-1.0,8.1" stroke="#cfc4ac" stroke-width="1.1" opacity="0.9"/><path d="M1004.9,209.5 l-1.1,10.5" stroke="#ddd6c4" stroke-width="1.1" opacity="0.9"/><path d="M976.5,281.1 l1.5,4.8" stroke="#ddd6c4" stroke-width="0.8" opacity="0.9"/><path d="M1000.9,268.4 l-1.4,5.0" stroke="#d6ccb6" stroke-width="0.7" opacity="0.9"/><path d="M1016.6,141.5 l1.2,7.1" stroke="#d6ccb6" stroke-width="0.7" opacity="0.9"/><path d="M1023.4,215.7 l0.8,6.8" stroke="#bdd2a6" stroke-width="1.3" opacity="0.9"/><path d="M976.6,293.5 l-1.2,6.2" stroke="#cfc4ac" stroke-width="1.2" opacity="0.9"/><path d="M967.4,171.7 l-1.1,6.1" stroke="#ddd6c4" stroke-width="0.8" opacity="0.9"/><path d="M1046.4,277.8 l0.5,7.0" stroke="#bdd2a6" stroke-width="1.4" opacity="0.9"/><path d="M991.0,338.0 l-0.2,7.5" stroke="#d6ccb6" stroke-width="1.0" opacity="0.9"/><path d="M998.6,315.2 l-0.9,9.3" stroke="#bdd2a6" stroke-width="0.8" opacity="0.9"/><path d="M970.5,268.1 l0.7,6.4" stroke="#cbc0a8" stroke-width="1.2" opacity="0.9"/><path d="M1021.9,424.4 l-0.8,3.4" stroke="#d6ccb6" stroke-width="0.8" opacity="0.9"/><path d="M949.6,177.8 l-0.2,7.0" stroke="#bdd2a6" stroke-width="1.0" opacity="0.9"/><path d="M1010.9,237.5 l0.7,9.6" stroke="#bdd2a6" stroke-width="1.3" opacity="0.9"/><path d="M983.5,342.4 l-1.1,5.2" stroke="#cbc0a8" stroke-width="1.4" opacity="0.9"/><path d="M1035.0,133.3 l0.3,6.3" stroke="#cfc4ac" stroke-width="1.0" opacity="0.9"/><path d="M998.2,275.4 l-0.9,7.5" stroke="#ddd6c4" stroke-width="1.0" opacity="0.9"/><path d="M1019.7,339.3 l0.2,10.3" stroke="#cbc0a8" stroke-width="1.2" opacity="0.9"/><path d="M1060.2,153.3 l0.8,9.5" stroke="#d6ccb6" stroke-width="1.4" opacity="0.9"/><path d="M952.6,303.0 l0.1,10.6" stroke="#bdd2a6" stroke-width="0.8" opacity="0.9"/><path d="M991.0,422.6 l-0.0,4.3" stroke="#d6ccb6" stroke-width="1.2" opacity="0.9"/><path d="M1002.8,132.7 l1.3,7.4" stroke="#ddd6c4" stroke-width="1.0" opacity="0.9"/><path d="M986.3,417.7 l-0.9,5.3" stroke="#cfc4ac" stroke-width="1.0" opacity="0.9"/><path d="M1046.4,386.5 l-0.5,5.7" stroke="#cfc4ac" stroke-width="0.9" opacity="0.9"/><path d="M964.6,287.2 l-1.5,7.5" stroke="#d6ccb6" stroke-width="1.2" opacity="0.9"/><path d="M955.6,207.6 l-0.5,7.7" stroke="#bdd2a6" stroke-width="0.9" opacity="0.9"/><path d="M981.1,189.1 l0.8,4.6" stroke="#ddd6c4" stroke-width="1.1" opacity="0.9"/><path d="M969.1,284.5 l-0.6,6.2" stroke="#ddd6c4" stroke-width="1.5" opacity="0.9"/><path d="M962.7,401.7 l-1.2,5.5" stroke="#cfc4ac" stroke-width="1.4" opacity="0.9"/><path d="M988.0,227.9 l-0.8,8.2" stroke="#ddd6c4" stroke-width="1.3" opacity="0.9"/><path d="M1014.8,160.8 l-0.5,4.4" stroke="#bdd2a6" stroke-width="0.8" opacity="0.9"/><path d="M979.0,158.3 l-1.3,5.5" stroke="#ddd6c4" stroke-width="1.4" opacity="0.9"/><path d="M1008.2,130.0 l1.5,6.5" stroke="#d6ccb6" stroke-width="0.8" opacity="0.9"/><path d="M937.1,359.6 l-0.7,6.0" stroke="#d6ccb6" stroke-width="1.4" opacity="0.9"/><path d="M962.3,262.7 l0.7,6.8" stroke="#bdd2a6" stroke-width="1.4" opacity="0.9"/><path d="M979.2,293.9 l-0.1,7.3" stroke="#cfc4ac" stroke-width="1.3" opacity="0.9"/><path d="M960.8,419.4 l-1.0,3.9" stroke="#cbc0a8" stroke-width="1.3" opacity="0.9"/><path d="M970.3,147.5 l1.0,7.3" stroke="#cbc0a8" stroke-width="1.4" opacity="0.9"/><path d="M1062.4,140.0 l0.4,6.0" stroke="#cfc4ac" stroke-width="1.1" opacity="0.9"/><path d="M981.6,269.9 l0.5,3.1" stroke="#d6ccb6" stroke-width="1.4" opacity="0.9"/><path d="M1007.2,148.3 l0.5,10.1" stroke="#cfc4ac" stroke-width="0.9" opacity="0.9"/><path d="M950.4,149.1 l-1.4,5.7" stroke="#cbc0a8" stroke-width="1.1" opacity="0.9"/><path d="M952.8,391.7 l0.6,8.8" stroke="#bdd2a6" stroke-width="1.3" opacity="0.9"/><path d="M1016.4,354.7 l1.1,8.6" stroke="#cfc4ac" stroke-width="1.3" opacity="0.9"/><path d="M1019.7,128.6 l-1.1,9.0" stroke="#d6ccb6" stroke-width="1.4" opacity="0.9"/><path d="M994.0,281.1 l0.4,8.4" stroke="#cbc0a8" stroke-width="1.4" opacity="0.9"/><path d="M975.8,313.4 l0.1,3.6" stroke="#cbc0a8" stroke-width="1.0" opacity="0.9"/><path d="M1053.2,285.2 l0.8,5.3" stroke="#bdd2a6" stroke-width="1.3" opacity="0.9"/><path d="M974.9,146.2 l0.3,10.4" stroke="#bdd2a6" stroke-width="1.0" opacity="0.9"/><path d="M964.7,154.2 l0.7,5.8" stroke="#ddd6c4" stroke-width="1.1" opacity="0.9"/><path d="M944.0,316.8 l-0.7,7.2" stroke="#ddd6c4" stroke-width="1.4" opacity="0.9"/><path d="M1005.5,348.1 l1.0,9.2" stroke="#cbc0a8" stroke-width="1.5" opacity="0.9"/><path d="M948.2,332.0 l-0.3,9.5" stroke="#d6ccb6" stroke-width="0.8" opacity="0.9"/><path d="M1046.4,339.1 l-0.7,10.7" stroke="#ddd6c4" stroke-width="1.5" opacity="0.9"/><path d="M1056.9,312.2 l-1.1,4.9" stroke="#ddd6c4" stroke-width="1.0" opacity="0.9"/><path d="M961.6,279.6 l-0.2,3.8" stroke="#bdd2a6" stroke-width="1.1" opacity="0.9"/><path d="M942.7,361.8 l-1.0,5.6" stroke="#bdd2a6" stroke-width="1.1" opacity="0.9"/><path d="M1009.3,217.5 l-0.5,10.9" stroke="#d6ccb6" stroke-width="0.8" opacity="0.9"/><path d="M1007.8,233.4 l1.0,7.3" stroke="#bdd2a6" stroke-width="0.8" opacity="0.9"/><path d="M997.7,222.3 l0.2,4.4" stroke="#bdd2a6" stroke-width="0.9" opacity="0.9"/><path d="M1028.0,315.0 l-0.8,3.5" stroke="#ddd6c4" stroke-width="1.5" opacity="0.9"/><path d="M955.2,210.0 l0.2,5.0" stroke="#bdd2a6" stroke-width="0.8" opacity="0.9"/><path d="M991.9,335.3 l1.0,3.5" stroke="#d6ccb6" stroke-width="1.4" opacity="0.9"/><path d="M1026.4,309.9 l-0.2,10.8" stroke="#bdd2a6" stroke-width="1.0" opacity="0.9"/><path d="M938.0,413.9 l0.7,9.4" stroke="#d6ccb6" stroke-width="1.0" opacity="0.9"/><path d="M1049.3,352.6 l-1.4,8.5" stroke="#d6ccb6" stroke-width="0.9" opacity="0.9"/><path d="M984.2,253.2 l0.7,8.4" stroke="#d6ccb6" stroke-width="1.4" opacity="0.9"/><path d="M1026.1,231.3 l-0.4,7.1" stroke="#d6ccb6" stroke-width="1.0" opacity="0.9"/><path d="M1015.7,192.7 l-0.8,10.1" stroke="#cfc4ac" stroke-width="0.8" opacity="0.9"/><path d="M970.7,165.4 l0.3,10.0" stroke="#ddd6c4" stroke-width="1.4" opacity="0.9"/><path d="M1042.9,374.8 l-0.3,10.9" stroke="#ddd6c4" stroke-width="0.9" opacity="0.9"/><path d="M1020.6,187.4 l-0.4,9.1" stroke="#ddd6c4" stroke-width="1.3" opacity="0.9"/><path d="M970.2,377.0 l0.4,8.6" stroke="#d6ccb6" stroke-width="1.3" opacity="0.9"/><path d="M956.7,227.6 l1.2,3.6" stroke="#bdd2a6" stroke-width="1.3" opacity="0.9"/><path d="M972.6,182.5 l0.5,8.8" stroke="#d6ccb6" stroke-width="0.9" opacity="0.9"/><path d="M1029.2,281.5 l-0.7,6.0" stroke="#ddd6c4" stroke-width="0.9" opacity="0.9"/><path d="M1052.5,159.6 l0.2,9.0" stroke="#ddd6c4" stroke-width="1.5" opacity="0.9"/><path d="M1021.1,298.5 l1.4,9.8" stroke="#cfc4ac" stroke-width="1.4" opacity="0.9"/><path d="M1007.0,406.4 l-1.1,5.5" stroke="#bdd2a6" stroke-width="1.1" opacity="0.9"/><path d="M970.0,404.4 l0.8,9.4" stroke="#d6ccb6" stroke-width="1.2" opacity="0.9"/><path d="M970.4,196.3 l0.8,8.4" stroke="#ddd6c4" stroke-width="1.3" opacity="0.9"/><path d="M947.7,370.7 l0.5,3.1" stroke="#ddd6c4" stroke-width="1.4" opacity="0.9"/><path d="M1008.5,254.3 l-0.6,3.9" stroke="#d6ccb6" stroke-width="1.4" opacity="0.9"/><path d="M982.5,394.0 l-0.1,6.2" stroke="#cfc4ac" stroke-width="0.9" opacity="0.9"/><path d="M1024.3,255.8 l0.1,8.8" stroke="#bdd2a6" stroke-width="1.4" opacity="0.9"/><path d="M1012.5,228.8 l0.2,9.1" stroke="#cbc0a8" stroke-width="1.2" opacity="0.9"/><path d="M978.3,246.6 l-1.5,10.9" stroke="#ddd6c4" stroke-width="0.9" opacity="0.9"/><path d="M965.8,362.7 l0.1,4.6" stroke="#cbc0a8" stroke-width="0.8" opacity="0.9"/><path d="M987.5,275.5 l1.0,3.2" stroke="#cfc4ac" stroke-width="0.9" opacity="0.9"/><path d="M1037.6,248.9 l-1.2,4.8" stroke="#cfc4ac" stroke-width="0.8" opacity="0.9"/><path d="M1029.3,326.7 l-0.2,9.8" stroke="#cbc0a8" stroke-width="0.8" opacity="0.9"/><path d="M981.9,390.3 l-1.1,7.0" stroke="#cbc0a8" stroke-width="0.9" opacity="0.9"/><path d="M999.1,245.7 l0.4,8.4" stroke="#cbc0a8" stroke-width="1.4" opacity="0.9"/><path d="M982.3,144.8 l-1.4,4.4" stroke="#ddd6c4" stroke-width="0.8" opacity="0.9"/><path d="M1037.1,388.3 l0.2,9.8" stroke="#cbc0a8" stroke-width="1.4" opacity="0.9"/><path d="M1026.3,291.8 l-0.6,6.4" stroke="#cfc4ac" stroke-width="1.1" opacity="0.9"/><path d="M1001.3,195.1 l0.4,6.2" stroke="#ddd6c4" stroke-width="1.2" opacity="0.9"/><path d="M957.5,323.0 l-0.7,10.1" stroke="#ddd6c4" stroke-width="0.8" opacity="0.9"/><path d="M1039.4,391.8 l-1.4,9.4" stroke="#d6ccb6" stroke-width="1.0" opacity="0.9"/><path d="M1043.5,287.7 l-1.2,9.9" stroke="#cbc0a8" stroke-width="1.4" opacity="0.9"/><path d="M940.8,415.9 l1.0,4.9" stroke="#ddd6c4" stroke-width="1.5" opacity="0.9"/><path d="M997.2,334.3 l0.9,5.3" stroke="#cfc4ac" stroke-width="1.0" opacity="0.9"/><path d="M1010.3,130.2 l-1.3,5.9" stroke="#cfc4ac" stroke-width="0.9" opacity="0.9"/><path d="M940.5,208.7 l0.4,8.7" stroke="#d6ccb6" stroke-width="1.4" opacity="0.9"/><path d="M1042.3,339.1 l-0.5,6.1" stroke="#bdd2a6" stroke-width="1.4" opacity="0.9"/><path d="M982.1,319.5 l-0.6,3.5" stroke="#ddd6c4" stroke-width="1.3" opacity="0.9"/><path d="M985.5,241.3 l-0.9,3.7" stroke="#ddd6c4" stroke-width="1.2" opacity="0.9"/><path d="M1060.1,308.9 l0.1,10.6" stroke="#ddd6c4" stroke-width="1.0" opacity="0.9"/><path d="M968.6,190.5 l-0.1,8.8" stroke="#d6ccb6" stroke-width="1.2" opacity="0.9"/><path d="M1053.4,363.3 l-1.0,9.5" stroke="#cbc0a8" stroke-width="1.2" opacity="0.9"/><path d="M1021.7,293.7 l1.4,4.9" stroke="#ddd6c4" stroke-width="1.0" opacity="0.9"/><path d="M1027.3,302.1 l0.0,6.2" stroke="#d6ccb6" stroke-width="0.9" opacity="0.9"/><path d="M988.9,238.5 l0.6,10.7" stroke="#cfc4ac" stroke-width="1.2" opacity="0.9"/><path d="M1032.2,388.7 l0.3,3.6" stroke="#d6ccb6" stroke-width="0.9" opacity="0.9"/><path d="M996.4,153.2 l0.6,4.8" stroke="#ddd6c4" stroke-width="1.4" opacity="0.9"/><path d="M957.8,156.6 l-0.9,6.0" stroke="#d6ccb6" stroke-width="1.1" opacity="0.9"/><path d="M939.7,387.8 l-1.3,10.9" stroke="#bdd2a6" stroke-width="1.2" opacity="0.9"/><path d="M961.0,136.8 l-0.3,6.8" stroke="#ddd6c4" stroke-width="1.3" opacity="0.9"/><path d="M938.8,351.2 l-0.1,6.0" stroke="#d6ccb6" stroke-width="0.9" opacity="0.9"/><path d="M1044.0,329.6 l0.5,8.2" stroke="#cfc4ac" stroke-width="1.0" opacity="0.9"/><path d="M1020.7,409.5 l0.4,9.3" stroke="#bdd2a6" stroke-width="0.9" opacity="0.9"/><path d="M1019.0,319.4 l-0.5,7.7" stroke="#d6ccb6" stroke-width="0.7" opacity="0.9"/><path d="M985.5,339.3 l1.3,10.2" stroke="#bdd2a6" stroke-width="0.7" opacity="0.9"/><path d="M968.9,220.8 l0.4,6.8" stroke="#d6ccb6" stroke-width="0.7" opacity="0.9"/><path d="M1055.3,394.2 l-0.8,4.1" stroke="#d6ccb6" stroke-width="1.0" opacity="0.9"/><path d="M1001.0,144.5 l1.1,9.9" stroke="#cbc0a8" stroke-width="0.9" opacity="0.9"/><path d="M978.3,258.3 l-0.8,7.4" stroke="#d6ccb6" stroke-width="0.8" opacity="0.9"/><path d="M951.3,320.9 l-1.0,8.6" stroke="#d6ccb6" stroke-width="1.4" opacity="0.9"/><path d="M977.4,392.5 l0.2,9.6" stroke="#bdd2a6" stroke-width="1.4" opacity="0.9"/><path d="M947.8,376.0 l1.1,5.8" stroke="#cfc4ac" stroke-width="0.8" opacity="0.9"/><path d="M1008.0,312.0 l-1.2,7.2" stroke="#ddd6c4" stroke-width="0.8" opacity="0.9"/><path d="M950.3,146.1 l-0.7,10.0" stroke="#cbc0a8" stroke-width="1.4" opacity="0.9"/><path d="M962.8,175.5 l0.1,8.0" stroke="#ddd6c4" stroke-width="1.3" opacity="0.9"/><path d="M1018.3,221.1 l-1.3,10.4" stroke="#cbc0a8" stroke-width="1.4" opacity="0.9"/><path d="M988.2,127.2 l-1.4,9.3" stroke="#bdd2a6" stroke-width="1.1" opacity="0.9"/><path d="M975.8,358.5 l1.1,6.5" stroke="#cfc4ac" stroke-width="1.3" opacity="0.9"/><path d="M961.9,330.8 l-0.8,7.6" stroke="#d6ccb6" stroke-width="1.1" opacity="0.9"/><path d="M1028.0,332.5 l-0.1,10.7" stroke="#cfc4ac" stroke-width="0.8" opacity="0.9"/><path d="M1000.7,178.9 l-0.5,8.3" stroke="#cfc4ac" stroke-width="1.4" opacity="0.9"/><path d="M972.1,398.6 l-1.0,5.4" stroke="#bdd2a6" stroke-width="1.1" opacity="0.9"/><path d="M953.5,168.7 l0.3,7.2" stroke="#bdd2a6" stroke-width="1.1" opacity="0.9"/><path d="M1026.5,387.7 l0.9,6.4" stroke="#cfc4ac" stroke-width="0.9" opacity="0.9"/><path d="M1062.4,161.4 l1.0,7.6" stroke="#cfc4ac" stroke-width="1.1" opacity="0.9"/><path d="M999.5,201.9 l-0.6,5.6" stroke="#cbc0a8" stroke-width="1.3" opacity="0.9"/><path d="M946.9,129.2 l0.9,8.3" stroke="#cfc4ac" stroke-width="1.5" opacity="0.9"/><path d="M1029.4,172.4 l-0.7,7.0" stroke="#cbc0a8" stroke-width="1.2" opacity="0.9"/><path d="M1026.6,141.1 l1.0,4.9" stroke="#d6ccb6" stroke-width="1.1" opacity="0.9"/><path d="M973.2,410.4 l-1.4,4.3" stroke="#bdd2a6" stroke-width="1.3" opacity="0.9"/><path d="M959.2,361.3 l-0.3,7.9" stroke="#cfc4ac" stroke-width="1.1" opacity="0.9"/><path d="M1059.8,414.9 l-1.2,9.1" stroke="#cbc0a8" stroke-width="1.3" opacity="0.9"/><path d="M1018.7,278.9 l-0.8,3.2" stroke="#ddd6c4" stroke-width="1.3" opacity="0.9"/><path d="M1014.2,258.1 l0.4,6.8" stroke="#ddd6c4" stroke-width="1.3" opacity="0.9"/><path d="M1032.4,273.9 l1.4,8.5" stroke="#cbc0a8" stroke-width="1.3" opacity="0.9"/><path d="M981.9,131.4 l-0.6,6.5" stroke="#d6ccb6" stroke-width="1.2" opacity="0.9"/><path d="M940.8,289.4 l-1.2,4.1" stroke="#ddd6c4" stroke-width="1.1" opacity="0.9"/><path d="M974.6,271.1 l-1.3,7.1" stroke="#bdd2a6" stroke-width="1.0" opacity="0.9"/><path d="M1053.3,407.0 l1.1,8.2" stroke="#cbc0a8" stroke-width="1.1" opacity="0.9"/><path d="M1008.3,142.9 l-0.0,3.1" stroke="#ddd6c4" stroke-width="1.0" opacity="0.9"/><path d="M1021.6,372.8 l-0.4,6.2" stroke="#ddd6c4" stroke-width="1.0" opacity="0.9"/><path d="M1028.0,301.4 l0.0,9.7" stroke="#d6ccb6" stroke-width="0.8" opacity="0.9"/><path d="M968.8,372.1 l1.5,5.8" stroke="#cbc0a8" stroke-width="1.1" opacity="0.9"/><path d="M1035.0,201.9 l-1.5,10.6" stroke="#cbc0a8" stroke-width="0.7" opacity="0.9"/><path d="M994.7,219.2 l1.3,8.2" stroke="#d6ccb6" stroke-width="0.8" opacity="0.9"/><path d="M1026.1,227.9 l1.2,3.9" stroke="#cbc0a8" stroke-width="1.3" opacity="0.9"/><path d="M1018.5,418.4 l0.5,7.4" stroke="#d6ccb6" stroke-width="1.4" opacity="0.9"/><path d="M963.6,288.3 l0.4,7.7" stroke="#bdd2a6" stroke-width="1.3" opacity="0.9"/><path d="M982.3,297.3 l-0.4,8.1" stroke="#cbc0a8" stroke-width="1.0" opacity="0.9"/><path d="M973.7,397.3 l-0.2,10.3" stroke="#cbc0a8" stroke-width="1.0" opacity="0.9"/><path d="M947.4,128.4 l0.7,8.4" stroke="#d6ccb6" stroke-width="1.2" opacity="0.9"/><path d="M994.0,212.1 l0.7,6.7" stroke="#cfc4ac" stroke-width="0.8" opacity="0.9"/><path d="M1053.4,139.0 l-0.4,3.4" stroke="#bdd2a6" stroke-width="1.1" opacity="0.9"/><path d="M1012.2,340.1 l1.1,5.5" stroke="#cfc4ac" stroke-width="0.9" opacity="0.9"/><path d="M1011.3,260.6 l-0.4,10.3" stroke="#ddd6c4" stroke-width="1.2" opacity="0.9"/><path d="M978.1,374.6 l0.4,9.2" stroke="#cbc0a8" stroke-width="1.1" opacity="0.9"/><path d="M1024.1,380.6 l-1.1,7.0" stroke="#cbc0a8" stroke-width="1.3" opacity="0.9"/><path d="M1036.9,213.5 l1.0,9.3" stroke="#ddd6c4" stroke-width="1.4" opacity="0.9"/><path d="M990.8,237.8 l-1.4,6.7" stroke="#cbc0a8" stroke-width="0.8" opacity="0.9"/><path d="M970.2,424.0 l0.7,9.0" stroke="#cfc4ac" stroke-width="0.8" opacity="0.9"/><path d="M986.4,409.9 l1.0,9.8" stroke="#cfc4ac" stroke-width="1.3" opacity="0.9"/><path d="M1034.7,399.4 l0.3,6.4" stroke="#cfc4ac" stroke-width="0.8" opacity="0.9"/><path d="M1014.7,313.1 l0.5,5.9" stroke="#cbc0a8" stroke-width="1.1" opacity="0.9"/><path d="M1047.8,337.7 l-0.1,9.9" stroke="#cfc4ac" stroke-width="1.1" opacity="0.9"/><path d="M985.2,285.5 l0.9,6.5" stroke="#cfc4ac" stroke-width="0.7" opacity="0.9"/><path d="M1017.5,245.6 l-0.4,9.0" stroke="#bdd2a6" stroke-width="1.2" opacity="0.9"/><path d="M1044.7,283.0 l-0.4,3.9" stroke="#ddd6c4" stroke-width="1.2" opacity="0.9"/><path d="M984.7,302.3 l0.9,9.7" stroke="#bdd2a6" stroke-width="0.9" opacity="0.9"/><path d="M1048.3,407.2 l1.3,7.2" stroke="#cfc4ac" stroke-width="1.3" opacity="0.9"/><path d="M1004.4,344.5 l0.1,7.5" stroke="#d6ccb6" stroke-width="0.8" opacity="0.9"/><path d="M1013.6,425.0 l-0.0,4.6" stroke="#ddd6c4" stroke-width="1.0" opacity="0.9"/><path d="M1013.8,233.7 l-0.3,8.9" stroke="#ddd6c4" stroke-width="1.3" opacity="0.9"/><path d="M1033.7,240.2 l-0.4,4.6" stroke="#cfc4ac" stroke-width="1.0" opacity="0.9"/><path d="M1043.9,358.7 l-0.9,5.7" stroke="#cfc4ac" stroke-width="1.3" opacity="0.9"/><path d="M961.3,300.1 l-0.2,7.4" stroke="#bdd2a6" stroke-width="1.5" opacity="0.9"/><path d="M1022.0,396.7 l-0.4,7.8" stroke="#cbc0a8" stroke-width="0.9" opacity="0.9"/><path d="M1032.4,242.8 l-1.4,8.6" stroke="#bdd2a6" stroke-width="1.1" opacity="0.9"/><path d="M1006.9,154.4 l-0.0,3.9" stroke="#bdd2a6" stroke-width="0.9" opacity="0.9"/><path d="M1012.8,368.1 l1.4,7.5" stroke="#cfc4ac" stroke-width="1.3" opacity="0.9"/><path d="M1011.8,287.5 l1.0,9.3" stroke="#ddd6c4" stroke-width="0.9" opacity="0.9"/><path d="M1042.9,411.0 l1.1,7.6" stroke="#cfc4ac" stroke-width="0.9" opacity="0.9"/><path d="M1017.1,258.2 l0.1,7.6" stroke="#bdd2a6" stroke-width="1.3" opacity="0.9"/><path d="M1054.3,395.4 l-0.3,5.1" stroke="#ddd6c4" stroke-width="1.4" opacity="0.9"/><path d="M1043.9,306.8 l-0.8,6.1" stroke="#bdd2a6" stroke-width="1.3" opacity="0.9"/><path d="M987.6,135.4 l0.6,5.1" stroke="#cbc0a8" stroke-width="1.4" opacity="0.9"/><path d="M1041.7,308.7 l1.2,9.9" stroke="#ddd6c4" stroke-width="0.8" opacity="0.9"/><path d="M1014.6,347.9 l0.9,4.7" stroke="#cfc4ac" stroke-width="1.1" opacity="0.9"/><path d="M1002.0,147.2 l-0.9,4.6" stroke="#cbc0a8" stroke-width="1.2" opacity="0.9"/><path d="M987.9,422.6 l-0.3,8.1" stroke="#cfc4ac" stroke-width="0.7" opacity="0.9"/><path d="M997.8,167.6 l0.5,10.5" stroke="#bdd2a6" stroke-width="1.4" opacity="0.9"/><path d="M1023.1,261.3 l1.1,8.9" stroke="#ddd6c4" stroke-width="1.0" opacity="0.9"/><path d="M989.0,242.1 l1.4,6.2" stroke="#ddd6c4" stroke-width="1.4" opacity="0.9"/><path d="M984.2,162.7 l-1.0,5.2" stroke="#cbc0a8" stroke-width="1.4" opacity="0.9"/><path d="M971.0,331.5 l1.5,8.6" stroke="#cbc0a8" stroke-width="1.2" opacity="0.9"/><ellipse cx="1115.4" cy="284.3" rx="1.9" ry="1.2" fill="#aac891" opacity="0.75"/><ellipse cx="1133.4" cy="360.3" rx="2.3" ry="0.8" fill="#aac891" opacity="0.75"/><ellipse cx="1086.5" cy="401.7" rx="1.7" ry="1.7" fill="#aac891" opacity="0.75"/><ellipse cx="1061.9" cy="381.0" rx="1.1" ry="1.0" fill="#aac891" opacity="0.75"/><ellipse cx="1149.8" cy="310.9" rx="1.3" ry="1.9" fill="#aac891" opacity="0.75"/><ellipse cx="1107.5" cy="377.8" rx="0.8" ry="1.3" fill="#aac891" opacity="0.75"/><ellipse cx="1125.6" cy="344.5" rx="1.0" ry="2.9" fill="#aac891" opacity="0.75"/><ellipse cx="1114.3" cy="408.2" rx="1.0" ry="1.4" fill="#aac891" opacity="0.75"/><ellipse cx="1115.9" cy="292.8" rx="2.3" ry="1.2" fill="#aac891" opacity="0.75"/><ellipse cx="1066.7" cy="308.7" rx="2.5" ry="1.8" fill="#aac891" opacity="0.75"/><ellipse cx="1144.7" cy="417.8" rx="1.0" ry="2.5" fill="#aac891" opacity="0.75"/><ellipse cx="1144.6" cy="360.1" rx="1.7" ry="1.6" fill="#aac891" opacity="0.75"/><ellipse cx="1136.7" cy="361.2" rx="1.4" ry="0.9" fill="#aac891" opacity="0.75"/><ellipse cx="1120.9" cy="268.6" rx="1.9" ry="1.7" fill="#aac891" opacity="0.75"/><ellipse cx="1132.9" cy="277.7" rx="0.9" ry="1.1" fill="#aac891" opacity="0.75"/><ellipse cx="1092.8" cy="277.5" rx="2.5" ry="1.2" fill="#aac891" opacity="0.75"/><ellipse cx="1081.1" cy="418.5" rx="0.8" ry="2.8" fill="#aac891" opacity="0.75"/><ellipse cx="1063.5" cy="296.3" rx="2.6" ry="1.8" fill="#aac891" opacity="0.75"/><ellipse cx="1123.9" cy="311.4" rx="1.8" ry="0.9" fill="#aac891" opacity="0.75"/><ellipse cx="1082.0" cy="368.4" rx="2.0" ry="1.9" fill="#aac891" opacity="0.75"/><ellipse cx="1129.2" cy="292.3" rx="2.3" ry="1.2" fill="#aac891" opacity="0.75"/><ellipse cx="1077.2" cy="327.1" rx="1.5" ry="2.5" fill="#aac891" opacity="0.75"/><ellipse cx="1105.4" cy="346.7" rx="1.2" ry="1.2" fill="#aac891" opacity="0.75"/><ellipse cx="1127.7" cy="299.1" rx="2.5" ry="2.9" fill="#aac891" opacity="0.75"/><ellipse cx="1143.8" cy="296.4" rx="1.8" ry="1.2" fill="#aac891" opacity="0.75"/><ellipse cx="1096.4" cy="316.1" rx="1.2" ry="0.9" fill="#aac891" opacity="0.75"/><ellipse cx="1077.8" cy="372.7" rx="2.2" ry="2.0" fill="#aac891" opacity="0.75"/><ellipse cx="1107.9" cy="403.5" rx="1.4" ry="2.1" fill="#aac891" opacity="0.75"/><ellipse cx="1088.6" cy="300.5" rx="1.5" ry="2.3" fill="#aac891" opacity="0.75"/><ellipse cx="1092.3" cy="373.8" rx="0.9" ry="0.9" fill="#aac891" opacity="0.75"/><ellipse cx="1086.8" cy="304.8" rx="2.4" ry="1.9" fill="#aac891" opacity="0.75"/><ellipse cx="1140.6" cy="282.4" rx="2.6" ry="1.3" fill="#aac891" opacity="0.75"/><ellipse cx="1116.4" cy="317.3" rx="2.3" ry="2.5" fill="#aac891" opacity="0.75"/><ellipse cx="1117.6" cy="312.6" rx="2.2" ry="1.3" fill="#aac891" opacity="0.75"/><ellipse cx="1061.9" cy="325.4" rx="0.7" ry="2.8" fill="#aac891" opacity="0.75"/><ellipse cx="1135.2" cy="312.5" rx="1.3" ry="2.5" fill="#aac891" opacity="0.75"/><ellipse cx="1145.2" cy="343.4" rx="2.0" ry="1.3" fill="#aac891" opacity="0.75"/><ellipse cx="1076.9" cy="284.4" rx="2.5" ry="1.6" fill="#aac891" opacity="0.75"/><ellipse cx="1110.8" cy="367.8" rx="1.3" ry="2.4" fill="#aac891" opacity="0.75"/><ellipse cx="1099.4" cy="365.5" rx="1.4" ry="1.6" fill="#aac891" opacity="0.75"/><ellipse cx="1141.6" cy="271.0" rx="1.5" ry="2.8" fill="#aac891" opacity="0.75"/><ellipse cx="1139.7" cy="325.0" rx="2.0" ry="1.2" fill="#aac891" opacity="0.75"/><ellipse cx="1142.9" cy="379.1" rx="2.0" ry="2.1" fill="#aac891" opacity="0.75"/><ellipse cx="1149.8" cy="276.5" rx="2.1" ry="3.1" fill="#aac891" opacity="0.75"/><ellipse cx="1086.5" cy="287.0" rx="2.1" ry="1.5" fill="#aac891" opacity="0.75"/><ellipse cx="1076.8" cy="358.0" rx="1.2" ry="2.3" fill="#aac891" opacity="0.75"/><ellipse cx="1132.1" cy="415.7" rx="0.7" ry="1.2" fill="#aac891" opacity="0.75"/><ellipse cx="1133.2" cy="397.1" rx="2.0" ry="2.7" fill="#aac891" opacity="0.75"/><ellipse cx="1085.1" cy="270.4" rx="2.6" ry="2.7" fill="#aac891" opacity="0.75"/><ellipse cx="1113.1" cy="310.9" rx="2.4" ry="2.8" fill="#aac891" opacity="0.75"/><ellipse cx="1146.2" cy="380.7" rx="2.5" ry="1.2" fill="#aac891" opacity="0.75"/><ellipse cx="1103.8" cy="398.8" rx="1.4" ry="2.5" fill="#aac891" opacity="0.75"/><ellipse cx="1070.6" cy="283.8" rx="2.0" ry="3.0" fill="#aac891" opacity="0.75"/><ellipse cx="1090.4" cy="364.9" rx="1.4" ry="3.0" fill="#aac891" opacity="0.75"/><ellipse cx="1139.5" cy="383.4" rx="1.7" ry="0.9" fill="#aac891" opacity="0.75"/><ellipse cx="1113.9" cy="310.1" rx="1.6" ry="1.1" fill="#aac891" opacity="0.75"/><ellipse cx="1109.4" cy="387.7" rx="2.3" ry="2.1" fill="#aac891" opacity="0.75"/><ellipse cx="1072.7" cy="409.5" rx="1.5" ry="0.9" fill="#aac891" opacity="0.75"/><ellipse cx="1134.9" cy="372.7" rx="1.2" ry="2.3" fill="#aac891" opacity="0.75"/><ellipse cx="1072.6" cy="314.1" rx="0.6" ry="1.1" fill="#aac891" opacity="0.75"/><ellipse cx="1104.6" cy="332.6" rx="1.7" ry="2.9" fill="#aac891" opacity="0.75"/><ellipse cx="1149.7" cy="319.6" rx="2.0" ry="1.9" fill="#aac891" opacity="0.75"/><ellipse cx="1127.1" cy="372.0" rx="0.8" ry="2.3" fill="#aac891" opacity="0.75"/><ellipse cx="1082.4" cy="307.0" rx="2.0" ry="1.3" fill="#aac891" opacity="0.75"/><ellipse cx="1068.6" cy="290.5" rx="0.7" ry="1.5" fill="#aac891" opacity="0.75"/><ellipse cx="1068.8" cy="288.2" rx="2.5" ry="2.8" fill="#aac891" opacity="0.75"/><ellipse cx="1093.8" cy="352.6" rx="1.0" ry="2.2" fill="#aac891" opacity="0.75"/><ellipse cx="1077.6" cy="373.6" rx="0.7" ry="2.7" fill="#aac891" opacity="0.75"/><ellipse cx="1097.1" cy="376.0" rx="1.7" ry="0.9" fill="#aac891" opacity="0.75"/><ellipse cx="1073.7" cy="301.1" rx="1.5" ry="2.6" fill="#aac891" opacity="0.75"/><ellipse cx="1108.2" cy="419.4" rx="1.2" ry="0.9" fill="#aac891" opacity="0.75"/><ellipse cx="1111.0" cy="272.2" rx="1.9" ry="1.4" fill="#aac891" opacity="0.75"/><ellipse cx="1062.7" cy="305.2" rx="2.4" ry="2.2" fill="#aac891" opacity="0.75"/><ellipse cx="1070.6" cy="415.6" rx="1.6" ry="2.6" fill="#aac891" opacity="0.75"/><ellipse cx="1141.4" cy="357.4" rx="2.3" ry="1.4" fill="#aac891" opacity="0.75"/><ellipse cx="1121.4" cy="368.9" rx="2.2" ry="2.4" fill="#aac891" opacity="0.75"/><ellipse cx="1117.9" cy="278.7" rx="1.6" ry="0.9" fill="#aac891" opacity="0.75"/><ellipse cx="1126.5" cy="306.3" rx="2.0" ry="3.1" fill="#aac891" opacity="0.75"/><ellipse cx="1102.5" cy="356.3" rx="2.2" ry="2.4" fill="#aac891" opacity="0.75"/><ellipse cx="1110.9" cy="381.3" rx="1.7" ry="0.9" fill="#aac891" opacity="0.75"/><ellipse cx="1102.5" cy="355.8" rx="1.6" ry="2.2" fill="#aac891" opacity="0.75"/><ellipse cx="1146.5" cy="396.5" rx="1.2" ry="2.4" fill="#aac891" opacity="0.75"/><ellipse cx="1093.2" cy="285.5" rx="1.0" ry="3.0" fill="#aac891" opacity="0.75"/><ellipse cx="1144.4" cy="385.0" rx="1.7" ry="1.8" fill="#aac891" opacity="0.75"/><ellipse cx="1092.9" cy="331.4" rx="0.6" ry="1.3" fill="#aac891" opacity="0.75"/><ellipse cx="1109.8" cy="358.8" rx="0.9" ry="2.0" fill="#aac891" opacity="0.75"/><ellipse cx="1074.5" cy="364.2" rx="0.8" ry="2.6" fill="#aac891" opacity="0.75"/><ellipse cx="1136.0" cy="355.9" rx="2.3" ry="2.8" fill="#aac891" opacity="0.75"/><ellipse cx="1120.9" cy="401.5" rx="1.1" ry="1.1" fill="#aac891" opacity="0.75"/><ellipse cx="1141.8" cy="402.1" rx="1.6" ry="2.2" fill="#aac891" opacity="0.75"/><ellipse cx="1074.6" cy="364.8" rx="2.3" ry="3.1" fill="#aac891" opacity="0.75"/><ellipse cx="1105.9" cy="390.8" rx="2.5" ry="2.5" fill="#aac891" opacity="0.75"/><ellipse cx="1068.2" cy="312.8" rx="1.4" ry="2.0" fill="#aac891" opacity="0.75"/><ellipse cx="1086.7" cy="305.0" rx="1.6" ry="1.9" fill="#aac891" opacity="0.75"/><ellipse cx="1142.6" cy="326.3" rx="1.9" ry="1.1" fill="#aac891" opacity="0.75"/><ellipse cx="1079.7" cy="330.4" rx="0.7" ry="1.0" fill="#aac891" opacity="0.75"/><ellipse cx="1103.3" cy="370.3" rx="1.6" ry="1.0" fill="#aac891" opacity="0.75"/><ellipse cx="1099.9" cy="278.6" rx="2.0" ry="0.9" fill="#aac891" opacity="0.75"/><ellipse cx="1066.4" cy="292.5" rx="0.7" ry="1.2" fill="#aac891" opacity="0.75"/><ellipse cx="1097.2" cy="320.5" rx="2.0" ry="1.0" fill="#aac891" opacity="0.75"/><ellipse cx="1096.0" cy="277.3" rx="1.8" ry="1.6" fill="#aac891" opacity="0.75"/><ellipse cx="1107.9" cy="315.9" rx="1.6" ry="1.8" fill="#aac891" opacity="0.75"/><ellipse cx="1134.1" cy="376.1" rx="1.0" ry="1.2" fill="#aac891" opacity="0.75"/><ellipse cx="1100.0" cy="366.5" rx="0.9" ry="1.6" fill="#aac891" opacity="0.75"/><ellipse cx="1110.2" cy="396.3" rx="2.3" ry="1.9" fill="#aac891" opacity="0.75"/><ellipse cx="1142.9" cy="311.1" rx="1.2" ry="2.0" fill="#aac891" opacity="0.75"/><ellipse cx="1139.6" cy="380.3" rx="1.2" ry="1.8" fill="#aac891" opacity="0.75"/><ellipse cx="1067.7" cy="413.4" rx="1.5" ry="1.0" fill="#aac891" opacity="0.75"/><ellipse cx="1091.0" cy="342.5" rx="0.6" ry="1.4" fill="#aac891" opacity="0.75"/><ellipse cx="1079.3" cy="402.9" rx="1.2" ry="1.9" fill="#aac891" opacity="0.75"/><ellipse cx="1132.5" cy="364.3" rx="1.7" ry="1.3" fill="#aac891" opacity="0.75"/><ellipse cx="1140.0" cy="309.5" rx="0.6" ry="1.1" fill="#aac891" opacity="0.75"/><ellipse cx="1121.3" cy="322.3" rx="1.2" ry="2.4" fill="#aac891" opacity="0.75"/><ellipse cx="1076.8" cy="417.1" rx="2.6" ry="0.9" fill="#aac891" opacity="0.75"/><ellipse cx="1113.4" cy="371.8" rx="0.7" ry="2.3" fill="#aac891" opacity="0.75"/><ellipse cx="1089.8" cy="363.9" rx="0.8" ry="2.8" fill="#aac891" opacity="0.75"/><ellipse cx="1088.9" cy="374.7" rx="1.9" ry="1.9" fill="#aac891" opacity="0.75"/><ellipse cx="1068.0" cy="297.1" rx="1.9" ry="1.9" fill="#aac891" opacity="0.75"/><ellipse cx="1076.7" cy="312.2" rx="2.0" ry="2.9" fill="#aac891" opacity="0.75"/><ellipse cx="1078.4" cy="326.4" rx="1.9" ry="1.0" fill="#aac891" opacity="0.75"/><ellipse cx="1136.0" cy="396.1" rx="2.2" ry="2.8" fill="#aac891" opacity="0.75"/><ellipse cx="1101.5" cy="286.0" rx="2.4" ry="2.5" fill="#aac891" opacity="0.75"/><ellipse cx="1110.1" cy="336.3" rx="2.5" ry="2.2" fill="#aac891" opacity="0.75"/><ellipse cx="1092.5" cy="357.6" rx="1.1" ry="1.3" fill="#aac891" opacity="0.75"/><ellipse cx="1078.9" cy="338.8" rx="2.0" ry="3.0" fill="#aac891" opacity="0.75"/><ellipse cx="1105.8" cy="293.6" rx="2.6" ry="1.4" fill="#aac891" opacity="0.75"/><ellipse cx="1063.1" cy="279.1" rx="1.3" ry="2.6" fill="#aac891" opacity="0.75"/><ellipse cx="1123.0" cy="358.0" rx="1.2" ry="1.8" fill="#aac891" opacity="0.75"/><ellipse cx="1126.9" cy="394.9" rx="0.9" ry="2.6" fill="#aac891" opacity="0.75"/><ellipse cx="1113.5" cy="394.1" rx="0.6" ry="2.3" fill="#aac891" opacity="0.75"/><ellipse cx="1098.8" cy="361.5" rx="0.7" ry="2.4" fill="#aac891" opacity="0.75"/><ellipse cx="1102.2" cy="313.1" rx="0.7" ry="2.1" fill="#aac891" opacity="0.75"/><ellipse cx="1110.1" cy="373.9" rx="0.9" ry="1.9" fill="#aac891" opacity="0.75"/><ellipse cx="1103.2" cy="340.8" rx="1.9" ry="1.2" fill="#aac891" opacity="0.75"/><ellipse cx="1109.8" cy="283.5" rx="2.1" ry="2.6" fill="#aac891" opacity="0.75"/><ellipse cx="1127.3" cy="407.1" rx="1.1" ry="0.8" fill="#aac891" opacity="0.75"/><ellipse cx="1113.4" cy="295.6" rx="1.1" ry="1.7" fill="#aac891" opacity="0.75"/><ellipse cx="1070.5" cy="302.2" rx="2.1" ry="1.7" fill="#aac891" opacity="0.75"/><ellipse cx="1133.7" cy="290.4" rx="2.1" ry="2.0" fill="#aac891" opacity="0.75"/><ellipse cx="1079.2" cy="410.9" rx="0.9" ry="1.4" fill="#aac891" opacity="0.75"/><ellipse cx="1134.7" cy="350.9" rx="2.5" ry="0.8" fill="#aac891" opacity="0.75"/><ellipse cx="1080.4" cy="376.8" rx="1.1" ry="2.7" fill="#aac891" opacity="0.75"/><ellipse cx="1105.1" cy="274.5" rx="1.6" ry="1.3" fill="#aac891" opacity="0.75"/><ellipse cx="1092.1" cy="273.8" rx="0.6" ry="1.0" fill="#aac891" opacity="0.75"/><ellipse cx="1081.7" cy="276.6" rx="1.6" ry="2.3" fill="#aac891" opacity="0.75"/><ellipse cx="1132.7" cy="307.5" rx="1.4" ry="1.9" fill="#aac891" opacity="0.75"/><ellipse cx="1092.2" cy="351.4" rx="0.8" ry="2.0" fill="#aac891" opacity="0.75"/><ellipse cx="1132.7" cy="391.5" rx="1.2" ry="0.8" fill="#aac891" opacity="0.75"/><ellipse cx="1134.7" cy="369.4" rx="0.8" ry="1.6" fill="#aac891" opacity="0.75"/><ellipse cx="1078.9" cy="391.5" rx="1.2" ry="2.4" fill="#aac891" opacity="0.75"/><ellipse cx="1089.6" cy="317.1" rx="1.6" ry="2.6" fill="#aac891" opacity="0.75"/><ellipse cx="1122.2" cy="412.6" rx="0.9" ry="2.4" fill="#aac891" opacity="0.75"/><ellipse cx="1067.3" cy="407.9" rx="1.3" ry="2.3" fill="#aac891" opacity="0.75"/><ellipse cx="1062.8" cy="385.2" rx="1.0" ry="1.4" fill="#aac891" opacity="0.75"/><ellipse cx="1137.7" cy="383.9" rx="2.0" ry="1.1" fill="#aac891" opacity="0.75"/><ellipse cx="1071.6" cy="291.8" rx="1.4" ry="1.1" fill="#aac891" opacity="0.75"/><ellipse cx="1100.2" cy="406.0" rx="1.9" ry="3.1" fill="#aac891" opacity="0.75"/><ellipse cx="1143.5" cy="417.8" rx="1.5" ry="2.9" fill="#aac891" opacity="0.75"/><ellipse cx="1119.2" cy="393.1" rx="2.1" ry="1.1" fill="#aac891" opacity="0.75"/><ellipse cx="1130.4" cy="414.0" rx="1.8" ry="1.0" fill="#aac891" opacity="0.75"/><ellipse cx="1120.9" cy="370.0" rx="0.8" ry="1.4" fill="#aac891" opacity="0.75"/><ellipse cx="1089.9" cy="405.7" rx="2.6" ry="2.8" fill="#aac891" opacity="0.75"/><ellipse cx="1134.0" cy="394.6" rx="0.7" ry="0.9" fill="#aac891" opacity="0.75"/><ellipse cx="1062.7" cy="368.2" rx="1.2" ry="1.2" fill="#aac891" opacity="0.75"/><ellipse cx="1067.4" cy="354.7" rx="2.2" ry="2.8" fill="#aac891" opacity="0.75"/><ellipse cx="1105.8" cy="374.2" rx="1.7" ry="2.0" fill="#aac891" opacity="0.75"/><ellipse cx="1088.4" cy="271.6" rx="1.5" ry="1.5" fill="#aac891" opacity="0.75"/><ellipse cx="1062.2" cy="270.8" rx="1.2" ry="1.8" fill="#aac891" opacity="0.75"/><ellipse cx="1076.2" cy="396.5" rx="2.1" ry="1.5" fill="#aac891" opacity="0.75"/><ellipse cx="1127.7" cy="289.3" rx="1.7" ry="1.6" fill="#aac891" opacity="0.75"/><ellipse cx="1071.0" cy="340.7" rx="0.9" ry="2.3" fill="#aac891" opacity="0.75"/><ellipse cx="1147.3" cy="415.5" rx="0.6" ry="1.9" fill="#aac891" opacity="0.75"/><ellipse cx="1149.7" cy="370.2" rx="1.4" ry="1.9" fill="#aac891" opacity="0.75"/><ellipse cx="1075.2" cy="396.4" rx="1.6" ry="1.1" fill="#aac891" opacity="0.75"/><ellipse cx="1124.8" cy="411.9" rx="2.2" ry="3.1" fill="#aac891" opacity="0.75"/><ellipse cx="1064.2" cy="328.0" rx="1.5" ry="1.0" fill="#aac891" opacity="0.75"/><ellipse cx="1138.7" cy="315.8" rx="0.7" ry="1.5" fill="#aac891" opacity="0.75"/><ellipse cx="1093.8" cy="330.2" rx="0.8" ry="1.1" fill="#aac891" opacity="0.75"/><ellipse cx="1138.2" cy="417.5" rx="2.0" ry="1.5" fill="#aac891" opacity="0.75"/><ellipse cx="1120.5" cy="310.3" rx="0.9" ry="1.4" fill="#aac891" opacity="0.75"/><ellipse cx="1076.0" cy="269.0" rx="1.0" ry="2.8" fill="#aac891" opacity="0.75"/><ellipse cx="1083.2" cy="326.1" rx="1.2" ry="2.7" fill="#aac891" opacity="0.75"/><ellipse cx="1135.0" cy="410.1" rx="0.8" ry="1.4" fill="#aac891" opacity="0.75"/><ellipse cx="1062.7" cy="326.8" rx="2.3" ry="1.7" fill="#aac891" opacity="0.75"/><ellipse cx="1104.4" cy="274.8" rx="1.2" ry="1.5" fill="#aac891" opacity="0.75"/><ellipse cx="1067.0" cy="401.0" rx="0.9" ry="2.7" fill="#aac891" opacity="0.75"/><ellipse cx="1121.2" cy="273.6" rx="0.6" ry="2.9" fill="#aac891" opacity="0.75"/><ellipse cx="1087.7" cy="351.0" rx="1.2" ry="1.8" fill="#aac891" opacity="0.75"/><ellipse cx="1103.5" cy="365.4" rx="1.2" ry="2.7" fill="#aac891" opacity="0.75"/><ellipse cx="1130.3" cy="382.6" rx="2.2" ry="2.1" fill="#aac891" opacity="0.75"/><ellipse cx="1120.8" cy="349.0" rx="0.9" ry="1.3" fill="#aac891" opacity="0.75"/><ellipse cx="1118.0" cy="323.2" rx="1.6" ry="2.2" fill="#aac891" opacity="0.75"/><ellipse cx="1083.1" cy="402.0" rx="2.1" ry="2.9" fill="#aac891" opacity="0.75"/><ellipse cx="1129.4" cy="323.2" rx="2.0" ry="1.7" fill="#aac891" opacity="0.75"/><ellipse cx="1114.9" cy="394.8" rx="1.5" ry="1.7" fill="#aac891" opacity="0.75"/><ellipse cx="1069.1" cy="401.5" rx="1.4" ry="2.0" fill="#aac891" opacity="0.75"/><ellipse cx="1099.4" cy="345.2" rx="2.2" ry="2.0" fill="#aac891" opacity="0.75"/><ellipse cx="1079.4" cy="341.7" rx="2.3" ry="1.9" fill="#aac891" opacity="0.75"/><ellipse cx="1127.7" cy="354.1" rx="1.6" ry="2.3" fill="#aac891" opacity="0.75"/><ellipse cx="1080.5" cy="368.8" rx="2.6" ry="3.0" fill="#aac891" opacity="0.75"/><ellipse cx="1098.5" cy="404.3" rx="0.9" ry="1.1" fill="#aac891" opacity="0.75"/><ellipse cx="1128.2" cy="407.7" rx="1.1" ry="1.1" fill="#aac891" opacity="0.75"/><ellipse cx="1080.7" cy="397.4" rx="2.4" ry="2.6" fill="#aac891" opacity="0.75"/><ellipse cx="1081.2" cy="294.2" rx="1.1" ry="3.1" fill="#aac891" opacity="0.75"/><ellipse cx="1072.5" cy="355.0" rx="1.6" ry="2.7" fill="#aac891" opacity="0.75"/><ellipse cx="1149.6" cy="388.7" rx="1.4" ry="1.9" fill="#aac891" opacity="0.75"/><ellipse cx="1116.0" cy="287.8" rx="1.0" ry="2.1" fill="#aac891" opacity="0.75"/><ellipse cx="1079.9" cy="322.7" rx="2.3" ry="2.3" fill="#aac891" opacity="0.75"/><ellipse cx="1088.0" cy="381.1" rx="1.0" ry="2.9" fill="#aac891" opacity="0.75"/><ellipse cx="1060.8" cy="389.0" rx="2.3" ry="1.5" fill="#aac891" opacity="0.75"/><ellipse cx="1090.8" cy="387.1" rx="1.0" ry="2.6" fill="#aac891" opacity="0.75"/><ellipse cx="1066.8" cy="402.6" rx="1.9" ry="1.5" fill="#aac891" opacity="0.75"/><ellipse cx="1098.4" cy="399.7" rx="0.9" ry="1.6" fill="#aac891" opacity="0.75"/><ellipse cx="1139.4" cy="267.6" rx="2.4" ry="1.5" fill="#aac891" opacity="0.75"/><ellipse cx="1099.6" cy="311.0" rx="1.3" ry="2.1" fill="#aac891" opacity="0.75"/><ellipse cx="1079.8" cy="377.3" rx="1.4" ry="2.3" fill="#aac891" opacity="0.75"/><ellipse cx="1081.6" cy="383.0" rx="1.1" ry="2.3" fill="#aac891" opacity="0.75"/><ellipse cx="1111.5" cy="375.1" rx="1.8" ry="1.5" fill="#aac891" opacity="0.75"/><ellipse cx="1126.9" cy="298.5" rx="1.8" ry="0.8" fill="#aac891" opacity="0.75"/><ellipse cx="1136.6" cy="360.9" rx="1.3" ry="1.4" fill="#aac891" opacity="0.75"/><ellipse cx="1080.9" cy="309.5" rx="0.7" ry="1.0" fill="#aac891" opacity="0.75"/><ellipse cx="1144.8" cy="296.0" rx="1.3" ry="1.0" fill="#aac891" opacity="0.75"/><ellipse cx="1111.5" cy="336.3" rx="1.2" ry="1.7" fill="#aac891" opacity="0.75"/><ellipse cx="1145.9" cy="373.4" rx="2.0" ry="2.1" fill="#aac891" opacity="0.75"/><ellipse cx="1062.0" cy="353.2" rx="1.7" ry="1.0" fill="#aac891" opacity="0.75"/><ellipse cx="1090.5" cy="302.2" rx="1.7" ry="0.8" fill="#aac891" opacity="0.75"/><ellipse cx="1078.0" cy="383.4" rx="2.2" ry="2.2" fill="#aac891" opacity="0.75"/><ellipse cx="1083.4" cy="298.3" rx="2.1" ry="2.8" fill="#aac891" opacity="0.75"/><ellipse cx="1063.3" cy="284.4" rx="2.2" ry="1.5" fill="#aac891" opacity="0.75"/><ellipse cx="1074.2" cy="390.3" rx="1.4" ry="1.6" fill="#aac891" opacity="0.75"/><ellipse cx="1088.2" cy="378.4" rx="2.1" ry="1.3" fill="#aac891" opacity="0.75"/><ellipse cx="1077.0" cy="350.3" rx="2.2" ry="2.5" fill="#aac891" opacity="0.75"/><ellipse cx="1096.1" cy="401.9" rx="0.7" ry="2.4" fill="#aac891" opacity="0.75"/><ellipse cx="1133.3" cy="269.6" rx="0.9" ry="1.6" fill="#aac891" opacity="0.75"/><ellipse cx="1068.9" cy="361.3" rx="0.8" ry="1.5" fill="#aac891" opacity="0.75"/><ellipse cx="1064.1" cy="360.0" rx="1.3" ry="2.4" fill="#aac891" opacity="0.75"/><ellipse cx="1080.4" cy="377.9" rx="1.1" ry="2.1" fill="#aac891" opacity="0.75"/><ellipse cx="1133.8" cy="393.0" rx="2.4" ry="2.2" fill="#aac891" opacity="0.75"/><ellipse cx="1101.7" cy="344.1" rx="2.5" ry="1.5" fill="#aac891" opacity="0.75"/><ellipse cx="1135.6" cy="294.1" rx="2.3" ry="1.0" fill="#aac891" opacity="0.75"/><ellipse cx="1111.1" cy="363.9" rx="1.5" ry="1.4" fill="#aac891" opacity="0.75"/><ellipse cx="1143.5" cy="379.4" rx="1.2" ry="1.4" fill="#aac891" opacity="0.75"/><ellipse cx="1077.0" cy="307.2" rx="1.6" ry="1.5" fill="#aac891" opacity="0.75"/><ellipse cx="1109.0" cy="369.5" rx="0.9" ry="1.7" fill="#aac891" opacity="0.75"/><ellipse cx="1073.6" cy="322.6" rx="1.1" ry="2.3" fill="#aac891" opacity="0.75"/><ellipse cx="1115.0" cy="406.2" rx="2.3" ry="3.1" fill="#aac891" opacity="0.75"/><ellipse cx="1063.6" cy="399.1" rx="1.2" ry="2.1" fill="#aac891" opacity="0.75"/><ellipse cx="1132.0" cy="296.0" rx="1.4" ry="1.9" fill="#aac891" opacity="0.75"/><ellipse cx="1116.1" cy="361.6" rx="1.3" ry="3.1" fill="#aac891" opacity="0.75"/><ellipse cx="1081.6" cy="389.2" rx="1.7" ry="1.0" fill="#aac891" opacity="0.75"/><ellipse cx="1083.6" cy="299.5" rx="2.1" ry="2.9" fill="#aac891" opacity="0.75"/><ellipse cx="1114.9" cy="404.6" rx="1.3" ry="1.1" fill="#aac891" opacity="0.75"/><ellipse cx="1126.8" cy="319.0" rx="1.5" ry="2.7" fill="#aac891" opacity="0.75"/><ellipse cx="1119.0" cy="400.1" rx="2.5" ry="1.5" fill="#aac891" opacity="0.75"/><ellipse cx="1072.2" cy="417.2" rx="2.3" ry="1.1" fill="#aac891" opacity="0.75"/><ellipse cx="1089.7" cy="399.1" rx="1.2" ry="1.8" fill="#aac891" opacity="0.75"/><ellipse cx="1097.6" cy="302.9" rx="2.4" ry="3.1" fill="#aac891" opacity="0.75"/><ellipse cx="1102.5" cy="383.4" rx="0.9" ry="2.3" fill="#aac891" opacity="0.75"/><ellipse cx="1146.9" cy="396.9" rx="0.9" ry="0.8" fill="#aac891" opacity="0.75"/><ellipse cx="1099.9" cy="327.8" rx="2.2" ry="3.0" fill="#aac891" opacity="0.75"/><ellipse cx="1142.1" cy="351.1" rx="1.8" ry="1.4" fill="#aac891" opacity="0.75"/><ellipse cx="1131.2" cy="335.7" rx="0.8" ry="3.0" fill="#aac891" opacity="0.75"/><ellipse cx="1066.9" cy="266.9" rx="1.0" ry="1.6" fill="#aac891" opacity="0.75"/><ellipse cx="1080.5" cy="365.1" rx="1.3" ry="3.0" fill="#aac891" opacity="0.75"/><ellipse cx="1093.4" cy="402.7" rx="2.3" ry="2.1" fill="#aac891" opacity="0.75"/><ellipse cx="1123.6" cy="411.9" rx="2.5" ry="2.4" fill="#aac891" opacity="0.75"/><ellipse cx="1147.7" cy="377.5" rx="1.5" ry="1.0" fill="#aac891" opacity="0.75"/><ellipse cx="1121.2" cy="310.6" rx="1.0" ry="2.2" fill="#aac891" opacity="0.75"/><ellipse cx="1092.2" cy="342.0" rx="0.7" ry="1.5" fill="#aac891" opacity="0.75"/><ellipse cx="1126.5" cy="401.4" rx="2.5" ry="2.1" fill="#aac891" opacity="0.75"/><ellipse cx="1093.3" cy="288.3" rx="2.0" ry="2.1" fill="#aac891" opacity="0.75"/><ellipse cx="1082.8" cy="347.9" rx="2.1" ry="2.5" fill="#aac891" opacity="0.75"/><ellipse cx="1077.5" cy="292.9" rx="1.3" ry="0.8" fill="#aac891" opacity="0.75"/><ellipse cx="1124.5" cy="387.6" rx="0.9" ry="2.4" fill="#aac891" opacity="0.75"/><ellipse cx="1099.1" cy="418.1" rx="2.6" ry="1.3" fill="#aac891" opacity="0.75"/><ellipse cx="1061.9" cy="288.3" rx="1.2" ry="2.6" fill="#aac891" opacity="0.75"/><ellipse cx="1087.3" cy="413.7" rx="2.4" ry="1.4" fill="#aac891" opacity="0.75"/><ellipse cx="1109.8" cy="345.5" rx="1.8" ry="2.0" fill="#aac891" opacity="0.75"/><ellipse cx="1124.7" cy="277.8" rx="0.9" ry="2.6" fill="#aac891" opacity="0.75"/><ellipse cx="1089.0" cy="365.5" rx="2.2" ry="1.3" fill="#aac891" opacity="0.75"/><ellipse cx="1131.4" cy="400.6" rx="0.7" ry="1.3" fill="#aac891" opacity="0.75"/><ellipse cx="1072.6" cy="311.7" rx="2.0" ry="1.5" fill="#aac891" opacity="0.75"/><ellipse cx="1080.5" cy="393.2" rx="1.0" ry="2.5" fill="#aac891" opacity="0.75"/><ellipse cx="1131.9" cy="352.4" rx="0.6" ry="2.2" fill="#aac891" opacity="0.75"/><ellipse cx="1145.7" cy="348.5" rx="2.1" ry="1.7" fill="#aac891" opacity="0.75"/><ellipse cx="1068.2" cy="418.6" rx="1.0" ry="1.0" fill="#aac891" opacity="0.75"/><ellipse cx="1065.3" cy="304.5" rx="2.0" ry="1.2" fill="#aac891" opacity="0.75"/><ellipse cx="1099.0" cy="265.8" rx="2.3" ry="2.5" fill="#aac891" opacity="0.75"/><ellipse cx="1133.1" cy="317.2" rx="1.7" ry="1.1" fill="#aac891" opacity="0.75"/><ellipse cx="1138.4" cy="325.3" rx="1.9" ry="0.9" fill="#aac891" opacity="0.75"/><ellipse cx="1078.6" cy="391.3" rx="0.9" ry="1.9" fill="#aac891" opacity="0.75"/><ellipse cx="1101.8" cy="339.0" rx="2.2" ry="3.0" fill="#aac891" opacity="0.75"/><ellipse cx="1094.9" cy="288.8" rx="2.0" ry="3.0" fill="#aac891" opacity="0.75"/><ellipse cx="1098.4" cy="398.7" rx="2.4" ry="1.3" fill="#aac891" opacity="0.75"/><ellipse cx="1062.9" cy="268.9" rx="1.0" ry="1.9" fill="#aac891" opacity="0.75"/><ellipse cx="1120.4" cy="324.8" rx="1.2" ry="1.5" fill="#aac891" opacity="0.75"/><ellipse cx="1116.3" cy="401.4" rx="2.3" ry="1.7" fill="#aac891" opacity="0.75"/><ellipse cx="1117.7" cy="278.9" rx="2.3" ry="2.0" fill="#aac891" opacity="0.75"/><ellipse cx="1094.4" cy="397.6" rx="2.2" ry="2.8" fill="#aac891" opacity="0.75"/><ellipse cx="1095.8" cy="297.4" rx="1.4" ry="2.7" fill="#aac891" opacity="0.75"/><ellipse cx="1140.8" cy="337.0" rx="2.2" ry="1.5" fill="#aac891" opacity="0.75"/><ellipse cx="1076.9" cy="272.7" rx="1.6" ry="1.0" fill="#aac891" opacity="0.75"/><ellipse cx="1096.3" cy="310.8" rx="0.7" ry="1.9" fill="#aac891" opacity="0.75"/><ellipse cx="1079.8" cy="335.8" rx="1.2" ry="2.8" fill="#aac891" opacity="0.75"/><ellipse cx="1074.4" cy="394.0" rx="1.3" ry="2.2" fill="#aac891" opacity="0.75"/><ellipse cx="1112.2" cy="353.2" rx="1.2" ry="2.3" fill="#aac891" opacity="0.75"/><ellipse cx="1094.1" cy="324.9" rx="2.1" ry="0.8" fill="#aac891" opacity="0.75"/><ellipse cx="1110.8" cy="284.7" rx="1.4" ry="0.8" fill="#aac891" opacity="0.75"/><ellipse cx="1101.0" cy="393.3" rx="2.1" ry="3.0" fill="#aac891" opacity="0.75"/><ellipse cx="1106.6" cy="403.9" rx="2.0" ry="1.0" fill="#aac891" opacity="0.75"/><ellipse cx="1109.0" cy="344.2" rx="1.3" ry="1.4" fill="#aac891" opacity="0.75"/><ellipse cx="1070.1" cy="385.5" rx="2.0" ry="1.2" fill="#aac891" opacity="0.75"/><ellipse cx="1141.8" cy="274.4" rx="1.3" ry="2.3" fill="#aac891" opacity="0.75"/><ellipse cx="1090.0" cy="384.8" rx="2.6" ry="2.4" fill="#aac891" opacity="0.75"/><ellipse cx="1116.7" cy="295.2" rx="1.8" ry="0.9" fill="#aac891" opacity="0.75"/><ellipse cx="1143.9" cy="272.2" rx="0.9" ry="1.5" fill="#aac891" opacity="0.75"/><ellipse cx="1069.6" cy="352.4" rx="1.3" ry="2.4" fill="#aac891" opacity="0.75"/><ellipse cx="1083.3" cy="290.6" rx="1.5" ry="1.6" fill="#aac891" opacity="0.75"/><ellipse cx="1144.8" cy="394.2" rx="2.5" ry="2.8" fill="#aac891" opacity="0.75"/><ellipse cx="1138.2" cy="320.1" rx="0.9" ry="1.9" fill="#aac891" opacity="0.75"/><ellipse cx="1071.6" cy="412.0" rx="1.0" ry="1.4" fill="#aac891" opacity="0.75"/><ellipse cx="1108.8" cy="410.1" rx="1.6" ry="1.0" fill="#aac891" opacity="0.75"/><ellipse cx="1107.1" cy="309.5" rx="1.7" ry="1.7" fill="#aac891" opacity="0.75"/><ellipse cx="1109.4" cy="300.9" rx="2.0" ry="1.2" fill="#aac891" opacity="0.75"/><ellipse cx="1138.1" cy="351.0" rx="1.2" ry="1.2" fill="#aac891" opacity="0.75"/><ellipse cx="1143.8" cy="369.2" rx="1.5" ry="2.7" fill="#aac891" opacity="0.75"/><ellipse cx="1081.4" cy="350.0" rx="0.7" ry="1.3" fill="#aac891" opacity="0.75"/><ellipse cx="1061.5" cy="396.9" rx="1.9" ry="2.5" fill="#aac891" opacity="0.75"/><ellipse cx="1120.4" cy="324.7" rx="2.5" ry="3.0" fill="#aac891" opacity="0.75"/><ellipse cx="1068.8" cy="418.7" rx="1.9" ry="3.0" fill="#aac891" opacity="0.75"/><ellipse cx="1143.4" cy="327.5" rx="1.3" ry="1.8" fill="#aac891" opacity="0.75"/><ellipse cx="1069.0" cy="344.6" rx="1.5" ry="1.0" fill="#aac891" opacity="0.75"/><ellipse cx="1096.3" cy="297.8" rx="1.7" ry="1.6" fill="#aac891" opacity="0.75"/><ellipse cx="1095.4" cy="343.0" rx="2.5" ry="2.3" fill="#aac891" opacity="0.75"/><ellipse cx="1088.6" cy="368.9" rx="2.3" ry="2.9" fill="#aac891" opacity="0.75"/><ellipse cx="1147.2" cy="299.3" rx="0.9" ry="1.8" fill="#aac891" opacity="0.75"/><ellipse cx="1103.1" cy="314.5" rx="1.1" ry="2.4" fill="#aac891" opacity="0.75"/><ellipse cx="1136.3" cy="290.9" rx="2.6" ry="2.0" fill="#aac891" opacity="0.75"/><ellipse cx="1131.9" cy="317.6" rx="1.1" ry="2.2" fill="#aac891" opacity="0.75"/><ellipse cx="1107.6" cy="293.9" rx="2.5" ry="1.8" fill="#aac891" opacity="0.75"/><ellipse cx="1141.9" cy="285.1" rx="1.8" ry="2.0" fill="#aac891" opacity="0.75"/><ellipse cx="1064.4" cy="402.4" rx="1.1" ry="2.3" fill="#aac891" opacity="0.75"/><ellipse cx="1083.4" cy="348.5" rx="1.3" ry="1.0" fill="#aac891" opacity="0.75"/><ellipse cx="1082.9" cy="295.4" rx="2.3" ry="1.9" fill="#aac891" opacity="0.75"/><ellipse cx="1084.7" cy="327.6" rx="2.4" ry="0.9" fill="#aac891" opacity="0.75"/><ellipse cx="1070.8" cy="326.2" rx="2.5" ry="2.9" fill="#aac891" opacity="0.75"/><ellipse cx="1129.7" cy="282.1" rx="2.3" ry="2.6" fill="#aac891" opacity="0.75"/><ellipse cx="1125.5" cy="300.7" rx="1.3" ry="0.8" fill="#aac891" opacity="0.75"/><ellipse cx="1104.5" cy="321.2" rx="0.8" ry="1.1" fill="#aac891" opacity="0.75"/><ellipse cx="1113.3" cy="380.8" rx="1.6" ry="1.6" fill="#aac891" opacity="0.75"/><ellipse cx="1130.1" cy="375.6" rx="1.7" ry="2.3" fill="#aac891" opacity="0.75"/><ellipse cx="1143.1" cy="352.9" rx="1.2" ry="1.5" fill="#aac891" opacity="0.75"/><ellipse cx="1071.3" cy="351.3" rx="0.9" ry="2.8" fill="#aac891" opacity="0.75"/><ellipse cx="1137.4" cy="323.9" rx="2.3" ry="2.8" fill="#aac891" opacity="0.75"/><ellipse cx="1119.1" cy="365.3" rx="2.5" ry="2.0" fill="#aac891" opacity="0.75"/><ellipse cx="1111.5" cy="299.7" rx="1.6" ry="2.5" fill="#aac891" opacity="0.75"/><ellipse cx="1111.2" cy="374.4" rx="2.2" ry="2.6" fill="#aac891" opacity="0.75"/><ellipse cx="1086.5" cy="302.5" rx="1.0" ry="1.3" fill="#aac891" opacity="0.75"/><ellipse cx="1082.5" cy="387.5" rx="0.7" ry="2.9" fill="#aac891" opacity="0.75"/><ellipse cx="1136.5" cy="389.3" rx="2.2" ry="1.7" fill="#aac891" opacity="0.75"/><ellipse cx="1117.1" cy="321.1" rx="1.1" ry="2.7" fill="#aac891" opacity="0.75"/><ellipse cx="1146.5" cy="396.3" rx="2.1" ry="2.9" fill="#aac891" opacity="0.75"/><ellipse cx="1142.0" cy="406.0" rx="1.9" ry="2.3" fill="#aac891" opacity="0.75"/><ellipse cx="1092.6" cy="392.9" rx="2.4" ry="2.6" fill="#aac891" opacity="0.75"/><ellipse cx="1076.9" cy="392.4" rx="0.8" ry="1.2" fill="#aac891" opacity="0.75"/><ellipse cx="1068.0" cy="339.5" rx="0.9" ry="0.9" fill="#aac891" opacity="0.75"/><ellipse cx="1119.5" cy="289.7" rx="1.7" ry="2.4" fill="#aac891" opacity="0.75"/><ellipse cx="1090.4" cy="356.2" rx="1.8" ry="2.4" fill="#aac891" opacity="0.75"/><ellipse cx="1130.4" cy="316.1" rx="1.3" ry="1.5" fill="#aac891" opacity="0.75"/><ellipse cx="1141.5" cy="320.4" rx="2.5" ry="2.0" fill="#aac891" opacity="0.75"/><ellipse cx="1116.2" cy="270.7" rx="1.7" ry="2.3" fill="#aac891" opacity="0.75"/><ellipse cx="1135.7" cy="396.4" rx="0.9" ry="1.0" fill="#aac891" opacity="0.75"/><ellipse cx="1087.0" cy="405.9" rx="2.2" ry="1.2" fill="#aac891" opacity="0.75"/><ellipse cx="1138.4" cy="342.8" rx="0.6" ry="2.1" fill="#aac891" opacity="0.75"/><ellipse cx="1135.3" cy="384.4" rx="2.5" ry="2.9" fill="#aac891" opacity="0.75"/><ellipse cx="1100.5" cy="273.4" rx="1.4" ry="2.4" fill="#aac891" opacity="0.75"/><ellipse cx="1137.7" cy="385.1" rx="0.6" ry="3.0" fill="#aac891" opacity="0.75"/><ellipse cx="1149.1" cy="352.5" rx="2.5" ry="3.1" fill="#aac891" opacity="0.75"/><ellipse cx="1102.2" cy="339.0" rx="1.6" ry="2.9" fill="#aac891" opacity="0.75"/><ellipse cx="1090.9" cy="276.4" rx="2.3" ry="1.1" fill="#aac891" opacity="0.75"/><ellipse cx="1129.7" cy="305.0" rx="0.8" ry="2.7" fill="#aac891" opacity="0.75"/><ellipse cx="1065.0" cy="319.6" rx="2.0" ry="1.7" fill="#aac891" opacity="0.75"/><ellipse cx="1087.3" cy="340.2" rx="2.0" ry="2.6" fill="#aac891" opacity="0.75"/><ellipse cx="1087.2" cy="346.8" rx="2.5" ry="1.6" fill="#aac891" opacity="0.75"/><ellipse cx="1123.5" cy="335.1" rx="1.8" ry="1.2" fill="#aac891" opacity="0.75"/><ellipse cx="1070.0" cy="379.7" rx="1.0" ry="2.9" fill="#aac891" opacity="0.75"/><ellipse cx="1144.4" cy="316.6" rx="1.9" ry="2.1" fill="#aac891" opacity="0.75"/><ellipse cx="1069.2" cy="405.5" rx="2.2" ry="1.8" fill="#aac891" opacity="0.75"/><ellipse cx="1106.0" cy="368.5" rx="1.5" ry="0.8" fill="#aac891" opacity="0.75"/><ellipse cx="1102.1" cy="393.8" rx="2.4" ry="2.8" fill="#aac891" opacity="0.75"/><ellipse cx="1116.8" cy="405.1" rx="0.8" ry="0.9" fill="#aac891" opacity="0.75"/><ellipse cx="1078.1" cy="287.4" rx="2.3" ry="1.2" fill="#aac891" opacity="0.75"/><ellipse cx="1133.4" cy="349.3" rx="0.9" ry="2.0" fill="#aac891" opacity="0.75"/><ellipse cx="1092.6" cy="358.9" rx="2.1" ry="2.5" fill="#aac891" opacity="0.75"/><ellipse cx="1070.4" cy="414.2" rx="0.9" ry="1.1" fill="#aac891" opacity="0.75"/><ellipse cx="1108.5" cy="291.8" rx="1.4" ry="1.7" fill="#aac891" opacity="0.75"/><ellipse cx="1110.3" cy="323.7" rx="1.8" ry="1.6" fill="#aac891" opacity="0.75"/><ellipse cx="1114.8" cy="404.0" rx="1.0" ry="2.8" fill="#aac891" opacity="0.75"/><ellipse cx="1119.6" cy="315.8" rx="2.3" ry="1.1" fill="#aac891" opacity="0.75"/><ellipse cx="1105.8" cy="346.3" rx="1.1" ry="2.3" fill="#aac891" opacity="0.75"/><ellipse cx="1088.2" cy="316.6" rx="1.8" ry="3.1" fill="#aac891" opacity="0.75"/><ellipse cx="1081.0" cy="323.7" rx="1.7" ry="2.1" fill="#aac891" opacity="0.75"/><ellipse cx="1106.6" cy="308.3" rx="0.8" ry="3.0" fill="#aac891" opacity="0.75"/><ellipse cx="1108.4" cy="281.4" rx="2.0" ry="2.4" fill="#aac891" opacity="0.75"/><ellipse cx="1119.5" cy="385.8" rx="0.8" ry="1.8" fill="#aac891" opacity="0.75"/><ellipse cx="1066.4" cy="374.0" rx="1.8" ry="1.2" fill="#aac891" opacity="0.75"/><ellipse cx="1082.1" cy="319.2" rx="2.1" ry="1.6" fill="#aac891" opacity="0.75"/><ellipse cx="1093.7" cy="313.9" rx="1.9" ry="1.1" fill="#aac891" opacity="0.75"/><ellipse cx="1062.4" cy="271.9" rx="2.4" ry="2.1" fill="#aac891" opacity="0.75"/><ellipse cx="1139.6" cy="369.0" rx="0.7" ry="2.0" fill="#aac891" opacity="0.75"/><ellipse cx="1078.7" cy="389.8" rx="2.0" ry="3.0" fill="#aac891" opacity="0.75"/><ellipse cx="1128.8" cy="401.8" rx="1.2" ry="1.6" fill="#aac891" opacity="0.75"/><ellipse cx="1085.9" cy="321.8" rx="1.3" ry="2.8" fill="#aac891" opacity="0.75"/><ellipse cx="1083.0" cy="275.2" rx="2.0" ry="1.6" fill="#aac891" opacity="0.75"/><ellipse cx="1135.6" cy="319.4" rx="1.2" ry="2.8" fill="#aac891" opacity="0.75"/><ellipse cx="1100.7" cy="304.3" rx="2.4" ry="1.4" fill="#aac891" opacity="0.75"/><ellipse cx="1132.8" cy="283.4" rx="1.6" ry="2.1" fill="#aac891" opacity="0.75"/><ellipse cx="1116.7" cy="372.3" rx="2.2" ry="1.8" fill="#aac891" opacity="0.75"/><ellipse cx="1143.3" cy="332.1" rx="1.4" ry="3.0" fill="#aac891" opacity="0.75"/><ellipse cx="1120.3" cy="333.8" rx="2.5" ry="3.0" fill="#aac891" opacity="0.75"/><ellipse cx="1117.0" cy="299.5" rx="2.0" ry="1.1" fill="#aac891" opacity="0.75"/><ellipse cx="1117.6" cy="414.8" rx="1.5" ry="1.0" fill="#aac891" opacity="0.75"/><ellipse cx="1071.0" cy="290.5" rx="0.8" ry="2.0" fill="#aac891" opacity="0.75"/><ellipse cx="1103.1" cy="300.2" rx="1.2" ry="2.0" fill="#aac891" opacity="0.75"/><ellipse cx="1069.7" cy="312.9" rx="1.1" ry="1.6" fill="#aac891" opacity="0.75"/><ellipse cx="1095.8" cy="404.9" rx="2.1" ry="3.0" fill="#aac891" opacity="0.75"/><ellipse cx="1081.4" cy="316.6" rx="1.3" ry="1.8" fill="#aac891" opacity="0.75"/><ellipse cx="1064.1" cy="349.7" rx="1.2" ry="2.8" fill="#aac891" opacity="0.75"/><ellipse cx="1118.3" cy="333.0" rx="1.1" ry="2.5" fill="#aac891" opacity="0.75"/><ellipse cx="1089.3" cy="284.8" rx="0.9" ry="2.0" fill="#aac891" opacity="0.75"/><ellipse cx="1120.2" cy="366.1" rx="2.1" ry="1.5" fill="#aac891" opacity="0.75"/><ellipse cx="1109.7" cy="414.6" rx="1.3" ry="2.3" fill="#aac891" opacity="0.75"/><ellipse cx="1141.7" cy="390.6" rx="2.5" ry="0.9" fill="#aac891" opacity="0.75"/><ellipse cx="1106.9" cy="352.6" rx="2.5" ry="2.8" fill="#aac891" opacity="0.75"/><ellipse cx="1076.8" cy="294.9" rx="2.2" ry="1.9" fill="#aac891" opacity="0.75"/><ellipse cx="1105.9" cy="398.5" rx="1.9" ry="1.8" fill="#aac891" opacity="0.75"/><ellipse cx="1103.6" cy="320.0" rx="2.3" ry="1.9" fill="#aac891" opacity="0.75"/><ellipse cx="1072.9" cy="389.1" rx="0.6" ry="2.8" fill="#aac891" opacity="0.75"/><ellipse cx="1061.0" cy="412.5" rx="0.9" ry="2.9" fill="#aac891" opacity="0.75"/><ellipse cx="1126.9" cy="291.7" rx="0.8" ry="0.9" fill="#aac891" opacity="0.75"/><ellipse cx="1114.4" cy="277.0" rx="2.0" ry="2.1" fill="#aac891" opacity="0.75"/><ellipse cx="1087.4" cy="409.7" rx="1.6" ry="1.4" fill="#aac891" opacity="0.75"/><ellipse cx="1063.8" cy="304.1" rx="1.9" ry="1.0" fill="#aac891" opacity="0.75"/><ellipse cx="1139.0" cy="334.8" rx="1.5" ry="2.9" fill="#aac891" opacity="0.75"/><ellipse cx="1068.8" cy="394.9" rx="2.3" ry="2.3" fill="#aac891" opacity="0.75"/><ellipse cx="1087.4" cy="331.2" rx="2.1" ry="0.9" fill="#aac891" opacity="0.75"/><ellipse cx="1075.7" cy="356.4" rx="0.8" ry="1.1" fill="#aac891" opacity="0.75"/><ellipse cx="1073.4" cy="271.5" rx="2.5" ry="2.1" fill="#aac891" opacity="0.75"/><ellipse cx="1139.8" cy="330.3" rx="0.7" ry="1.3" fill="#aac891" opacity="0.75"/><ellipse cx="1112.0" cy="386.6" rx="2.1" ry="2.5" fill="#aac891" opacity="0.75"/><ellipse cx="1072.6" cy="357.2" rx="2.1" ry="2.3" fill="#aac891" opacity="0.75"/><ellipse cx="1134.1" cy="376.1" rx="1.4" ry="1.1" fill="#aac891" opacity="0.75"/><ellipse cx="1128.7" cy="376.3" rx="2.3" ry="1.9" fill="#aac891" opacity="0.75"/><ellipse cx="1090.8" cy="265.1" rx="2.2" ry="1.5" fill="#aac891" opacity="0.75"/><ellipse cx="1062.5" cy="285.8" rx="0.6" ry="1.4" fill="#aac891" opacity="0.75"/><ellipse cx="1124.2" cy="288.1" rx="1.1" ry="1.9" fill="#aac891" opacity="0.75"/><ellipse cx="1105.8" cy="286.6" rx="1.7" ry="2.4" fill="#aac891" opacity="0.75"/><ellipse cx="1118.5" cy="356.7" rx="1.7" ry="2.1" fill="#aac891" opacity="0.75"/><ellipse cx="1074.1" cy="305.1" rx="1.7" ry="2.6" fill="#aac891" opacity="0.75"/><ellipse cx="1109.9" cy="417.9" rx="0.9" ry="1.0" fill="#aac891" opacity="0.75"/><ellipse cx="1090.0" cy="371.2" rx="1.6" ry="1.4" fill="#aac891" opacity="0.75"/><ellipse cx="1066.3" cy="408.6" rx="1.7" ry="2.7" fill="#aac891" opacity="0.75"/><ellipse cx="1093.0" cy="339.3" rx="2.4" ry="3.1" fill="#aac891" opacity="0.75"/><ellipse cx="1112.0" cy="408.5" rx="1.4" ry="1.3" fill="#aac891" opacity="0.75"/><ellipse cx="1079.7" cy="327.2" rx="2.4" ry="1.4" fill="#aac891" opacity="0.75"/><ellipse cx="1136.5" cy="293.6" rx="2.5" ry="2.4" fill="#aac891" opacity="0.75"/><ellipse cx="1124.2" cy="320.6" rx="1.4" ry="1.2" fill="#aac891" opacity="0.75"/><ellipse cx="1068.0" cy="298.6" rx="1.0" ry="2.0" fill="#aac891" opacity="0.75"/><ellipse cx="1136.0" cy="270.2" rx="1.7" ry="1.7" fill="#aac891" opacity="0.75"/><ellipse cx="1081.7" cy="376.5" rx="0.9" ry="1.0" fill="#aac891" opacity="0.75"/><ellipse cx="1105.9" cy="319.5" rx="1.6" ry="1.4" fill="#aac891" opacity="0.75"/><ellipse cx="1126.3" cy="410.3" rx="0.7" ry="2.1" fill="#aac891" opacity="0.75"/><ellipse cx="1074.7" cy="388.2" rx="1.6" ry="1.0" fill="#aac891" opacity="0.75"/><ellipse cx="1101.8" cy="310.5" rx="2.0" ry="2.0" fill="#aac891" opacity="0.75"/><ellipse cx="1075.9" cy="300.0" rx="1.7" ry="1.8" fill="#aac891" opacity="0.75"/><ellipse cx="1116.2" cy="307.1" rx="0.7" ry="1.3" fill="#aac891" opacity="0.75"/><ellipse cx="1135.6" cy="326.4" rx="1.1" ry="2.6" fill="#aac891" opacity="0.75"/><ellipse cx="1143.9" cy="371.4" rx="0.8" ry="1.4" fill="#aac891" opacity="0.75"/><ellipse cx="1133.1" cy="309.3" rx="0.8" ry="1.0" fill="#aac891" opacity="0.75"/><ellipse cx="1061.5" cy="289.1" rx="1.7" ry="1.9" fill="#aac891" opacity="0.75"/><ellipse cx="1080.5" cy="302.3" rx="2.0" ry="2.4" fill="#aac891" opacity="0.75"/><ellipse cx="1071.8" cy="395.7" rx="2.1" ry="1.2" fill="#aac891" opacity="0.75"/><ellipse cx="1072.0" cy="380.6" rx="0.7" ry="1.2" fill="#aac891" opacity="0.75"/><ellipse cx="1101.7" cy="291.5" rx="2.2" ry="0.8" fill="#aac891" opacity="0.75"/><ellipse cx="1084.4" cy="335.0" rx="1.4" ry="1.5" fill="#aac891" opacity="0.75"/><ellipse cx="1138.6" cy="322.9" rx="1.1" ry="1.4" fill="#aac891" opacity="0.75"/><ellipse cx="1119.7" cy="312.1" rx="1.3" ry="1.5" fill="#aac891" opacity="0.75"/><ellipse cx="1123.9" cy="352.2" rx="1.4" ry="2.9" fill="#aac891" opacity="0.75"/><ellipse cx="1135.6" cy="366.0" rx="2.5" ry="1.1" fill="#aac891" opacity="0.75"/><ellipse cx="1092.3" cy="353.6" rx="1.5" ry="3.1" fill="#aac891" opacity="0.75"/><ellipse cx="1099.7" cy="296.3" rx="1.0" ry="1.3" fill="#aac891" opacity="0.75"/><ellipse cx="1090.6" cy="314.0" rx="1.6" ry="1.6" fill="#aac891" opacity="0.75"/><ellipse cx="1071.8" cy="272.1" rx="2.2" ry="2.1" fill="#aac891" opacity="0.75"/><ellipse cx="1090.8" cy="328.5" rx="2.6" ry="2.9" fill="#aac891" opacity="0.75"/><ellipse cx="1127.0" cy="383.4" rx="1.9" ry="2.2" fill="#aac891" opacity="0.75"/><ellipse cx="1069.8" cy="302.1" rx="2.1" ry="2.8" fill="#aac891" opacity="0.75"/><ellipse cx="1061.9" cy="412.2" rx="0.7" ry="2.7" fill="#aac891" opacity="0.75"/><ellipse cx="1087.3" cy="332.1" rx="1.7" ry="2.2" fill="#aac891" opacity="0.75"/><ellipse cx="1084.9" cy="418.1" rx="2.0" ry="2.5" fill="#aac891" opacity="0.75"/><ellipse cx="1111.2" cy="292.6" rx="1.2" ry="3.1" fill="#aac891" opacity="0.75"/><ellipse cx="1147.1" cy="377.9" rx="1.0" ry="2.4" fill="#aac891" opacity="0.75"/><ellipse cx="1148.5" cy="269.6" rx="2.4" ry="2.0" fill="#aac891" opacity="0.75"/><ellipse cx="1124.5" cy="372.0" rx="1.1" ry="2.9" fill="#aac891" opacity="0.75"/><ellipse cx="1063.9" cy="347.7" rx="1.3" ry="2.3" fill="#aac891" opacity="0.75"/><ellipse cx="1123.4" cy="391.3" rx="1.4" ry="1.8" fill="#aac891" opacity="0.75"/><ellipse cx="1076.0" cy="299.4" rx="2.4" ry="2.5" fill="#aac891" opacity="0.75"/><ellipse cx="1075.3" cy="416.4" rx="0.9" ry="3.1" fill="#aac891" opacity="0.75"/><ellipse cx="1136.9" cy="419.4" rx="1.9" ry="1.5" fill="#aac891" opacity="0.75"/><ellipse cx="1063.6" cy="292.5" rx="1.4" ry="1.4" fill="#aac891" opacity="0.75"/><ellipse cx="1125.5" cy="293.1" rx="1.3" ry="1.3" fill="#aac891" opacity="0.75"/><ellipse cx="1143.5" cy="377.5" rx="1.0" ry="2.0" fill="#aac891" opacity="0.75"/><ellipse cx="1133.8" cy="352.4" rx="0.7" ry="1.0" fill="#aac891" opacity="0.75"/><ellipse cx="1088.7" cy="390.9" rx="0.9" ry="0.8" fill="#aac891" opacity="0.75"/><ellipse cx="1141.6" cy="404.1" rx="1.4" ry="3.0" fill="#aac891" opacity="0.75"/><ellipse cx="1103.4" cy="287.6" rx="2.2" ry="0.8" fill="#aac891" opacity="0.75"/><ellipse cx="1105.1" cy="322.0" rx="2.0" ry="3.1" fill="#aac891" opacity="0.75"/><ellipse cx="1121.7" cy="361.7" rx="1.2" ry="0.8" fill="#aac891" opacity="0.75"/><ellipse cx="1108.0" cy="333.6" rx="1.6" ry="2.6" fill="#aac891" opacity="0.75"/><ellipse cx="1070.4" cy="415.5" rx="2.5" ry="2.2" fill="#aac891" opacity="0.75"/><ellipse cx="1147.8" cy="306.4" rx="1.6" ry="1.6" fill="#aac891" opacity="0.75"/><ellipse cx="1074.9" cy="297.0" rx="1.2" ry="1.4" fill="#aac891" opacity="0.75"/><ellipse cx="1139.9" cy="283.0" rx="0.9" ry="0.9" fill="#aac891" opacity="0.75"/><ellipse cx="1064.4" cy="295.0" rx="2.4" ry="1.2" fill="#aac891" opacity="0.75"/><ellipse cx="1061.2" cy="416.3" rx="1.0" ry="0.9" fill="#aac891" opacity="0.75"/><ellipse cx="1145.2" cy="286.4" rx="1.9" ry="1.8" fill="#aac891" opacity="0.75"/><ellipse cx="1142.2" cy="368.3" rx="2.2" ry="2.8" fill="#aac891" opacity="0.75"/><ellipse cx="1100.6" cy="353.4" rx="0.7" ry="0.8" fill="#aac891" opacity="0.75"/><ellipse cx="1135.8" cy="361.8" rx="1.3" ry="1.2" fill="#aac891" opacity="0.75"/><ellipse cx="1131.9" cy="376.6" rx="0.9" ry="2.0" fill="#aac891" opacity="0.75"/><ellipse cx="1131.6" cy="404.2" rx="1.2" ry="1.6" fill="#aac891" opacity="0.75"/><ellipse cx="1097.5" cy="351.1" rx="0.8" ry="3.1" fill="#aac891" opacity="0.75"/><ellipse cx="1060.1" cy="340.7" rx="1.5" ry="2.6" fill="#aac891" opacity="0.75"/><ellipse cx="1146.3" cy="384.5" rx="2.0" ry="0.8" fill="#aac891" opacity="0.75"/><ellipse cx="1080.1" cy="375.8" rx="1.0" ry="2.2" fill="#aac891" opacity="0.75"/><ellipse cx="1087.5" cy="319.9" rx="2.0" ry="2.0" fill="#aac891" opacity="0.75"/><ellipse cx="1072.9" cy="279.1" rx="0.6" ry="2.5" fill="#aac891" opacity="0.75"/><ellipse cx="1106.6" cy="345.2" rx="0.7" ry="2.5" fill="#aac891" opacity="0.75"/><ellipse cx="1145.6" cy="399.0" rx="1.6" ry="0.9" fill="#aac891" opacity="0.75"/><ellipse cx="1086.4" cy="356.1" rx="0.7" ry="1.9" fill="#aac891" opacity="0.75"/><ellipse cx="1104.2" cy="308.6" rx="1.6" ry="2.9" fill="#aac891" opacity="0.75"/><ellipse cx="1141.1" cy="326.2" rx="1.8" ry="1.8" fill="#aac891" opacity="0.75"/><ellipse cx="1106.4" cy="371.4" rx="2.3" ry="1.4" fill="#aac891" opacity="0.75"/><ellipse cx="1089.9" cy="358.6" rx="2.6" ry="1.8" fill="#aac891" opacity="0.75"/><ellipse cx="1146.0" cy="332.3" rx="1.8" ry="2.1" fill="#aac891" opacity="0.75"/><ellipse cx="1149.6" cy="378.7" rx="1.2" ry="1.9" fill="#aac891" opacity="0.75"/><ellipse cx="1082.3" cy="341.0" rx="1.7" ry="1.6" fill="#aac891" opacity="0.75"/><ellipse cx="1074.6" cy="306.5" rx="0.6" ry="1.2" fill="#aac891" opacity="0.75"/><ellipse cx="1141.5" cy="417.4" rx="2.1" ry="2.6" fill="#aac891" opacity="0.75"/><ellipse cx="1093.5" cy="343.0" rx="2.3" ry="2.8" fill="#aac891" opacity="0.75"/><ellipse cx="1098.2" cy="344.9" rx="1.0" ry="2.4" fill="#aac891" opacity="0.75"/><ellipse cx="1077.2" cy="377.1" rx="0.9" ry="2.6" fill="#aac891" opacity="0.75"/><ellipse cx="1100.7" cy="362.0" rx="0.9" ry="2.0" fill="#aac891" opacity="0.75"/><ellipse cx="1095.0" cy="293.6" rx="0.7" ry="2.1" fill="#aac891" opacity="0.75"/><ellipse cx="1091.3" cy="282.3" rx="1.0" ry="1.9" fill="#aac891" opacity="0.75"/><ellipse cx="1146.9" cy="379.0" rx="1.6" ry="1.8" fill="#aac891" opacity="0.75"/><ellipse cx="1083.7" cy="412.4" rx="0.6" ry="2.7" fill="#aac891" opacity="0.75"/><ellipse cx="1074.0" cy="308.2" rx="2.1" ry="2.9" fill="#aac891" opacity="0.75"/><ellipse cx="1061.1" cy="395.0" rx="1.7" ry="2.5" fill="#aac891" opacity="0.75"/><ellipse cx="1095.6" cy="356.9" rx="1.6" ry="3.0" fill="#aac891" opacity="0.75"/><ellipse cx="1101.3" cy="374.8" rx="0.7" ry="1.2" fill="#aac891" opacity="0.75"/><ellipse cx="1079.5" cy="341.3" rx="1.2" ry="1.4" fill="#aac891" opacity="0.75"/><ellipse cx="1131.4" cy="395.9" rx="1.4" ry="2.0" fill="#aac891" opacity="0.75"/><ellipse cx="1127.1" cy="387.6" rx="1.4" ry="0.9" fill="#aac891" opacity="0.75"/><ellipse cx="1118.2" cy="266.6" rx="0.7" ry="2.6" fill="#aac891" opacity="0.75"/><ellipse cx="1136.4" cy="287.2" rx="2.4" ry="1.7" fill="#aac891" opacity="0.75"/><ellipse cx="1103.4" cy="284.2" rx="1.6" ry="1.4" fill="#aac891" opacity="0.75"/><ellipse cx="1065.0" cy="382.0" rx="1.7" ry="2.3" fill="#aac891" opacity="0.75"/><ellipse cx="1116.1" cy="274.7" rx="2.5" ry="1.7" fill="#aac891" opacity="0.75"/><ellipse cx="1104.5" cy="299.1" rx="1.2" ry="1.9" fill="#aac891" opacity="0.75"/><ellipse cx="1091.9" cy="288.3" rx="2.2" ry="2.5" fill="#aac891" opacity="0.75"/><ellipse cx="1141.7" cy="377.3" rx="0.7" ry="0.8" fill="#aac891" opacity="0.75"/><ellipse cx="1085.9" cy="391.0" rx="1.6" ry="2.3" fill="#aac891" opacity="0.75"/><ellipse cx="1060.5" cy="346.7" rx="1.3" ry="3.0" fill="#aac891" opacity="0.75"/><ellipse cx="1080.2" cy="305.6" rx="2.0" ry="2.5" fill="#aac891" opacity="0.75"/><ellipse cx="1103.1" cy="363.3" rx="0.7" ry="2.8" fill="#aac891" opacity="0.75"/><ellipse cx="1061.9" cy="365.4" rx="1.0" ry="2.3" fill="#aac891" opacity="0.75"/><ellipse cx="1072.8" cy="351.1" rx="2.4" ry="2.2" fill="#aac891" opacity="0.75"/><ellipse cx="1116.9" cy="367.9" rx="2.2" ry="2.7" fill="#aac891" opacity="0.75"/><ellipse cx="1062.5" cy="406.0" rx="1.9" ry="3.0" fill="#aac891" opacity="0.75"/><ellipse cx="1120.4" cy="319.2" rx="0.7" ry="1.2" fill="#aac891" opacity="0.75"/><ellipse cx="1109.4" cy="300.8" rx="1.9" ry="1.1" fill="#aac891" opacity="0.75"/><ellipse cx="1109.1" cy="415.0" rx="2.2" ry="2.3" fill="#aac891" opacity="0.75"/><ellipse cx="1122.9" cy="416.2" rx="1.3" ry="2.3" fill="#aac891" opacity="0.75"/><ellipse cx="1081.1" cy="294.9" rx="0.8" ry="2.1" fill="#aac891" opacity="0.75"/><ellipse cx="1068.1" cy="350.0" rx="1.7" ry="1.1" fill="#aac891" opacity="0.75"/><ellipse cx="1122.9" cy="313.0" rx="0.7" ry="2.5" fill="#aac891" opacity="0.75"/><ellipse cx="1086.3" cy="415.9" rx="2.2" ry="2.3" fill="#aac891" opacity="0.75"/><ellipse cx="1144.2" cy="336.7" rx="1.2" ry="1.4" fill="#aac891" opacity="0.75"/><ellipse cx="1084.1" cy="294.9" rx="1.9" ry="2.5" fill="#aac891" opacity="0.75"/><ellipse cx="1066.6" cy="309.3" rx="1.3" ry="0.9" fill="#aac891" opacity="0.75"/><ellipse cx="1148.2" cy="277.7" rx="0.6" ry="2.2" fill="#aac891" opacity="0.75"/><ellipse cx="1084.8" cy="308.8" rx="0.8" ry="1.7" fill="#aac891" opacity="0.75"/><ellipse cx="1101.0" cy="396.0" rx="1.5" ry="2.4" fill="#aac891" opacity="0.75"/><ellipse cx="1122.6" cy="418.0" rx="1.4" ry="1.9" fill="#aac891" opacity="0.75"/><ellipse cx="1068.5" cy="350.2" rx="2.3" ry="1.2" fill="#aac891" opacity="0.75"/><ellipse cx="1069.5" cy="286.0" rx="1.6" ry="2.4" fill="#aac891" opacity="0.75"/><ellipse cx="1139.1" cy="353.1" rx="1.9" ry="2.7" fill="#aac891" opacity="0.75"/><ellipse cx="1120.9" cy="418.9" rx="0.6" ry="1.6" fill="#aac891" opacity="0.75"/><ellipse cx="1146.7" cy="408.7" rx="1.4" ry="2.1" fill="#aac891" opacity="0.75"/><ellipse cx="1069.5" cy="336.3" rx="1.4" ry="1.4" fill="#aac891" opacity="0.75"/><ellipse cx="1070.0" cy="271.9" rx="1.3" ry="1.9" fill="#aac891" opacity="0.75"/><ellipse cx="1065.0" cy="417.3" rx="2.1" ry="2.9" fill="#aac891" opacity="0.75"/><ellipse cx="1109.5" cy="288.9" rx="1.9" ry="1.3" fill="#aac891" opacity="0.75"/><ellipse cx="1065.4" cy="270.8" rx="2.0" ry="1.2" fill="#aac891" opacity="0.75"/><ellipse cx="1072.9" cy="273.5" rx="0.7" ry="3.0" fill="#aac891" opacity="0.75"/><ellipse cx="1070.5" cy="364.6" rx="1.4" ry="0.9" fill="#aac891" opacity="0.75"/><ellipse cx="1085.9" cy="327.3" rx="2.3" ry="1.2" fill="#aac891" opacity="0.75"/><ellipse cx="1125.0" cy="278.6" rx="1.8" ry="2.8" fill="#aac891" opacity="0.75"/><ellipse cx="1070.7" cy="328.9" rx="1.1" ry="3.0" fill="#aac891" opacity="0.75"/><ellipse cx="1141.2" cy="418.6" rx="1.1" ry="1.9" fill="#aac891" opacity="0.75"/><ellipse cx="1145.2" cy="384.3" rx="0.7" ry="2.0" fill="#aac891" opacity="0.75"/><ellipse cx="1126.8" cy="337.3" rx="1.4" ry="2.9" fill="#aac891" opacity="0.75"/><ellipse cx="1125.2" cy="279.3" rx="2.5" ry="2.0" fill="#aac891" opacity="0.75"/><ellipse cx="1087.4" cy="353.9" rx="1.7" ry="2.6" fill="#aac891" opacity="0.75"/><ellipse cx="1099.8" cy="367.9" rx="1.2" ry="2.1" fill="#aac891" opacity="0.75"/><ellipse cx="1077.0" cy="290.7" rx="1.0" ry="3.1" fill="#aac891" opacity="0.75"/><ellipse cx="1078.8" cy="285.1" rx="2.5" ry="2.8" fill="#aac891" opacity="0.75"/><ellipse cx="1104.3" cy="388.0" rx="1.6" ry="2.1" fill="#aac891" opacity="0.75"/><ellipse cx="1093.0" cy="274.8" rx="2.4" ry="1.7" fill="#aac891" opacity="0.75"/><ellipse cx="1132.7" cy="366.3" rx="1.0" ry="2.0" fill="#aac891" opacity="0.75"/><ellipse cx="1107.3" cy="419.4" rx="1.1" ry="1.9" fill="#aac891" opacity="0.75"/><ellipse cx="1095.0" cy="288.9" rx="2.2" ry="1.1" fill="#aac891" opacity="0.75"/><ellipse cx="1128.0" cy="392.4" rx="1.6" ry="2.7" fill="#aac891" opacity="0.75"/><ellipse cx="1092.6" cy="281.0" rx="0.8" ry="2.9" fill="#aac891" opacity="0.75"/><ellipse cx="1074.2" cy="312.8" rx="0.8" ry="2.5" fill="#aac891" opacity="0.75"/><ellipse cx="1126.2" cy="274.7" rx="1.2" ry="2.0" fill="#aac891" opacity="0.75"/><ellipse cx="1087.0" cy="300.9" rx="1.9" ry="2.1" fill="#aac891" opacity="0.75"/><ellipse cx="1077.7" cy="384.7" rx="1.0" ry="2.7" fill="#aac891" opacity="0.75"/><ellipse cx="1124.9" cy="390.7" rx="2.4" ry="1.7" fill="#aac891" opacity="0.75"/><ellipse cx="1128.9" cy="371.2" rx="2.2" ry="1.8" fill="#aac891" opacity="0.75"/><ellipse cx="1105.7" cy="385.8" rx="2.3" ry="2.0" fill="#aac891" opacity="0.75"/><ellipse cx="1144.4" cy="390.2" rx="2.0" ry="2.2" fill="#aac891" opacity="0.75"/><ellipse cx="1131.7" cy="337.2" rx="2.5" ry="1.8" fill="#aac891" opacity="0.75"/><ellipse cx="1080.9" cy="355.4" rx="1.7" ry="2.6" fill="#aac891" opacity="0.75"/><ellipse cx="1095.6" cy="318.8" rx="2.6" ry="2.8" fill="#aac891" opacity="0.75"/><ellipse cx="1129.5" cy="367.1" rx="1.8" ry="2.1" fill="#aac891" opacity="0.75"/><ellipse cx="1091.5" cy="315.4" rx="1.9" ry="2.0" fill="#aac891" opacity="0.75"/><ellipse cx="1116.8" cy="343.0" rx="1.7" ry="1.5" fill="#aac891" opacity="0.75"/><ellipse cx="1080.0" cy="321.3" rx="1.0" ry="2.7" fill="#aac891" opacity="0.75"/><ellipse cx="1094.2" cy="284.6" rx="2.2" ry="1.2" fill="#aac891" opacity="0.75"/><ellipse cx="1083.6" cy="376.8" rx="1.8" ry="2.8" fill="#aac891" opacity="0.75"/><ellipse cx="1071.9" cy="417.1" rx="2.1" ry="1.6" fill="#aac891" opacity="0.75"/><ellipse cx="1126.7" cy="273.3" rx="1.1" ry="2.5" fill="#aac891" opacity="0.75"/><ellipse cx="1060.7" cy="296.8" rx="2.4" ry="1.8" fill="#aac891" opacity="0.75"/><ellipse cx="1122.1" cy="279.9" rx="0.9" ry="2.8" fill="#aac891" opacity="0.75"/><ellipse cx="1076.0" cy="369.8" rx="2.3" ry="1.6" fill="#aac891" opacity="0.75"/><ellipse cx="1143.9" cy="315.9" rx="1.7" ry="2.1" fill="#aac891" opacity="0.75"/><ellipse cx="1139.2" cy="273.9" rx="2.4" ry="2.0" fill="#aac891" opacity="0.75"/><ellipse cx="1137.2" cy="404.9" rx="0.6" ry="1.7" fill="#aac891" opacity="0.75"/><ellipse cx="1078.1" cy="338.4" rx="1.4" ry="1.1" fill="#aac891" opacity="0.75"/><ellipse cx="1098.8" cy="295.9" rx="0.7" ry="0.8" fill="#aac891" opacity="0.75"/><ellipse cx="1148.8" cy="408.4" rx="0.7" ry="1.0" fill="#aac891" opacity="0.75"/><ellipse cx="1115.8" cy="392.5" rx="1.1" ry="2.9" fill="#aac891" opacity="0.75"/><ellipse cx="1122.7" cy="405.5" rx="2.2" ry="2.5" fill="#aac891" opacity="0.75"/><ellipse cx="1062.6" cy="345.5" rx="2.0" ry="2.5" fill="#aac891" opacity="0.75"/><ellipse cx="1120.7" cy="272.4" rx="1.0" ry="1.8" fill="#aac891" opacity="0.75"/><ellipse cx="1091.6" cy="396.0" rx="2.5" ry="2.6" fill="#aac891" opacity="0.75"/><ellipse cx="1125.9" cy="340.9" rx="1.1" ry="1.9" fill="#aac891" opacity="0.75"/><ellipse cx="1110.3" cy="313.8" rx="2.0" ry="1.7" fill="#aac891" opacity="0.75"/><ellipse cx="1102.6" cy="330.4" rx="2.2" ry="1.0" fill="#aac891" opacity="0.75"/><ellipse cx="1109.9" cy="382.2" rx="1.2" ry="2.0" fill="#aac891" opacity="0.75"/><ellipse cx="1128.4" cy="292.3" rx="1.6" ry="0.9" fill="#aac891" opacity="0.75"/><ellipse cx="1072.5" cy="279.4" rx="2.2" ry="3.0" fill="#aac891" opacity="0.75"/><ellipse cx="1093.5" cy="386.1" rx="2.1" ry="1.8" fill="#aac891" opacity="0.75"/><ellipse cx="1076.3" cy="373.0" rx="2.6" ry="1.0" fill="#aac891" opacity="0.75"/><ellipse cx="1061.7" cy="276.7" rx="2.4" ry="2.8" fill="#aac891" opacity="0.75"/><ellipse cx="1086.4" cy="391.1" rx="0.6" ry="1.2" fill="#aac891" opacity="0.75"/><ellipse cx="1069.4" cy="321.9" rx="0.6" ry="2.3" fill="#aac891" opacity="0.75"/><ellipse cx="1092.9" cy="317.7" rx="1.8" ry="3.0" fill="#aac891" opacity="0.75"/><ellipse cx="1145.6" cy="279.4" rx="1.1" ry="2.7" fill="#aac891" opacity="0.75"/><ellipse cx="1090.4" cy="326.1" rx="2.1" ry="3.0" fill="#aac891" opacity="0.75"/><ellipse cx="1097.6" cy="379.0" rx="1.4" ry="1.9" fill="#aac891" opacity="0.75"/><ellipse cx="1109.9" cy="381.9" rx="1.3" ry="3.1" fill="#aac891" opacity="0.75"/><ellipse cx="1113.5" cy="321.0" rx="2.0" ry="2.6" fill="#aac891" opacity="0.75"/><ellipse cx="1135.3" cy="375.1" rx="1.4" ry="1.1" fill="#aac891" opacity="0.75"/><ellipse cx="1111.7" cy="369.5" rx="1.1" ry="2.1" fill="#aac891" opacity="0.75"/><ellipse cx="1105.3" cy="265.2" rx="1.6" ry="2.5" fill="#aac891" opacity="0.75"/><ellipse cx="1147.5" cy="336.1" rx="1.4" ry="1.5" fill="#aac891" opacity="0.75"/><ellipse cx="1139.3" cy="320.2" rx="2.4" ry="1.6" fill="#aac891" opacity="0.75"/><ellipse cx="1109.3" cy="270.9" rx="1.5" ry="0.9" fill="#aac891" opacity="0.75"/><ellipse cx="1085.2" cy="307.3" rx="1.5" ry="1.2" fill="#aac891" opacity="0.75"/><ellipse cx="1069.2" cy="288.2" rx="2.4" ry="3.1" fill="#aac891" opacity="0.75"/><ellipse cx="1070.5" cy="412.8" rx="1.5" ry="3.0" fill="#aac891" opacity="0.75"/><ellipse cx="1146.8" cy="296.2" rx="2.0" ry="2.0" fill="#aac891" opacity="0.75"/><ellipse cx="1129.7" cy="406.1" rx="1.7" ry="2.6" fill="#aac891" opacity="0.75"/><ellipse cx="1084.8" cy="293.2" rx="1.6" ry="0.8" fill="#aac891" opacity="0.75"/><ellipse cx="1112.8" cy="383.4" rx="1.5" ry="1.3" fill="#aac891" opacity="0.75"/><ellipse cx="1138.9" cy="305.8" rx="1.9" ry="3.1" fill="#aac891" opacity="0.75"/><ellipse cx="1075.0" cy="322.4" rx="1.2" ry="2.7" fill="#aac891" opacity="0.75"/><ellipse cx="1110.0" cy="360.3" rx="1.4" ry="3.1" fill="#aac891" opacity="0.75"/><ellipse cx="1087.5" cy="294.7" rx="1.3" ry="3.0" fill="#aac891" opacity="0.75"/><ellipse cx="1117.3" cy="322.0" rx="1.1" ry="1.0" fill="#aac891" opacity="0.75"/><ellipse cx="1084.4" cy="348.2" rx="2.3" ry="3.0" fill="#aac891" opacity="0.75"/><ellipse cx="1096.1" cy="368.2" rx="1.3" ry="1.5" fill="#aac891" opacity="0.75"/><ellipse cx="1077.2" cy="324.4" rx="1.0" ry="1.8" fill="#aac891" opacity="0.75"/><ellipse cx="1104.5" cy="409.2" rx="2.5" ry="2.4" fill="#aac891" opacity="0.75"/><ellipse cx="1143.3" cy="336.3" rx="0.7" ry="2.0" fill="#aac891" opacity="0.75"/><ellipse cx="1061.4" cy="338.5" rx="2.4" ry="1.7" fill="#aac891" opacity="0.75"/><ellipse cx="1144.0" cy="279.9" rx="0.8" ry="1.0" fill="#aac891" opacity="0.75"/><ellipse cx="1114.7" cy="327.7" rx="2.2" ry="1.5" fill="#aac891" opacity="0.75"/><ellipse cx="1025.6" cy="169.0" rx="1.4" ry="1.3" fill="#adc996" opacity="0.75"/><ellipse cx="1028.7" cy="159.2" rx="0.8" ry="2.1" fill="#adc996" opacity="0.75"/><ellipse cx="1034.4" cy="156.6" rx="0.8" ry="1.6" fill="#adc996" opacity="0.75"/><ellipse cx="948.3" cy="160.2" rx="2.2" ry="1.5" fill="#adc996" opacity="0.75"/><ellipse cx="1066.7" cy="134.9" rx="2.0" ry="1.0" fill="#adc996" opacity="0.75"/><ellipse cx="985.9" cy="132.7" rx="1.2" ry="1.8" fill="#adc996" opacity="0.75"/><ellipse cx="1000.0" cy="159.2" rx="1.9" ry="0.9" fill="#adc996" opacity="0.75"/><ellipse cx="937.5" cy="162.3" rx="1.9" ry="1.0" fill="#adc996" opacity="0.75"/><ellipse cx="1040.9" cy="163.5" rx="1.6" ry="1.5" fill="#adc996" opacity="0.75"/><ellipse cx="1038.3" cy="170.7" rx="1.5" ry="1.1" fill="#adc996" opacity="0.75"/><ellipse cx="1058.1" cy="143.8" rx="2.5" ry="0.9" fill="#adc996" opacity="0.75"/><ellipse cx="1016.9" cy="139.2" rx="1.0" ry="2.4" fill="#adc996" opacity="0.75"/><ellipse cx="1042.2" cy="147.8" rx="1.7" ry="2.6" fill="#adc996" opacity="0.75"/><ellipse cx="1052.2" cy="136.3" rx="2.3" ry="2.1" fill="#adc996" opacity="0.75"/><ellipse cx="1035.1" cy="170.5" rx="0.6" ry="2.3" fill="#adc996" opacity="0.75"/><ellipse cx="942.9" cy="149.6" rx="1.3" ry="2.1" fill="#adc996" opacity="0.75"/><ellipse cx="1026.1" cy="152.7" rx="1.4" ry="1.8" fill="#adc996" opacity="0.75"/><ellipse cx="947.9" cy="160.1" rx="0.8" ry="1.2" fill="#adc996" opacity="0.75"/><ellipse cx="964.7" cy="150.2" rx="1.2" ry="0.8" fill="#adc996" opacity="0.75"/><ellipse cx="947.9" cy="144.4" rx="2.4" ry="2.8" fill="#adc996" opacity="0.75"/><ellipse cx="967.2" cy="169.1" rx="0.8" ry="0.8" fill="#adc996" opacity="0.75"/><ellipse cx="938.4" cy="143.7" rx="2.2" ry="2.7" fill="#adc996" opacity="0.75"/><ellipse cx="960.4" cy="130.1" rx="0.9" ry="1.5" fill="#adc996" opacity="0.75"/><ellipse cx="981.5" cy="149.9" rx="1.4" ry="2.6" fill="#adc996" opacity="0.75"/><ellipse cx="990.7" cy="149.4" rx="2.6" ry="2.2" fill="#adc996" opacity="0.75"/><ellipse cx="938.6" cy="156.2" rx="0.9" ry="1.1" fill="#adc996" opacity="0.75"/><ellipse cx="985.7" cy="165.4" rx="1.3" ry="2.1" fill="#adc996" opacity="0.75"/><ellipse cx="973.1" cy="159.9" rx="1.3" ry="2.6" fill="#adc996" opacity="0.75"/><ellipse cx="1011.7" cy="152.0" rx="1.8" ry="0.8" fill="#adc996" opacity="0.75"/><ellipse cx="1009.6" cy="170.2" rx="1.1" ry="2.9" fill="#adc996" opacity="0.75"/><ellipse cx="981.2" cy="147.6" rx="2.1" ry="2.5" fill="#adc996" opacity="0.75"/><ellipse cx="969.5" cy="146.9" rx="2.6" ry="2.5" fill="#adc996" opacity="0.75"/><ellipse cx="1041.2" cy="168.9" rx="1.4" ry="1.2" fill="#adc996" opacity="0.75"/><ellipse cx="1063.1" cy="135.0" rx="2.2" ry="2.4" fill="#adc996" opacity="0.75"/><ellipse cx="1018.4" cy="161.1" rx="1.2" ry="2.6" fill="#adc996" opacity="0.75"/><ellipse cx="955.0" cy="157.0" rx="1.0" ry="2.7" fill="#adc996" opacity="0.75"/><ellipse cx="1045.2" cy="156.1" rx="2.4" ry="1.9" fill="#adc996" opacity="0.75"/><ellipse cx="972.1" cy="162.2" rx="0.7" ry="2.7" fill="#adc996" opacity="0.75"/><ellipse cx="1063.7" cy="130.7" rx="1.1" ry="3.0" fill="#adc996" opacity="0.75"/><ellipse cx="989.6" cy="157.6" rx="0.8" ry="2.5" fill="#adc996" opacity="0.75"/><ellipse cx="944.2" cy="171.5" rx="0.7" ry="1.8" fill="#adc996" opacity="0.75"/><ellipse cx="977.3" cy="129.4" rx="2.0" ry="2.8" fill="#adc996" opacity="0.75"/><ellipse cx="979.5" cy="130.8" rx="0.6" ry="1.1" fill="#adc996" opacity="0.75"/><ellipse cx="950.4" cy="163.0" rx="1.0" ry="1.7" fill="#adc996" opacity="0.75"/><ellipse cx="950.9" cy="155.2" rx="2.0" ry="2.2" fill="#adc996" opacity="0.75"/><ellipse cx="985.0" cy="157.0" rx="1.1" ry="2.7" fill="#adc996" opacity="0.75"/><ellipse cx="1053.3" cy="139.5" rx="1.0" ry="1.1" fill="#adc996" opacity="0.75"/><ellipse cx="991.6" cy="163.9" rx="1.5" ry="1.0" fill="#adc996" opacity="0.75"/><ellipse cx="1018.4" cy="160.1" rx="2.2" ry="1.3" fill="#adc996" opacity="0.75"/><ellipse cx="997.1" cy="163.0" rx="1.5" ry="1.3" fill="#adc996" opacity="0.75"/><ellipse cx="944.1" cy="124.6" rx="1.1" ry="1.9" fill="#adc996" opacity="0.75"/><ellipse cx="1043.0" cy="131.2" rx="2.5" ry="1.6" fill="#adc996" opacity="0.75"/><ellipse cx="1066.8" cy="148.6" rx="0.6" ry="2.0" fill="#adc996" opacity="0.75"/><ellipse cx="1021.7" cy="145.9" rx="2.6" ry="1.9" fill="#adc996" opacity="0.75"/><ellipse cx="971.0" cy="125.9" rx="1.9" ry="2.1" fill="#adc996" opacity="0.75"/><ellipse cx="989.4" cy="147.7" rx="2.4" ry="1.0" fill="#adc996" opacity="0.75"/><ellipse cx="1001.1" cy="136.3" rx="2.3" ry="1.9" fill="#adc996" opacity="0.75"/><ellipse cx="972.6" cy="169.7" rx="0.7" ry="0.8" fill="#adc996" opacity="0.75"/><ellipse cx="997.2" cy="125.8" rx="2.4" ry="2.2" fill="#adc996" opacity="0.75"/><ellipse cx="969.5" cy="172.1" rx="2.3" ry="1.4" fill="#adc996" opacity="0.75"/><ellipse cx="938.8" cy="135.0" rx="1.9" ry="1.5" fill="#adc996" opacity="0.75"/><ellipse cx="992.9" cy="125.4" rx="2.5" ry="3.0" fill="#adc996" opacity="0.75"/><ellipse cx="1034.4" cy="171.6" rx="0.9" ry="2.7" fill="#adc996" opacity="0.75"/><ellipse cx="1041.0" cy="135.0" rx="1.0" ry="2.5" fill="#adc996" opacity="0.75"/><ellipse cx="1011.6" cy="132.3" rx="1.6" ry="2.8" fill="#adc996" opacity="0.75"/><ellipse cx="992.8" cy="134.8" rx="2.5" ry="2.7" fill="#adc996" opacity="0.75"/><ellipse cx="1008.2" cy="156.4" rx="0.9" ry="2.5" fill="#adc996" opacity="0.75"/><ellipse cx="1053.0" cy="130.8" rx="1.9" ry="3.0" fill="#adc996" opacity="0.75"/><ellipse cx="1054.1" cy="140.8" rx="2.5" ry="2.4" fill="#adc996" opacity="0.75"/><ellipse cx="1064.2" cy="153.9" rx="1.7" ry="1.6" fill="#adc996" opacity="0.75"/><ellipse cx="942.6" cy="134.2" rx="2.5" ry="1.9" fill="#adc996" opacity="0.75"/><ellipse cx="969.4" cy="153.2" rx="0.9" ry="1.0" fill="#adc996" opacity="0.75"/><ellipse cx="1019.8" cy="167.2" rx="1.7" ry="1.0" fill="#adc996" opacity="0.75"/><ellipse cx="1018.8" cy="145.7" rx="2.3" ry="0.9" fill="#adc996" opacity="0.75"/><ellipse cx="968.3" cy="172.3" rx="0.7" ry="3.1" fill="#adc996" opacity="0.75"/><ellipse cx="1041.5" cy="171.3" rx="0.8" ry="2.0" fill="#adc996" opacity="0.75"/><ellipse cx="979.9" cy="136.3" rx="1.8" ry="1.8" fill="#adc996" opacity="0.75"/><ellipse cx="937.5" cy="166.9" rx="2.5" ry="1.7" fill="#adc996" opacity="0.75"/><ellipse cx="1002.5" cy="136.2" rx="1.2" ry="1.6" fill="#adc996" opacity="0.75"/><ellipse cx="1000.3" cy="146.0" rx="1.0" ry="1.1" fill="#adc996" opacity="0.75"/><ellipse cx="959.5" cy="156.5" rx="0.9" ry="2.0" fill="#adc996" opacity="0.75"/><ellipse cx="1042.7" cy="127.1" rx="2.4" ry="2.0" fill="#adc996" opacity="0.75"/><ellipse cx="992.2" cy="133.7" rx="0.6" ry="2.3" fill="#adc996" opacity="0.75"/><ellipse cx="995.6" cy="162.1" rx="1.2" ry="1.3" fill="#adc996" opacity="0.75"/><ellipse cx="991.2" cy="140.0" rx="1.2" ry="1.1" fill="#adc996" opacity="0.75"/><ellipse cx="942.8" cy="153.9" rx="0.6" ry="0.8" fill="#adc996" opacity="0.75"/><ellipse cx="986.0" cy="148.5" rx="2.2" ry="1.1" fill="#adc996" opacity="0.75"/><ellipse cx="989.6" cy="143.9" rx="2.0" ry="1.2" fill="#adc996" opacity="0.75"/><ellipse cx="980.7" cy="164.8" rx="2.2" ry="1.3" fill="#adc996" opacity="0.75"/><ellipse cx="1017.0" cy="152.3" rx="1.2" ry="2.0" fill="#adc996" opacity="0.75"/><ellipse cx="1033.8" cy="138.8" rx="0.7" ry="2.2" fill="#adc996" opacity="0.75"/><ellipse cx="1036.9" cy="154.5" rx="2.0" ry="2.1" fill="#adc996" opacity="0.75"/><ellipse cx="984.2" cy="143.5" rx="2.1" ry="2.6" fill="#adc996" opacity="0.75"/><ellipse cx="1053.7" cy="135.3" rx="0.7" ry="1.1" fill="#adc996" opacity="0.75"/><ellipse cx="1035.3" cy="137.2" rx="1.3" ry="2.3" fill="#adc996" opacity="0.75"/><ellipse cx="1000.6" cy="153.6" rx="1.2" ry="1.3" fill="#adc996" opacity="0.75"/><ellipse cx="1015.0" cy="128.2" rx="2.5" ry="1.0" fill="#adc996" opacity="0.75"/><ellipse cx="972.0" cy="168.7" rx="1.4" ry="1.9" fill="#adc996" opacity="0.75"/><ellipse cx="1056.7" cy="151.3" rx="2.6" ry="2.6" fill="#adc996" opacity="0.75"/><ellipse cx="1055.1" cy="160.3" rx="1.6" ry="1.6" fill="#adc996" opacity="0.75"/><ellipse cx="988.0" cy="168.2" rx="2.2" ry="3.1" fill="#adc996" opacity="0.75"/><ellipse cx="1036.9" cy="174.4" rx="1.9" ry="0.9" fill="#adc996" opacity="0.75"/><ellipse cx="1066.4" cy="155.4" rx="0.9" ry="3.0" fill="#adc996" opacity="0.75"/><ellipse cx="989.3" cy="141.4" rx="1.7" ry="1.1" fill="#adc996" opacity="0.75"/><ellipse cx="968.3" cy="153.4" rx="2.5" ry="2.0" fill="#adc996" opacity="0.75"/><ellipse cx="977.1" cy="161.8" rx="1.8" ry="2.5" fill="#adc996" opacity="0.75"/><ellipse cx="1006.1" cy="143.9" rx="0.7" ry="1.8" fill="#adc996" opacity="0.75"/><ellipse cx="1022.0" cy="162.2" rx="1.2" ry="3.0" fill="#adc996" opacity="0.75"/><ellipse cx="938.7" cy="145.2" rx="1.0" ry="1.1" fill="#adc996" opacity="0.75"/><ellipse cx="999.5" cy="159.9" rx="0.9" ry="2.1" fill="#adc996" opacity="0.75"/><ellipse cx="1056.6" cy="133.6" rx="0.7" ry="2.7" fill="#adc996" opacity="0.75"/><ellipse cx="983.1" cy="133.9" rx="0.9" ry="2.1" fill="#adc996" opacity="0.75"/><ellipse cx="982.4" cy="138.6" rx="1.7" ry="1.0" fill="#adc996" opacity="0.75"/><ellipse cx="971.4" cy="160.1" rx="1.7" ry="1.6" fill="#adc996" opacity="0.75"/><ellipse cx="990.5" cy="133.1" rx="1.0" ry="3.1" fill="#adc996" opacity="0.75"/><ellipse cx="983.4" cy="152.6" rx="1.7" ry="2.2" fill="#adc996" opacity="0.75"/><ellipse cx="1034.0" cy="157.1" rx="1.6" ry="1.5" fill="#adc996" opacity="0.75"/><ellipse cx="1017.7" cy="125.6" rx="2.5" ry="1.4" fill="#adc996" opacity="0.75"/><ellipse cx="985.3" cy="148.9" rx="2.2" ry="2.6" fill="#adc996" opacity="0.75"/><ellipse cx="985.7" cy="140.1" rx="1.8" ry="1.7" fill="#adc996" opacity="0.75"/><ellipse cx="995.8" cy="150.5" rx="0.7" ry="1.8" fill="#adc996" opacity="0.75"/><ellipse cx="1059.1" cy="139.0" rx="1.3" ry="2.1" fill="#adc996" opacity="0.75"/><ellipse cx="1023.3" cy="152.3" rx="0.8" ry="0.9" fill="#adc996" opacity="0.75"/><ellipse cx="953.4" cy="127.1" rx="1.1" ry="1.0" fill="#adc996" opacity="0.75"/><ellipse cx="1060.8" cy="143.8" rx="1.7" ry="1.9" fill="#adc996" opacity="0.75"/><ellipse cx="1025.5" cy="134.0" rx="1.7" ry="2.8" fill="#adc996" opacity="0.75"/><ellipse cx="988.1" cy="126.1" rx="1.8" ry="2.2" fill="#adc996" opacity="0.75"/><ellipse cx="1023.3" cy="163.8" rx="1.6" ry="1.7" fill="#adc996" opacity="0.75"/><ellipse cx="1065.8" cy="148.2" rx="1.1" ry="2.0" fill="#adc996" opacity="0.75"/><ellipse cx="1033.6" cy="152.7" rx="1.7" ry="0.9" fill="#adc996" opacity="0.75"/><ellipse cx="1062.8" cy="164.3" rx="0.7" ry="1.8" fill="#adc996" opacity="0.75"/><ellipse cx="937.9" cy="152.1" rx="2.3" ry="2.1" fill="#adc996" opacity="0.75"/><ellipse cx="970.7" cy="160.7" rx="2.0" ry="2.8" fill="#adc996" opacity="0.75"/><ellipse cx="1036.4" cy="168.2" rx="2.1" ry="1.1" fill="#adc996" opacity="0.75"/><ellipse cx="996.1" cy="158.5" rx="2.2" ry="2.8" fill="#adc996" opacity="0.75"/><ellipse cx="1015.6" cy="136.6" rx="2.2" ry="1.2" fill="#adc996" opacity="0.75"/><ellipse cx="1014.6" cy="170.8" rx="1.4" ry="2.3" fill="#adc996" opacity="0.75"/><ellipse cx="964.2" cy="158.5" rx="1.2" ry="2.6" fill="#adc996" opacity="0.75"/><ellipse cx="1056.1" cy="135.6" rx="2.0" ry="2.7" fill="#adc996" opacity="0.75"/><ellipse cx="1049.8" cy="172.9" rx="1.2" ry="2.7" fill="#adc996" opacity="0.75"/><ellipse cx="1043.4" cy="139.2" rx="2.0" ry="2.1" fill="#adc996" opacity="0.75"/><ellipse cx="1004.4" cy="125.4" rx="1.3" ry="2.4" fill="#adc996" opacity="0.75"/><ellipse cx="1059.8" cy="173.3" rx="1.4" ry="1.5" fill="#adc996" opacity="0.75"/><ellipse cx="1028.6" cy="169.1" rx="0.6" ry="3.0" fill="#adc996" opacity="0.75"/><ellipse cx="995.1" cy="169.0" rx="0.7" ry="2.3" fill="#adc996" opacity="0.75"/><ellipse cx="1041.8" cy="157.4" rx="2.5" ry="1.5" fill="#adc996" opacity="0.75"/><ellipse cx="961.1" cy="171.1" rx="1.4" ry="2.6" fill="#adc996" opacity="0.75"/><ellipse cx="998.6" cy="139.9" rx="1.9" ry="1.6" fill="#adc996" opacity="0.75"/><ellipse cx="1029.3" cy="139.0" rx="0.6" ry="2.9" fill="#adc996" opacity="0.75"/><ellipse cx="998.4" cy="154.3" rx="2.1" ry="1.1" fill="#adc996" opacity="0.75"/><ellipse cx="1004.8" cy="145.8" rx="1.3" ry="1.6" fill="#adc996" opacity="0.75"/><ellipse cx="1006.7" cy="127.9" rx="2.2" ry="2.5" fill="#adc996" opacity="0.75"/><ellipse cx="1018.7" cy="146.3" rx="0.7" ry="1.3" fill="#adc996" opacity="0.75"/><ellipse cx="1048.0" cy="132.2" rx="2.5" ry="0.8" fill="#adc996" opacity="0.75"/><ellipse cx="1063.3" cy="171.6" rx="0.8" ry="2.9" fill="#adc996" opacity="0.75"/><ellipse cx="993.1" cy="136.9" rx="2.5" ry="1.0" fill="#adc996" opacity="0.75"/><ellipse cx="987.6" cy="141.2" rx="2.5" ry="1.6" fill="#adc996" opacity="0.75"/><ellipse cx="1025.1" cy="129.8" rx="1.0" ry="1.2" fill="#adc996" opacity="0.75"/><ellipse cx="1023.1" cy="167.9" rx="1.6" ry="1.3" fill="#adc996" opacity="0.75"/><ellipse cx="1007.3" cy="145.2" rx="0.8" ry="1.0" fill="#adc996" opacity="0.75"/><ellipse cx="984.6" cy="133.1" rx="2.2" ry="1.5" fill="#adc996" opacity="0.75"/><ellipse cx="1009.8" cy="129.6" rx="0.8" ry="1.2" fill="#adc996" opacity="0.75"/><ellipse cx="1038.8" cy="174.1" rx="1.8" ry="2.8" fill="#adc996" opacity="0.75"/><ellipse cx="1025.7" cy="156.1" rx="2.5" ry="1.6" fill="#adc996" opacity="0.75"/><ellipse cx="1010.7" cy="130.1" rx="1.2" ry="2.1" fill="#adc996" opacity="0.75"/><ellipse cx="1009.1" cy="154.1" rx="2.0" ry="2.0" fill="#adc996" opacity="0.75"/><ellipse cx="981.8" cy="129.3" rx="2.1" ry="1.9" fill="#adc996" opacity="0.75"/><ellipse cx="1049.2" cy="174.1" rx="2.4" ry="1.3" fill="#adc996" opacity="0.75"/><ellipse cx="981.9" cy="169.6" rx="2.1" ry="1.5" fill="#adc996" opacity="0.75"/><ellipse cx="975.4" cy="172.4" rx="1.4" ry="1.2" fill="#adc996" opacity="0.75"/><ellipse cx="1001.2" cy="130.4" rx="1.3" ry="3.1" fill="#adc996" opacity="0.75"/><ellipse cx="1056.8" cy="129.6" rx="0.6" ry="2.5" fill="#adc996" opacity="0.75"/><ellipse cx="982.2" cy="148.8" rx="2.4" ry="2.7" fill="#adc996" opacity="0.75"/><ellipse cx="1061.8" cy="149.4" rx="0.9" ry="2.7" fill="#adc996" opacity="0.75"/><ellipse cx="958.1" cy="152.1" rx="2.4" ry="3.0" fill="#adc996" opacity="0.75"/><ellipse cx="1027.3" cy="149.6" rx="2.5" ry="1.0" fill="#adc996" opacity="0.75"/><ellipse cx="984.3" cy="174.1" rx="2.5" ry="1.8" fill="#adc996" opacity="0.75"/><ellipse cx="983.9" cy="168.8" rx="2.4" ry="1.9" fill="#adc996" opacity="0.75"/><ellipse cx="946.8" cy="161.8" rx="1.6" ry="1.6" fill="#adc996" opacity="0.75"/><ellipse cx="980.4" cy="150.5" rx="1.5" ry="2.6" fill="#adc996" opacity="0.75"/><ellipse cx="967.1" cy="129.7" rx="1.6" ry="1.3" fill="#adc996" opacity="0.75"/><ellipse cx="990.5" cy="131.9" rx="1.1" ry="1.3" fill="#adc996" opacity="0.75"/><ellipse cx="1024.2" cy="130.6" rx="0.7" ry="2.2" fill="#adc996" opacity="0.75"/><ellipse cx="1016.9" cy="167.0" rx="1.0" ry="1.3" fill="#adc996" opacity="0.75"/><ellipse cx="953.5" cy="148.1" rx="2.1" ry="2.4" fill="#adc996" opacity="0.75"/><ellipse cx="1064.4" cy="173.6" rx="1.9" ry="1.9" fill="#adc996" opacity="0.75"/><ellipse cx="970.2" cy="128.6" rx="1.1" ry="0.9" fill="#adc996" opacity="0.75"/><ellipse cx="1066.8" cy="143.7" rx="1.5" ry="1.8" fill="#adc996" opacity="0.75"/><ellipse cx="943.3" cy="150.1" rx="2.5" ry="2.3" fill="#adc996" opacity="0.75"/><ellipse cx="985.3" cy="150.7" rx="2.1" ry="1.4" fill="#adc996" opacity="0.75"/><ellipse cx="975.5" cy="168.0" rx="2.3" ry="2.5" fill="#adc996" opacity="0.75"/><ellipse cx="1043.3" cy="174.0" rx="1.7" ry="1.2" fill="#adc996" opacity="0.75"/><ellipse cx="1012.3" cy="170.2" rx="1.8" ry="0.9" fill="#adc996" opacity="0.75"/><ellipse cx="1028.6" cy="160.8" rx="0.8" ry="3.1" fill="#adc996" opacity="0.75"/><ellipse cx="1004.4" cy="173.9" rx="1.4" ry="2.0" fill="#adc996" opacity="0.75"/><ellipse cx="970.7" cy="129.0" rx="1.8" ry="1.2" fill="#adc996" opacity="0.75"/><ellipse cx="1066.3" cy="144.1" rx="2.3" ry="1.3" fill="#adc996" opacity="0.75"/><ellipse cx="939.3" cy="127.3" rx="1.7" ry="2.7" fill="#adc996" opacity="0.75"/><ellipse cx="1022.4" cy="131.6" rx="2.1" ry="2.0" fill="#adc996" opacity="0.75"/><ellipse cx="995.4" cy="156.9" rx="1.9" ry="1.6" fill="#adc996" opacity="0.75"/><ellipse cx="980.1" cy="146.3" rx="1.8" ry="1.7" fill="#adc996" opacity="0.75"/><ellipse cx="960.7" cy="165.9" rx="2.6" ry="3.0" fill="#adc996" opacity="0.75"/><ellipse cx="941.1" cy="133.7" rx="2.4" ry="0.8" fill="#adc996" opacity="0.75"/><ellipse cx="950.9" cy="135.7" rx="0.9" ry="2.9" fill="#adc996" opacity="0.75"/><ellipse cx="989.8" cy="143.4" rx="1.5" ry="1.5" fill="#adc996" opacity="0.75"/><ellipse cx="983.8" cy="140.0" rx="1.5" ry="2.3" fill="#adc996" opacity="0.75"/><ellipse cx="1055.5" cy="142.3" rx="2.1" ry="2.4" fill="#adc996" opacity="0.75"/><ellipse cx="1046.2" cy="134.7" rx="1.0" ry="1.0" fill="#adc996" opacity="0.75"/><ellipse cx="986.8" cy="160.8" rx="2.5" ry="2.3" fill="#adc996" opacity="0.75"/><ellipse cx="1044.2" cy="170.8" rx="1.2" ry="2.2" fill="#adc996" opacity="0.75"/><ellipse cx="1062.5" cy="141.0" rx="0.9" ry="2.3" fill="#adc996" opacity="0.75"/><ellipse cx="975.9" cy="153.3" rx="2.5" ry="2.2" fill="#adc996" opacity="0.75"/><ellipse cx="945.1" cy="143.1" rx="2.2" ry="1.8" fill="#adc996" opacity="0.75"/><ellipse cx="1001.1" cy="174.5" rx="1.1" ry="2.4" fill="#adc996" opacity="0.75"/><ellipse cx="1049.8" cy="162.7" rx="1.9" ry="3.1" fill="#adc996" opacity="0.75"/><ellipse cx="1026.3" cy="141.6" rx="1.1" ry="2.0" fill="#adc996" opacity="0.75"/><ellipse cx="1025.2" cy="173.1" rx="2.1" ry="2.7" fill="#adc996" opacity="0.75"/><ellipse cx="979.3" cy="168.0" rx="1.4" ry="0.9" fill="#adc996" opacity="0.75"/><ellipse cx="957.3" cy="145.8" rx="2.4" ry="2.2" fill="#adc996" opacity="0.75"/><ellipse cx="1058.3" cy="167.1" rx="1.4" ry="2.9" fill="#adc996" opacity="0.75"/><ellipse cx="978.4" cy="166.4" rx="1.9" ry="1.0" fill="#adc996" opacity="0.75"/><ellipse cx="995.4" cy="171.5" rx="0.9" ry="1.3" fill="#adc996" opacity="0.75"/><ellipse cx="1004.5" cy="134.0" rx="2.1" ry="3.0" fill="#adc996" opacity="0.75"/><ellipse cx="1018.3" cy="133.6" rx="0.7" ry="2.4" fill="#adc996" opacity="0.75"/><ellipse cx="1001.8" cy="161.3" rx="0.9" ry="2.2" fill="#adc996" opacity="0.75"/><ellipse cx="1013.0" cy="149.0" rx="1.2" ry="1.8" fill="#adc996" opacity="0.75"/><ellipse cx="1024.7" cy="172.0" rx="0.7" ry="2.3" fill="#adc996" opacity="0.75"/><ellipse cx="969.9" cy="173.1" rx="2.6" ry="1.0" fill="#adc996" opacity="0.75"/><ellipse cx="1039.6" cy="153.7" rx="1.5" ry="2.0" fill="#adc996" opacity="0.75"/><ellipse cx="981.5" cy="167.7" rx="1.0" ry="2.1" fill="#adc996" opacity="0.75"/><ellipse cx="943.9" cy="140.3" rx="1.8" ry="2.9" fill="#adc996" opacity="0.75"/><ellipse cx="1052.3" cy="171.9" rx="0.7" ry="1.7" fill="#adc996" opacity="0.75"/><ellipse cx="991.4" cy="130.2" rx="2.0" ry="1.3" fill="#adc996" opacity="0.75"/><ellipse cx="1017.8" cy="152.0" rx="1.2" ry="3.1" fill="#adc996" opacity="0.75"/><ellipse cx="1046.0" cy="171.5" rx="2.3" ry="1.2" fill="#adc996" opacity="0.75"/><ellipse cx="1036.5" cy="169.0" rx="1.3" ry="2.8" fill="#adc996" opacity="0.75"/><ellipse cx="1008.6" cy="168.3" rx="0.8" ry="1.9" fill="#adc996" opacity="0.75"/><ellipse cx="1045.2" cy="157.1" rx="0.7" ry="2.8" fill="#adc996" opacity="0.75"/><ellipse cx="1008.9" cy="166.4" rx="2.6" ry="1.1" fill="#adc996" opacity="0.75"/><ellipse cx="1043.9" cy="134.7" rx="0.7" ry="2.7" fill="#adc996" opacity="0.75"/><ellipse cx="989.0" cy="159.9" rx="2.2" ry="1.3" fill="#adc996" opacity="0.75"/><ellipse cx="1018.5" cy="169.5" rx="1.3" ry="1.4" fill="#adc996" opacity="0.75"/><ellipse cx="988.2" cy="173.4" rx="0.8" ry="2.5" fill="#adc996" opacity="0.75"/><ellipse cx="941.0" cy="168.6" rx="1.1" ry="1.0" fill="#adc996" opacity="0.75"/><ellipse cx="980.5" cy="124.0" rx="1.1" ry="2.2" fill="#adc996" opacity="0.75"/><ellipse cx="953.4" cy="164.6" rx="0.9" ry="1.4" fill="#adc996" opacity="0.75"/><ellipse cx="951.3" cy="136.5" rx="1.0" ry="2.1" fill="#adc996" opacity="0.75"/><ellipse cx="1020.2" cy="127.3" rx="1.0" ry="2.9" fill="#adc996" opacity="0.75"/><ellipse cx="981.5" cy="160.4" rx="1.1" ry="1.2" fill="#adc996" opacity="0.75"/><ellipse cx="1025.2" cy="173.9" rx="2.0" ry="1.3" fill="#adc996" opacity="0.75"/><ellipse cx="1026.6" cy="156.4" rx="2.0" ry="2.0" fill="#adc996" opacity="0.75"/><ellipse cx="1030.9" cy="148.8" rx="1.7" ry="1.6" fill="#adc996" opacity="0.75"/><ellipse cx="1021.4" cy="158.4" rx="1.8" ry="2.1" fill="#adc996" opacity="0.75"/><ellipse cx="937.8" cy="134.0" rx="1.5" ry="3.1" fill="#adc996" opacity="0.75"/><ellipse cx="972.3" cy="164.0" rx="0.9" ry="1.3" fill="#adc996" opacity="0.75"/><ellipse cx="993.7" cy="126.0" rx="0.6" ry="1.1" fill="#adc996" opacity="0.75"/><ellipse cx="986.3" cy="149.3" rx="0.9" ry="2.6" fill="#adc996" opacity="0.75"/><ellipse cx="988.6" cy="153.3" rx="1.6" ry="3.0" fill="#adc996" opacity="0.75"/><ellipse cx="995.8" cy="164.8" rx="1.4" ry="2.9" fill="#adc996" opacity="0.75"/><ellipse cx="1017.5" cy="131.4" rx="2.3" ry="2.0" fill="#adc996" opacity="0.75"/><ellipse cx="956.8" cy="164.1" rx="1.5" ry="2.6" fill="#adc996" opacity="0.75"/><ellipse cx="975.3" cy="175.0" rx="2.3" ry="1.5" fill="#adc996" opacity="0.75"/><ellipse cx="986.4" cy="134.1" rx="2.2" ry="2.6" fill="#adc996" opacity="0.75"/><ellipse cx="981.8" cy="156.0" rx="1.4" ry="2.4" fill="#adc996" opacity="0.75"/><ellipse cx="1009.0" cy="148.4" rx="2.4" ry="0.9" fill="#adc996" opacity="0.75"/><ellipse cx="1014.4" cy="161.7" rx="0.8" ry="1.2" fill="#adc996" opacity="0.75"/><ellipse cx="1046.0" cy="129.9" rx="1.5" ry="2.5" fill="#adc996" opacity="0.75"/><ellipse cx="958.6" cy="163.0" rx="0.7" ry="1.1" fill="#adc996" opacity="0.75"/><ellipse cx="1007.4" cy="158.4" rx="1.5" ry="1.2" fill="#adc996" opacity="0.75"/><ellipse cx="994.0" cy="142.8" rx="2.4" ry="1.0" fill="#adc996" opacity="0.75"/><ellipse cx="1051.0" cy="168.6" rx="1.4" ry="3.1" fill="#adc996" opacity="0.75"/><ellipse cx="1018.5" cy="129.9" rx="2.3" ry="2.0" fill="#adc996" opacity="0.75"/><ellipse cx="977.2" cy="151.9" rx="1.8" ry="0.9" fill="#adc996" opacity="0.75"/><ellipse cx="985.6" cy="169.8" rx="1.2" ry="1.9" fill="#adc996" opacity="0.75"/><ellipse cx="959.4" cy="129.4" rx="2.3" ry="2.6" fill="#adc996" opacity="0.75"/><ellipse cx="1000.6" cy="138.8" rx="2.4" ry="1.5" fill="#adc996" opacity="0.75"/><ellipse cx="989.1" cy="138.5" rx="1.2" ry="1.7" fill="#adc996" opacity="0.75"/><ellipse cx="959.8" cy="125.1" rx="2.1" ry="1.2" fill="#adc996" opacity="0.75"/><ellipse cx="942.2" cy="156.6" rx="1.2" ry="1.8" fill="#adc996" opacity="0.75"/><ellipse cx="967.7" cy="161.9" rx="1.1" ry="1.9" fill="#adc996" opacity="0.75"/><ellipse cx="1064.0" cy="164.6" rx="1.3" ry="2.0" fill="#adc996" opacity="0.75"/><ellipse cx="1019.7" cy="125.4" rx="2.3" ry="1.1" fill="#adc996" opacity="0.75"/><ellipse cx="1031.9" cy="159.7" rx="1.0" ry="2.6" fill="#adc996" opacity="0.75"/><ellipse cx="1035.0" cy="141.4" rx="2.3" ry="1.3" fill="#adc996" opacity="0.75"/><ellipse cx="959.9" cy="160.8" rx="2.3" ry="2.5" fill="#adc996" opacity="0.75"/><ellipse cx="1038.9" cy="143.2" rx="2.5" ry="1.1" fill="#adc996" opacity="0.75"/><ellipse cx="1047.3" cy="143.3" rx="0.7" ry="1.6" fill="#adc996" opacity="0.75"/><ellipse cx="969.4" cy="160.1" rx="0.7" ry="2.6" fill="#adc996" opacity="0.75"/><ellipse cx="944.3" cy="149.5" rx="2.2" ry="1.7" fill="#adc996" opacity="0.75"/><ellipse cx="947.5" cy="134.5" rx="0.7" ry="1.3" fill="#adc996" opacity="0.75"/><ellipse cx="1066.3" cy="166.6" rx="2.2" ry="1.3" fill="#adc996" opacity="0.75"/><ellipse cx="982.5" cy="161.3" rx="1.3" ry="2.5" fill="#adc996" opacity="0.75"/><ellipse cx="1046.8" cy="142.5" rx="1.4" ry="1.8" fill="#adc996" opacity="0.75"/><ellipse cx="968.9" cy="157.4" rx="1.6" ry="1.0" fill="#adc996" opacity="0.75"/><ellipse cx="1032.7" cy="139.1" rx="1.8" ry="1.6" fill="#adc996" opacity="0.75"/><ellipse cx="1019.7" cy="174.6" rx="0.8" ry="1.3" fill="#adc996" opacity="0.75"/><ellipse cx="1055.0" cy="148.5" rx="2.1" ry="2.5" fill="#adc996" opacity="0.75"/><ellipse cx="1006.6" cy="128.1" rx="0.6" ry="1.9" fill="#adc996" opacity="0.75"/><ellipse cx="940.1" cy="170.7" rx="1.3" ry="1.9" fill="#adc996" opacity="0.75"/><ellipse cx="1038.8" cy="147.7" rx="1.5" ry="2.0" fill="#adc996" opacity="0.75"/><ellipse cx="1027.2" cy="156.2" rx="1.8" ry="2.2" fill="#adc996" opacity="0.75"/><ellipse cx="939.4" cy="134.2" rx="1.2" ry="1.7" fill="#adc996" opacity="0.75"/><ellipse cx="1040.2" cy="147.2" rx="2.1" ry="3.0" fill="#adc996" opacity="0.75"/><ellipse cx="987.4" cy="152.1" rx="2.4" ry="1.6" fill="#adc996" opacity="0.75"/><ellipse cx="1051.0" cy="130.3" rx="2.0" ry="3.0" fill="#adc996" opacity="0.75"/><ellipse cx="946.7" cy="141.7" rx="2.2" ry="1.7" fill="#adc996" opacity="0.75"/><ellipse cx="949.9" cy="137.6" rx="2.0" ry="2.6" fill="#adc996" opacity="0.75"/><ellipse cx="946.4" cy="160.7" rx="2.6" ry="1.3" fill="#adc996" opacity="0.75"/><ellipse cx="985.0" cy="154.6" rx="1.0" ry="1.0" fill="#adc996" opacity="0.75"/><ellipse cx="953.8" cy="134.8" rx="2.2" ry="1.1" fill="#adc996" opacity="0.75"/><ellipse cx="1064.8" cy="162.1" rx="1.0" ry="1.6" fill="#adc996" opacity="0.75"/><ellipse cx="967.9" cy="159.3" rx="1.6" ry="2.4" fill="#adc996" opacity="0.75"/><ellipse cx="1021.8" cy="162.3" rx="2.4" ry="1.2" fill="#adc996" opacity="0.75"/><ellipse cx="1016.7" cy="166.3" rx="1.8" ry="2.0" fill="#adc996" opacity="0.75"/><ellipse cx="1013.5" cy="140.4" rx="2.1" ry="2.5" fill="#adc996" opacity="0.75"/><ellipse cx="998.5" cy="152.4" rx="0.9" ry="2.7" fill="#adc996" opacity="0.75"/><ellipse cx="1038.0" cy="141.6" rx="1.0" ry="2.2" fill="#adc996" opacity="0.75"/><ellipse cx="968.7" cy="167.4" rx="0.7" ry="0.9" fill="#adc996" opacity="0.75"/><ellipse cx="984.5" cy="165.9" rx="2.3" ry="1.5" fill="#adc996" opacity="0.75"/><ellipse cx="1016.4" cy="161.0" rx="2.5" ry="2.7" fill="#adc996" opacity="0.75"/><ellipse cx="1040.1" cy="242.3" rx="1.3" ry="1.5" fill="#b3cd9a" opacity="0.75"/><ellipse cx="1053.3" cy="238.3" rx="1.8" ry="2.5" fill="#b3cd9a" opacity="0.75"/><ellipse cx="1062.4" cy="239.5" rx="1.9" ry="2.5" fill="#b3cd9a" opacity="0.75"/><ellipse cx="1032.2" cy="235.0" rx="2.1" ry="2.4" fill="#b3cd9a" opacity="0.75"/><ellipse cx="1035.3" cy="191.4" rx="2.0" ry="1.8" fill="#b3cd9a" opacity="0.75"/><ellipse cx="1053.9" cy="254.0" rx="1.8" ry="1.1" fill="#b3cd9a" opacity="0.75"/><ellipse cx="1063.5" cy="193.0" rx="2.0" ry="2.1" fill="#b3cd9a" opacity="0.75"/><ellipse cx="1068.5" cy="226.8" rx="2.1" ry="1.3" fill="#b3cd9a" opacity="0.75"/><ellipse cx="1031.2" cy="256.8" rx="1.5" ry="1.9" fill="#b3cd9a" opacity="0.75"/><ellipse cx="1037.7" cy="218.2" rx="0.9" ry="2.3" fill="#b3cd9a" opacity="0.75"/><ellipse cx="1066.0" cy="190.8" rx="1.2" ry="1.4" fill="#b3cd9a" opacity="0.75"/><ellipse cx="1052.8" cy="212.7" rx="1.6" ry="1.4" fill="#b3cd9a" opacity="0.75"/><ellipse cx="1065.6" cy="208.0" rx="1.1" ry="1.2" fill="#b3cd9a" opacity="0.75"/><ellipse cx="1056.9" cy="196.6" rx="0.9" ry="2.5" fill="#b3cd9a" opacity="0.75"/><ellipse cx="1044.4" cy="239.7" rx="1.9" ry="0.8" fill="#b3cd9a" opacity="0.75"/><ellipse cx="1039.5" cy="251.1" rx="1.1" ry="1.1" fill="#b3cd9a" opacity="0.75"/><ellipse cx="1053.4" cy="247.8" rx="1.2" ry="1.5" fill="#b3cd9a" opacity="0.75"/><ellipse cx="1041.8" cy="237.2" rx="1.5" ry="2.5" fill="#b3cd9a" opacity="0.75"/><ellipse cx="1047.7" cy="229.4" rx="1.9" ry="1.9" fill="#b3cd9a" opacity="0.75"/><ellipse cx="1034.3" cy="201.7" rx="1.6" ry="2.5" fill="#b3cd9a" opacity="0.75"/><ellipse cx="1048.7" cy="179.4" rx="2.0" ry="1.7" fill="#b3cd9a" opacity="0.75"/><ellipse cx="1047.1" cy="185.8" rx="2.1" ry="1.4" fill="#b3cd9a" opacity="0.75"/><ellipse cx="1062.7" cy="224.2" rx="1.0" ry="2.0" fill="#b3cd9a" opacity="0.75"/><ellipse cx="1040.7" cy="257.8" rx="2.1" ry="2.1" fill="#b3cd9a" opacity="0.75"/><ellipse cx="1045.4" cy="208.3" rx="1.6" ry="2.5" fill="#b3cd9a" opacity="0.75"/><ellipse cx="1046.9" cy="247.4" rx="2.0" ry="0.8" fill="#b3cd9a" opacity="0.75"/><ellipse cx="1058.0" cy="235.9" rx="2.1" ry="0.8" fill="#b3cd9a" opacity="0.75"/><ellipse cx="1041.6" cy="243.1" rx="2.1" ry="1.2" fill="#b3cd9a" opacity="0.75"/><ellipse cx="1061.3" cy="183.1" rx="2.0" ry="1.6" fill="#b3cd9a" opacity="0.75"/><ellipse cx="1038.3" cy="185.0" rx="2.0" ry="2.4" fill="#b3cd9a" opacity="0.75"/><ellipse cx="1052.1" cy="205.0" rx="2.0" ry="1.3" fill="#b3cd9a" opacity="0.75"/><ellipse cx="1038.9" cy="238.9" rx="1.5" ry="2.4" fill="#b3cd9a" opacity="0.75"/><ellipse cx="1044.5" cy="203.4" rx="1.0" ry="1.4" fill="#b3cd9a" opacity="0.75"/><ellipse cx="1069.6" cy="197.5" rx="1.7" ry="1.3" fill="#b3cd9a" opacity="0.75"/><ellipse cx="1033.6" cy="215.7" rx="1.8" ry="1.5" fill="#b3cd9a" opacity="0.75"/><ellipse cx="1060.1" cy="248.0" rx="0.8" ry="0.9" fill="#b3cd9a" opacity="0.75"/><ellipse cx="1047.4" cy="228.6" rx="0.8" ry="1.4" fill="#b3cd9a" opacity="0.75"/><ellipse cx="1031.1" cy="252.2" rx="1.9" ry="1.5" fill="#b3cd9a" opacity="0.75"/><ellipse cx="1054.7" cy="208.1" rx="0.7" ry="2.2" fill="#b3cd9a" opacity="0.75"/><ellipse cx="1063.7" cy="250.1" rx="1.0" ry="1.2" fill="#b3cd9a" opacity="0.75"/><ellipse cx="1052.6" cy="249.0" rx="2.2" ry="1.8" fill="#b3cd9a" opacity="0.75"/><ellipse cx="1054.2" cy="235.0" rx="1.7" ry="1.7" fill="#b3cd9a" opacity="0.75"/><ellipse cx="1050.2" cy="232.8" rx="1.3" ry="1.0" fill="#b3cd9a" opacity="0.75"/><ellipse cx="1069.7" cy="245.2" rx="1.3" ry="2.6" fill="#b3cd9a" opacity="0.75"/><ellipse cx="1048.5" cy="205.5" rx="1.2" ry="1.3" fill="#b3cd9a" opacity="0.75"/><ellipse cx="1042.9" cy="207.3" rx="0.9" ry="1.0" fill="#b3cd9a" opacity="0.75"/><ellipse cx="1061.7" cy="179.5" rx="1.3" ry="0.9" fill="#b3cd9a" opacity="0.75"/><ellipse cx="1033.9" cy="208.0" rx="1.9" ry="2.3" fill="#b3cd9a" opacity="0.75"/><ellipse cx="1058.4" cy="230.6" rx="0.9" ry="1.4" fill="#b3cd9a" opacity="0.75"/><ellipse cx="1059.0" cy="212.0" rx="1.5" ry="2.1" fill="#b3cd9a" opacity="0.75"/><ellipse cx="1065.6" cy="175.1" rx="1.1" ry="1.4" fill="#b3cd9a" opacity="0.75"/><ellipse cx="1035.1" cy="214.7" rx="1.2" ry="2.1" fill="#b3cd9a" opacity="0.75"/><ellipse cx="1044.1" cy="244.7" rx="1.8" ry="1.4" fill="#b3cd9a" opacity="0.75"/><ellipse cx="1032.3" cy="222.9" rx="1.3" ry="1.5" fill="#b3cd9a" opacity="0.75"/><ellipse cx="1064.2" cy="202.6" rx="1.0" ry="2.5" fill="#b3cd9a" opacity="0.75"/><ellipse cx="1059.0" cy="220.3" rx="1.8" ry="2.6" fill="#b3cd9a" opacity="0.75"/><ellipse cx="1031.7" cy="250.6" rx="0.8" ry="1.2" fill="#b3cd9a" opacity="0.75"/><ellipse cx="1046.9" cy="227.2" rx="1.8" ry="2.0" fill="#b3cd9a" opacity="0.75"/><ellipse cx="1045.2" cy="257.6" rx="1.5" ry="2.3" fill="#b3cd9a" opacity="0.75"/><ellipse cx="1056.9" cy="245.0" rx="1.6" ry="2.1" fill="#b3cd9a" opacity="0.75"/><ellipse cx="1032.5" cy="217.9" rx="1.3" ry="1.6" fill="#b3cd9a" opacity="0.75"/><ellipse cx="1031.1" cy="192.1" rx="1.0" ry="1.4" fill="#b3cd9a" opacity="0.75"/><ellipse cx="1056.7" cy="240.8" rx="1.2" ry="1.0" fill="#b3cd9a" opacity="0.75"/><ellipse cx="1048.3" cy="200.1" rx="1.6" ry="1.9" fill="#b3cd9a" opacity="0.75"/><ellipse cx="1034.3" cy="178.8" rx="2.1" ry="1.8" fill="#b3cd9a" opacity="0.75"/><ellipse cx="1048.3" cy="183.3" rx="1.2" ry="0.9" fill="#b3cd9a" opacity="0.75"/><ellipse cx="1058.9" cy="200.6" rx="0.9" ry="2.2" fill="#b3cd9a" opacity="0.75"/><ellipse cx="1065.0" cy="218.1" rx="1.7" ry="1.1" fill="#b3cd9a" opacity="0.75"/><ellipse cx="1052.1" cy="211.2" rx="0.8" ry="1.6" fill="#b3cd9a" opacity="0.75"/><ellipse cx="1034.0" cy="249.7" rx="1.6" ry="1.4" fill="#b3cd9a" opacity="0.75"/><ellipse cx="1063.4" cy="199.1" rx="0.7" ry="2.6" fill="#b3cd9a" opacity="0.75"/><ellipse cx="1051.4" cy="179.8" rx="2.1" ry="1.3" fill="#b3cd9a" opacity="0.75"/><ellipse cx="1060.3" cy="252.1" rx="2.2" ry="2.2" fill="#b3cd9a" opacity="0.75"/><ellipse cx="1067.1" cy="222.7" rx="2.0" ry="1.6" fill="#b3cd9a" opacity="0.75"/><ellipse cx="1066.8" cy="177.8" rx="0.8" ry="1.2" fill="#b3cd9a" opacity="0.75"/><ellipse cx="1058.3" cy="224.4" rx="1.0" ry="2.0" fill="#b3cd9a" opacity="0.75"/><ellipse cx="1053.2" cy="247.3" rx="1.2" ry="1.9" fill="#b3cd9a" opacity="0.75"/><ellipse cx="1052.2" cy="231.4" rx="1.6" ry="2.5" fill="#b3cd9a" opacity="0.75"/><ellipse cx="1031.7" cy="230.1" rx="0.6" ry="1.7" fill="#b3cd9a" opacity="0.75"/><ellipse cx="1041.3" cy="226.2" rx="1.9" ry="1.3" fill="#b3cd9a" opacity="0.75"/><ellipse cx="1036.9" cy="182.7" rx="1.5" ry="1.5" fill="#b3cd9a" opacity="0.75"/><ellipse cx="1044.7" cy="246.2" rx="1.9" ry="0.9" fill="#b3cd9a" opacity="0.75"/><ellipse cx="1069.8" cy="178.6" rx="2.1" ry="1.1" fill="#b3cd9a" opacity="0.75"/><ellipse cx="1068.4" cy="227.8" rx="1.9" ry="1.0" fill="#b3cd9a" opacity="0.75"/><ellipse cx="1045.4" cy="209.9" rx="1.5" ry="1.6" fill="#b3cd9a" opacity="0.75"/><ellipse cx="1046.2" cy="243.1" rx="2.0" ry="1.0" fill="#b3cd9a" opacity="0.75"/><ellipse cx="1069.8" cy="230.3" rx="1.6" ry="1.0" fill="#b3cd9a" opacity="0.75"/><ellipse cx="1041.0" cy="218.9" rx="2.1" ry="1.6" fill="#b3cd9a" opacity="0.75"/><ellipse cx="1063.7" cy="227.7" rx="1.8" ry="0.9" fill="#b3cd9a" opacity="0.75"/><ellipse cx="1045.9" cy="191.9" rx="2.1" ry="2.3" fill="#b3cd9a" opacity="0.75"/><ellipse cx="1060.2" cy="234.8" rx="1.9" ry="1.5" fill="#b3cd9a" opacity="0.75"/><ellipse cx="1045.7" cy="244.4" rx="1.3" ry="1.7" fill="#b3cd9a" opacity="0.75"/><ellipse cx="1068.8" cy="189.2" rx="1.6" ry="2.1" fill="#b3cd9a" opacity="0.75"/><ellipse cx="1059.3" cy="211.2" rx="1.2" ry="1.1" fill="#b3cd9a" opacity="0.75"/><ellipse cx="1033.0" cy="244.9" rx="2.2" ry="2.2" fill="#b3cd9a" opacity="0.75"/><ellipse cx="1063.8" cy="187.9" rx="0.7" ry="2.5" fill="#b3cd9a" opacity="0.75"/><ellipse cx="1059.9" cy="220.2" rx="1.7" ry="2.3" fill="#b3cd9a" opacity="0.75"/><ellipse cx="1033.4" cy="215.7" rx="0.8" ry="2.4" fill="#b3cd9a" opacity="0.75"/><ellipse cx="1052.7" cy="224.8" rx="1.2" ry="1.3" fill="#b3cd9a" opacity="0.75"/><ellipse cx="1067.9" cy="253.9" rx="0.8" ry="0.9" fill="#b3cd9a" opacity="0.75"/><ellipse cx="1068.1" cy="228.8" rx="1.2" ry="1.5" fill="#b3cd9a" opacity="0.75"/><ellipse cx="1051.0" cy="205.1" rx="0.9" ry="1.7" fill="#b3cd9a" opacity="0.75"/><ellipse cx="1043.1" cy="251.1" rx="1.4" ry="1.8" fill="#b3cd9a" opacity="0.75"/><ellipse cx="1058.9" cy="223.0" rx="0.6" ry="2.4" fill="#b3cd9a" opacity="0.75"/><ellipse cx="1039.0" cy="235.7" rx="0.8" ry="2.4" fill="#b3cd9a" opacity="0.75"/><ellipse cx="1063.7" cy="176.8" rx="1.6" ry="2.3" fill="#b3cd9a" opacity="0.75"/><ellipse cx="1035.8" cy="209.7" rx="2.0" ry="2.5" fill="#b3cd9a" opacity="0.75"/><ellipse cx="1057.6" cy="216.9" rx="1.8" ry="1.6" fill="#b3cd9a" opacity="0.75"/><ellipse cx="1038.1" cy="190.5" rx="1.1" ry="2.0" fill="#b3cd9a" opacity="0.75"/><ellipse cx="1061.0" cy="204.4" rx="2.1" ry="2.5" fill="#b3cd9a" opacity="0.75"/><ellipse cx="1060.1" cy="223.4" rx="0.7" ry="2.0" fill="#b3cd9a" opacity="0.75"/><ellipse cx="1060.1" cy="259.3" rx="1.9" ry="1.5" fill="#b3cd9a" opacity="0.75"/><ellipse cx="1058.8" cy="182.2" rx="1.2" ry="2.0" fill="#b3cd9a" opacity="0.75"/><ellipse cx="1033.0" cy="252.5" rx="1.9" ry="2.1" fill="#b3cd9a" opacity="0.75"/><ellipse cx="1035.6" cy="180.2" rx="2.1" ry="2.2" fill="#b3cd9a" opacity="0.75"/><ellipse cx="1034.5" cy="243.7" rx="2.0" ry="0.9" fill="#b3cd9a" opacity="0.75"/><ellipse cx="1052.5" cy="240.4" rx="1.8" ry="2.1" fill="#b3cd9a" opacity="0.75"/><ellipse cx="1065.3" cy="203.1" rx="0.9" ry="1.9" fill="#b3cd9a" opacity="0.75"/><ellipse cx="1030.9" cy="255.1" rx="1.4" ry="1.5" fill="#b3cd9a" opacity="0.75"/><ellipse cx="1067.9" cy="186.4" rx="1.8" ry="2.4" fill="#b3cd9a" opacity="0.75"/><ellipse cx="1003.6" cy="421.2" rx="1.3" ry="0.9" fill="#b3cd9a" opacity="0.75"/><ellipse cx="1019.4" cy="409.1" rx="1.6" ry="2.2" fill="#b3cd9a" opacity="0.75"/><ellipse cx="1035.0" cy="411.5" rx="1.5" ry="1.4" fill="#b3cd9a" opacity="0.75"/><ellipse cx="1041.6" cy="360.8" rx="1.8" ry="2.3" fill="#b3cd9a" opacity="0.75"/><ellipse cx="984.1" cy="392.2" rx="0.7" ry="2.6" fill="#b3cd9a" opacity="0.75"/><ellipse cx="951.9" cy="383.1" rx="1.7" ry="1.2" fill="#b3cd9a" opacity="0.75"/><ellipse cx="1006.1" cy="363.4" rx="1.1" ry="1.5" fill="#b3cd9a" opacity="0.75"/><ellipse cx="1036.5" cy="388.9" rx="0.7" ry="2.4" fill="#b3cd9a" opacity="0.75"/><ellipse cx="1053.5" cy="352.3" rx="2.0" ry="1.7" fill="#b3cd9a" opacity="0.75"/><ellipse cx="995.7" cy="423.6" rx="2.0" ry="2.2" fill="#b3cd9a" opacity="0.75"/><ellipse cx="966.2" cy="389.5" rx="0.9" ry="2.2" fill="#b3cd9a" opacity="0.75"/><ellipse cx="1000.6" cy="422.4" rx="0.8" ry="1.9" fill="#b3cd9a" opacity="0.75"/><ellipse cx="957.1" cy="387.3" rx="0.6" ry="1.3" fill="#b3cd9a" opacity="0.75"/><ellipse cx="1010.0" cy="362.7" rx="0.8" ry="2.2" fill="#b3cd9a" opacity="0.75"/><ellipse cx="1057.4" cy="406.7" rx="1.2" ry="1.8" fill="#b3cd9a" opacity="0.75"/><ellipse cx="997.6" cy="372.9" rx="1.1" ry="2.0" fill="#b3cd9a" opacity="0.75"/><ellipse cx="1014.9" cy="395.9" rx="1.6" ry="1.0" fill="#b3cd9a" opacity="0.75"/><ellipse cx="1037.8" cy="407.5" rx="1.0" ry="1.2" fill="#b3cd9a" opacity="0.75"/><ellipse cx="983.2" cy="334.0" rx="1.2" ry="1.1" fill="#b3cd9a" opacity="0.75"/><ellipse cx="984.5" cy="396.0" rx="0.8" ry="2.3" fill="#b3cd9a" opacity="0.75"/><ellipse cx="1058.3" cy="406.0" rx="2.2" ry="1.3" fill="#b3cd9a" opacity="0.75"/><ellipse cx="1032.9" cy="365.4" rx="1.1" ry="2.6" fill="#b3cd9a" opacity="0.75"/><ellipse cx="975.8" cy="333.7" rx="1.9" ry="1.0" fill="#b3cd9a" opacity="0.75"/><ellipse cx="997.2" cy="392.3" rx="2.0" ry="2.5" fill="#b3cd9a" opacity="0.75"/><ellipse cx="978.4" cy="378.2" rx="1.8" ry="2.2" fill="#b3cd9a" opacity="0.75"/><ellipse cx="1013.4" cy="342.1" rx="1.8" ry="0.8" fill="#b3cd9a" opacity="0.75"/><ellipse cx="990.5" cy="353.3" rx="1.4" ry="1.7" fill="#b3cd9a" opacity="0.75"/><ellipse cx="987.4" cy="356.2" rx="1.0" ry="1.6" fill="#b3cd9a" opacity="0.75"/><ellipse cx="1054.1" cy="381.0" rx="0.6" ry="2.4" fill="#b3cd9a" opacity="0.75"/><ellipse cx="1037.9" cy="341.9" rx="1.6" ry="1.0" fill="#b3cd9a" opacity="0.75"/><ellipse cx="1037.4" cy="358.2" rx="0.9" ry="1.9" fill="#b3cd9a" opacity="0.75"/><ellipse cx="996.5" cy="363.3" rx="1.6" ry="2.4" fill="#b3cd9a" opacity="0.75"/><ellipse cx="1000.6" cy="416.4" rx="1.7" ry="1.0" fill="#b3cd9a" opacity="0.75"/><ellipse cx="1039.5" cy="342.1" rx="2.2" ry="2.1" fill="#b3cd9a" opacity="0.75"/><ellipse cx="1059.0" cy="408.2" rx="0.9" ry="2.5" fill="#b3cd9a" opacity="0.75"/><ellipse cx="1048.2" cy="388.8" rx="1.1" ry="0.9" fill="#b3cd9a" opacity="0.75"/><ellipse cx="1018.7" cy="339.4" rx="1.4" ry="1.9" fill="#b3cd9a" opacity="0.75"/><ellipse cx="955.4" cy="393.5" rx="1.4" ry="2.0" fill="#b3cd9a" opacity="0.75"/><ellipse cx="1011.8" cy="345.1" rx="1.3" ry="0.9" fill="#b3cd9a" opacity="0.75"/><ellipse cx="1048.5" cy="417.0" rx="1.7" ry="2.1" fill="#b3cd9a" opacity="0.75"/><ellipse cx="1037.8" cy="362.5" rx="0.7" ry="1.1" fill="#b3cd9a" opacity="0.75"/><ellipse cx="1044.2" cy="338.4" rx="1.4" ry="0.8" fill="#b3cd9a" opacity="0.75"/><ellipse cx="952.0" cy="377.2" rx="1.2" ry="1.0" fill="#b3cd9a" opacity="0.75"/><ellipse cx="961.3" cy="405.1" rx="1.4" ry="2.0" fill="#b3cd9a" opacity="0.75"/><ellipse cx="1023.5" cy="420.1" rx="1.1" ry="1.4" fill="#b3cd9a" opacity="0.75"/><ellipse cx="1039.3" cy="395.5" rx="1.1" ry="1.7" fill="#b3cd9a" opacity="0.75"/><ellipse cx="1013.1" cy="371.9" rx="0.9" ry="1.6" fill="#b3cd9a" opacity="0.75"/><ellipse cx="1045.4" cy="389.4" rx="2.0" ry="2.0" fill="#b3cd9a" opacity="0.75"/><ellipse cx="1046.1" cy="422.1" rx="1.1" ry="1.9" fill="#b3cd9a" opacity="0.75"/><ellipse cx="1043.7" cy="406.1" rx="1.2" ry="2.2" fill="#b3cd9a" opacity="0.75"/><ellipse cx="959.1" cy="413.8" rx="1.8" ry="1.3" fill="#b3cd9a" opacity="0.75"/><ellipse cx="994.1" cy="422.8" rx="1.2" ry="1.6" fill="#b3cd9a" opacity="0.75"/><ellipse cx="1040.4" cy="414.9" rx="1.3" ry="1.3" fill="#b3cd9a" opacity="0.75"/><ellipse cx="1052.8" cy="366.2" rx="1.7" ry="2.2" fill="#b3cd9a" opacity="0.75"/><ellipse cx="954.4" cy="404.2" rx="0.7" ry="1.0" fill="#b3cd9a" opacity="0.75"/><ellipse cx="963.6" cy="356.0" rx="1.2" ry="1.5" fill="#b3cd9a" opacity="0.75"/><ellipse cx="974.7" cy="354.2" rx="1.2" ry="2.0" fill="#b3cd9a" opacity="0.75"/><ellipse cx="960.0" cy="417.0" rx="1.8" ry="1.6" fill="#b3cd9a" opacity="0.75"/><ellipse cx="1057.5" cy="412.5" rx="0.9" ry="1.9" fill="#b3cd9a" opacity="0.75"/><ellipse cx="1030.6" cy="386.3" rx="1.9" ry="0.8" fill="#b3cd9a" opacity="0.75"/><ellipse cx="964.3" cy="395.2" rx="2.1" ry="1.1" fill="#b3cd9a" opacity="0.75"/><ellipse cx="1059.0" cy="372.1" rx="0.9" ry="1.5" fill="#b3cd9a" opacity="0.75"/><ellipse cx="984.5" cy="386.3" rx="2.0" ry="1.3" fill="#b3cd9a" opacity="0.75"/><ellipse cx="971.1" cy="414.5" rx="1.3" ry="2.6" fill="#b3cd9a" opacity="0.75"/><ellipse cx="1008.0" cy="348.6" rx="2.1" ry="0.8" fill="#b3cd9a" opacity="0.75"/><ellipse cx="1010.0" cy="406.4" rx="0.8" ry="1.1" fill="#b3cd9a" opacity="0.75"/><ellipse cx="976.7" cy="332.5" rx="1.0" ry="1.6" fill="#b3cd9a" opacity="0.75"/><ellipse cx="1044.9" cy="361.0" rx="0.8" ry="2.5" fill="#b3cd9a" opacity="0.75"/><ellipse cx="956.0" cy="389.1" rx="0.8" ry="1.7" fill="#b3cd9a" opacity="0.75"/><ellipse cx="1004.9" cy="391.6" rx="1.0" ry="1.4" fill="#b3cd9a" opacity="0.75"/><ellipse cx="965.5" cy="375.5" rx="0.7" ry="2.2" fill="#b3cd9a" opacity="0.75"/><ellipse cx="1035.7" cy="401.1" rx="1.7" ry="0.9" fill="#b3cd9a" opacity="0.75"/><ellipse cx="1039.5" cy="378.4" rx="1.1" ry="1.6" fill="#b3cd9a" opacity="0.75"/><ellipse cx="1039.8" cy="365.6" rx="0.9" ry="1.5" fill="#b3cd9a" opacity="0.75"/><ellipse cx="1028.5" cy="418.4" rx="0.8" ry="2.0" fill="#b3cd9a" opacity="0.75"/><ellipse cx="950.2" cy="361.3" rx="1.1" ry="2.2" fill="#b3cd9a" opacity="0.75"/><ellipse cx="983.8" cy="404.7" rx="1.5" ry="1.0" fill="#b3cd9a" opacity="0.75"/><ellipse cx="983.0" cy="361.0" rx="1.9" ry="0.9" fill="#b3cd9a" opacity="0.75"/><ellipse cx="1022.8" cy="394.5" rx="1.7" ry="1.3" fill="#b3cd9a" opacity="0.75"/><ellipse cx="1022.0" cy="394.8" rx="2.1" ry="2.5" fill="#b3cd9a" opacity="0.75"/><ellipse cx="1023.5" cy="355.4" rx="1.6" ry="2.0" fill="#b3cd9a" opacity="0.75"/><ellipse cx="966.2" cy="362.1" rx="1.8" ry="2.1" fill="#b3cd9a" opacity="0.75"/><ellipse cx="1020.2" cy="401.8" rx="1.0" ry="1.1" fill="#b3cd9a" opacity="0.75"/><ellipse cx="1010.9" cy="403.7" rx="0.7" ry="1.8" fill="#b3cd9a" opacity="0.75"/><ellipse cx="1002.7" cy="349.6" rx="1.1" ry="0.9" fill="#b3cd9a" opacity="0.75"/><ellipse cx="1038.3" cy="382.8" rx="2.1" ry="1.0" fill="#b3cd9a" opacity="0.75"/><ellipse cx="1043.3" cy="385.8" rx="1.8" ry="2.4" fill="#b3cd9a" opacity="0.75"/><ellipse cx="1034.9" cy="414.6" rx="1.5" ry="1.5" fill="#b3cd9a" opacity="0.75"/><ellipse cx="1059.2" cy="365.8" rx="1.8" ry="1.2" fill="#b3cd9a" opacity="0.75"/><ellipse cx="1042.2" cy="377.6" rx="2.0" ry="1.4" fill="#b3cd9a" opacity="0.75"/><ellipse cx="981.6" cy="363.0" rx="1.5" ry="1.8" fill="#b3cd9a" opacity="0.75"/><ellipse cx="987.4" cy="396.2" rx="2.1" ry="2.5" fill="#b3cd9a" opacity="0.75"/><ellipse cx="1007.3" cy="409.2" rx="1.3" ry="1.4" fill="#b3cd9a" opacity="0.75"/><ellipse cx="1013.6" cy="352.5" rx="2.0" ry="1.7" fill="#b3cd9a" opacity="0.75"/><ellipse cx="963.7" cy="360.7" rx="1.9" ry="1.7" fill="#b3cd9a" opacity="0.75"/><ellipse cx="962.5" cy="409.3" rx="1.2" ry="1.1" fill="#b3cd9a" opacity="0.75"/><ellipse cx="994.4" cy="354.9" rx="0.6" ry="1.4" fill="#b3cd9a" opacity="0.75"/><ellipse cx="996.1" cy="376.1" rx="1.4" ry="1.4" fill="#b3cd9a" opacity="0.75"/><ellipse cx="988.0" cy="396.0" rx="1.2" ry="1.3" fill="#b3cd9a" opacity="0.75"/><ellipse cx="1043.6" cy="419.3" rx="1.0" ry="1.2" fill="#b3cd9a" opacity="0.75"/><ellipse cx="997.0" cy="411.4" rx="1.1" ry="2.2" fill="#b3cd9a" opacity="0.75"/><ellipse cx="978.0" cy="356.9" rx="1.7" ry="2.3" fill="#b3cd9a" opacity="0.75"/><ellipse cx="1010.8" cy="348.0" rx="1.0" ry="2.3" fill="#b3cd9a" opacity="0.75"/><ellipse cx="1026.9" cy="331.2" rx="1.0" ry="1.1" fill="#b3cd9a" opacity="0.75"/><ellipse cx="1042.6" cy="409.6" rx="1.4" ry="1.6" fill="#b3cd9a" opacity="0.75"/><ellipse cx="1040.5" cy="350.4" rx="1.0" ry="1.1" fill="#b3cd9a" opacity="0.75"/><ellipse cx="986.5" cy="413.4" rx="0.7" ry="1.3" fill="#b3cd9a" opacity="0.75"/><ellipse cx="1005.0" cy="358.5" rx="1.7" ry="2.1" fill="#b3cd9a" opacity="0.75"/><ellipse cx="1008.6" cy="347.9" rx="2.1" ry="2.4" fill="#b3cd9a" opacity="0.75"/><ellipse cx="1040.9" cy="392.5" rx="1.3" ry="2.2" fill="#b3cd9a" opacity="0.75"/><ellipse cx="1009.1" cy="413.0" rx="1.9" ry="1.0" fill="#b3cd9a" opacity="0.75"/><ellipse cx="1010.7" cy="336.3" rx="0.9" ry="2.6" fill="#b3cd9a" opacity="0.75"/><ellipse cx="984.6" cy="394.7" rx="0.7" ry="2.2" fill="#b3cd9a" opacity="0.75"/><ellipse cx="1012.8" cy="384.8" rx="1.0" ry="1.1" fill="#b3cd9a" opacity="0.75"/><ellipse cx="1050.4" cy="336.8" rx="1.8" ry="2.3" fill="#b3cd9a" opacity="0.75"/><ellipse cx="1049.7" cy="394.3" rx="1.3" ry="1.3" fill="#b3cd9a" opacity="0.75"/><ellipse cx="1050.8" cy="362.9" rx="2.1" ry="2.6" fill="#b3cd9a" opacity="0.75"/><ellipse cx="989.5" cy="400.9" rx="1.8" ry="2.1" fill="#b3cd9a" opacity="0.75"/><ellipse cx="990.3" cy="348.2" rx="0.6" ry="1.0" fill="#b3cd9a" opacity="0.75"/><ellipse cx="1043.7" cy="382.8" rx="2.1" ry="1.6" fill="#b3cd9a" opacity="0.75"/><ellipse cx="1047.4" cy="407.0" rx="1.3" ry="2.5" fill="#b3cd9a" opacity="0.75"/><ellipse cx="980.4" cy="396.8" rx="2.0" ry="1.8" fill="#b3cd9a" opacity="0.75"/><ellipse cx="1053.8" cy="384.7" rx="1.0" ry="2.3" fill="#b3cd9a" opacity="0.75"/><ellipse cx="962.1" cy="377.3" rx="1.6" ry="1.4" fill="#b3cd9a" opacity="0.75"/><ellipse cx="985.6" cy="363.6" rx="0.8" ry="2.5" fill="#b3cd9a" opacity="0.75"/><ellipse cx="993.6" cy="413.5" rx="0.8" ry="1.8" fill="#b3cd9a" opacity="0.75"/><ellipse cx="964.1" cy="358.4" rx="1.6" ry="0.8" fill="#b3cd9a" opacity="0.75"/><ellipse cx="1057.9" cy="374.8" rx="0.9" ry="1.9" fill="#b3cd9a" opacity="0.75"/><ellipse cx="1059.3" cy="396.5" rx="0.7" ry="2.1" fill="#b3cd9a" opacity="0.75"/><ellipse cx="999.9" cy="334.9" rx="0.8" ry="2.1" fill="#b3cd9a" opacity="0.75"/><ellipse cx="1020.9" cy="414.5" rx="0.8" ry="2.4" fill="#b3cd9a" opacity="0.75"/><ellipse cx="990.2" cy="368.5" rx="1.1" ry="1.3" fill="#b3cd9a" opacity="0.75"/><ellipse cx="971.6" cy="402.4" rx="1.8" ry="1.9" fill="#b3cd9a" opacity="0.75"/><ellipse cx="1053.3" cy="416.7" rx="1.0" ry="1.4" fill="#b3cd9a" opacity="0.75"/><ellipse cx="1033.9" cy="412.5" rx="1.1" ry="1.6" fill="#b3cd9a" opacity="0.75"/><ellipse cx="1035.9" cy="412.6" rx="1.8" ry="1.8" fill="#b3cd9a" opacity="0.75"/><ellipse cx="993.6" cy="378.1" rx="1.3" ry="0.9" fill="#b3cd9a" opacity="0.75"/><ellipse cx="953.8" cy="373.3" rx="1.5" ry="2.0" fill="#b3cd9a" opacity="0.75"/><ellipse cx="1024.1" cy="338.4" rx="0.9" ry="1.4" fill="#b3cd9a" opacity="0.75"/><ellipse cx="956.0" cy="344.9" rx="0.8" ry="1.4" fill="#b3cd9a" opacity="0.75"/><ellipse cx="1054.8" cy="400.4" rx="1.4" ry="2.1" fill="#b3cd9a" opacity="0.75"/><ellipse cx="954.4" cy="421.1" rx="1.1" ry="1.5" fill="#b3cd9a" opacity="0.75"/><ellipse cx="969.0" cy="355.5" rx="1.7" ry="2.0" fill="#b3cd9a" opacity="0.75"/><ellipse cx="998.9" cy="360.9" rx="1.6" ry="1.8" fill="#b3cd9a" opacity="0.75"/><ellipse cx="1028.4" cy="336.5" rx="1.1" ry="1.4" fill="#b3cd9a" opacity="0.75"/><ellipse cx="1034.8" cy="413.1" rx="2.0" ry="2.5" fill="#b3cd9a" opacity="0.75"/><ellipse cx="960.5" cy="414.5" rx="1.9" ry="2.2" fill="#b3cd9a" opacity="0.75"/><ellipse cx="1056.8" cy="392.2" rx="1.8" ry="2.1" fill="#b3cd9a" opacity="0.75"/><ellipse cx="953.4" cy="382.6" rx="1.0" ry="1.8" fill="#b3cd9a" opacity="0.75"/><ellipse cx="1056.9" cy="372.7" rx="1.8" ry="1.6" fill="#b3cd9a" opacity="0.75"/><ellipse cx="1031.1" cy="394.3" rx="1.1" ry="1.0" fill="#b3cd9a" opacity="0.75"/><ellipse cx="978.0" cy="364.8" rx="1.7" ry="2.1" fill="#b3cd9a" opacity="0.75"/><ellipse cx="977.2" cy="374.1" rx="2.0" ry="2.4" fill="#b3cd9a" opacity="0.75"/><ellipse cx="961.3" cy="389.3" rx="1.5" ry="2.1" fill="#b3cd9a" opacity="0.75"/><ellipse cx="956.3" cy="368.7" rx="0.6" ry="1.1" fill="#b3cd9a" opacity="0.75"/><ellipse cx="964.8" cy="343.2" rx="0.6" ry="1.0" fill="#b3cd9a" opacity="0.75"/><ellipse cx="991.2" cy="346.5" rx="1.6" ry="1.0" fill="#b3cd9a" opacity="0.75"/><ellipse cx="976.4" cy="376.1" rx="0.8" ry="2.6" fill="#b3cd9a" opacity="0.75"/><ellipse cx="1002.8" cy="343.9" rx="1.6" ry="1.2" fill="#b3cd9a" opacity="0.75"/><ellipse cx="1006.9" cy="410.6" rx="2.0" ry="2.5" fill="#b3cd9a" opacity="0.75"/><ellipse cx="1045.8" cy="364.9" rx="2.0" ry="2.0" fill="#b3cd9a" opacity="0.75"/><ellipse cx="1049.2" cy="376.3" rx="0.8" ry="1.4" fill="#b3cd9a" opacity="0.75"/><ellipse cx="1053.6" cy="330.4" rx="1.7" ry="1.0" fill="#b3cd9a" opacity="0.75"/><ellipse cx="1008.3" cy="352.4" rx="0.7" ry="1.9" fill="#b3cd9a" opacity="0.75"/><ellipse cx="1018.9" cy="347.1" rx="0.7" ry="2.0" fill="#b3cd9a" opacity="0.75"/><ellipse cx="1054.2" cy="399.8" rx="2.0" ry="1.3" fill="#b3cd9a" opacity="0.75"/><ellipse cx="1019.9" cy="338.0" rx="1.1" ry="1.1" fill="#b3cd9a" opacity="0.75"/><ellipse cx="951.9" cy="385.5" rx="1.4" ry="1.9" fill="#b3cd9a" opacity="0.75"/><ellipse cx="1007.0" cy="419.2" rx="2.2" ry="1.7" fill="#b3cd9a" opacity="0.75"/><ellipse cx="966.7" cy="374.3" rx="1.4" ry="1.5" fill="#b3cd9a" opacity="0.75"/><ellipse cx="976.2" cy="375.8" rx="2.0" ry="2.3" fill="#b3cd9a" opacity="0.75"/><ellipse cx="1017.1" cy="398.3" rx="0.8" ry="1.2" fill="#b3cd9a" opacity="0.75"/><ellipse cx="1010.1" cy="384.8" rx="2.0" ry="1.0" fill="#b3cd9a" opacity="0.75"/><ellipse cx="954.1" cy="378.9" rx="1.2" ry="1.8" fill="#b3cd9a" opacity="0.75"/><ellipse cx="971.1" cy="373.0" rx="2.2" ry="1.6" fill="#b3cd9a" opacity="0.75"/><ellipse cx="1053.0" cy="353.8" rx="1.6" ry="1.1" fill="#b3cd9a" opacity="0.75"/><ellipse cx="975.5" cy="403.7" rx="1.6" ry="2.1" fill="#b3cd9a" opacity="0.75"/><ellipse cx="957.3" cy="330.5" rx="1.2" ry="1.3" fill="#b3cd9a" opacity="0.75"/><ellipse cx="980.0" cy="386.5" rx="0.9" ry="1.4" fill="#b3cd9a" opacity="0.75"/><ellipse cx="960.4" cy="387.9" rx="1.2" ry="2.4" fill="#b3cd9a" opacity="0.75"/><ellipse cx="1014.1" cy="403.5" rx="1.5" ry="2.1" fill="#b3cd9a" opacity="0.75"/><ellipse cx="1016.1" cy="333.0" rx="2.0" ry="2.6" fill="#b3cd9a" opacity="0.75"/><ellipse cx="1025.6" cy="394.9" rx="1.9" ry="2.1" fill="#b3cd9a" opacity="0.75"/><ellipse cx="1019.5" cy="405.0" rx="1.3" ry="1.2" fill="#b3cd9a" opacity="0.75"/><ellipse cx="999.9" cy="375.3" rx="0.6" ry="1.4" fill="#b3cd9a" opacity="0.75"/><ellipse cx="959.8" cy="336.1" rx="2.1" ry="1.3" fill="#b3cd9a" opacity="0.75"/><ellipse cx="1007.1" cy="333.4" rx="1.3" ry="0.9" fill="#b3cd9a" opacity="0.75"/><ellipse cx="1023.5" cy="422.4" rx="1.9" ry="2.5" fill="#b3cd9a" opacity="0.75"/><ellipse cx="1011.6" cy="371.9" rx="1.1" ry="1.2" fill="#b3cd9a" opacity="0.75"/><ellipse cx="951.7" cy="369.1" rx="1.6" ry="1.4" fill="#b3cd9a" opacity="0.75"/><ellipse cx="967.4" cy="350.6" rx="2.0" ry="1.9" fill="#b3cd9a" opacity="0.75"/><ellipse cx="953.1" cy="337.7" rx="0.9" ry="2.1" fill="#b3cd9a" opacity="0.75"/><ellipse cx="979.3" cy="362.4" rx="1.2" ry="2.2" fill="#b3cd9a" opacity="0.75"/><ellipse cx="1033.0" cy="371.8" rx="2.0" ry="2.5" fill="#b3cd9a" opacity="0.75"/><ellipse cx="985.3" cy="355.8" rx="1.2" ry="2.1" fill="#b3cd9a" opacity="0.75"/><ellipse cx="963.3" cy="385.5" rx="1.7" ry="2.4" fill="#b3cd9a" opacity="0.75"/><ellipse cx="953.3" cy="397.8" rx="0.7" ry="1.1" fill="#b3cd9a" opacity="0.75"/><ellipse cx="976.2" cy="346.0" rx="0.8" ry="1.0" fill="#b3cd9a" opacity="0.75"/><ellipse cx="998.1" cy="364.7" rx="1.6" ry="1.3" fill="#b3cd9a" opacity="0.75"/><ellipse cx="1059.6" cy="348.6" rx="0.8" ry="1.0" fill="#b3cd9a" opacity="0.75"/><ellipse cx="1045.5" cy="386.2" rx="1.1" ry="1.9" fill="#b3cd9a" opacity="0.75"/><ellipse cx="1042.4" cy="399.0" rx="1.3" ry="2.2" fill="#b3cd9a" opacity="0.75"/><ellipse cx="982.0" cy="358.8" rx="1.4" ry="2.0" fill="#b3cd9a" opacity="0.75"/><ellipse cx="959.0" cy="354.7" rx="1.9" ry="1.2" fill="#b3cd9a" opacity="0.75"/><ellipse cx="973.1" cy="378.8" rx="0.6" ry="2.4" fill="#b3cd9a" opacity="0.75"/><ellipse cx="950.6" cy="381.2" rx="0.8" ry="1.2" fill="#b3cd9a" opacity="0.75"/><ellipse cx="984.6" cy="400.5" rx="1.1" ry="1.0" fill="#b3cd9a" opacity="0.75"/><ellipse cx="1030.5" cy="391.9" rx="1.5" ry="1.3" fill="#b3cd9a" opacity="0.75"/><ellipse cx="1052.2" cy="394.4" rx="1.3" ry="2.4" fill="#b3cd9a" opacity="0.75"/><ellipse cx="999.0" cy="393.8" rx="1.4" ry="1.9" fill="#b3cd9a" opacity="0.75"/><ellipse cx="982.3" cy="375.3" rx="1.7" ry="2.6" fill="#b3cd9a" opacity="0.75"/><ellipse cx="1056.4" cy="408.8" rx="1.7" ry="2.1" fill="#b3cd9a" opacity="0.75"/><ellipse cx="968.3" cy="356.1" rx="1.2" ry="2.5" fill="#b3cd9a" opacity="0.75"/><ellipse cx="970.5" cy="330.9" rx="0.8" ry="2.6" fill="#b3cd9a" opacity="0.75"/><ellipse cx="960.9" cy="408.7" rx="0.7" ry="1.2" fill="#b3cd9a" opacity="0.75"/><ellipse cx="1034.1" cy="352.0" rx="0.7" ry="1.7" fill="#b3cd9a" opacity="0.75"/><ellipse cx="964.4" cy="390.8" rx="1.3" ry="1.0" fill="#b3cd9a" opacity="0.75"/><ellipse cx="968.4" cy="408.7" rx="1.1" ry="1.4" fill="#b3cd9a" opacity="0.75"/><ellipse cx="1024.4" cy="385.8" rx="0.8" ry="1.7" fill="#b3cd9a" opacity="0.75"/><ellipse cx="1023.9" cy="341.8" rx="0.7" ry="1.7" fill="#b3cd9a" opacity="0.75"/><ellipse cx="1052.3" cy="407.7" rx="2.1" ry="1.0" fill="#b3cd9a" opacity="0.75"/><ellipse cx="953.3" cy="368.3" rx="1.1" ry="0.9" fill="#b3cd9a" opacity="0.75"/><ellipse cx="996.1" cy="392.6" rx="1.9" ry="1.5" fill="#b3cd9a" opacity="0.75"/><ellipse cx="991.5" cy="387.8" rx="1.7" ry="2.2" fill="#b3cd9a" opacity="0.75"/><ellipse cx="987.5" cy="390.2" rx="0.7" ry="2.6" fill="#b3cd9a" opacity="0.75"/><ellipse cx="965.5" cy="354.1" rx="1.6" ry="2.6" fill="#b3cd9a" opacity="0.75"/><ellipse cx="1032.4" cy="347.5" rx="0.8" ry="1.4" fill="#b3cd9a" opacity="0.75"/><ellipse cx="979.5" cy="344.2" rx="1.4" ry="1.6" fill="#b3cd9a" opacity="0.75"/><ellipse cx="1013.0" cy="384.4" rx="1.1" ry="1.1" fill="#b3cd9a" opacity="0.75"/><ellipse cx="1055.6" cy="394.3" rx="0.8" ry="2.6" fill="#b3cd9a" opacity="0.75"/><ellipse cx="973.5" cy="407.5" rx="0.8" ry="2.4" fill="#b3cd9a" opacity="0.75"/><ellipse cx="971.7" cy="376.1" rx="1.6" ry="1.5" fill="#b3cd9a" opacity="0.75"/><ellipse cx="980.0" cy="422.4" rx="2.0" ry="1.1" fill="#b3cd9a" opacity="0.75"/><ellipse cx="965.8" cy="409.8" rx="1.5" ry="2.4" fill="#b3cd9a" opacity="0.75"/><ellipse cx="1000.5" cy="391.4" rx="1.9" ry="1.1" fill="#b3cd9a" opacity="0.75"/><ellipse cx="1033.8" cy="419.7" rx="1.1" ry="2.4" fill="#b3cd9a" opacity="0.75"/><ellipse cx="1056.8" cy="422.2" rx="1.9" ry="1.0" fill="#b3cd9a" opacity="0.75"/><ellipse cx="962.0" cy="375.0" rx="2.0" ry="0.9" fill="#b3cd9a" opacity="0.75"/><ellipse cx="975.9" cy="397.9" rx="0.7" ry="1.8" fill="#b3cd9a" opacity="0.75"/><ellipse cx="1014.3" cy="361.7" rx="2.0" ry="2.4" fill="#b3cd9a" opacity="0.75"/><ellipse cx="1001.7" cy="384.9" rx="1.3" ry="1.5" fill="#b3cd9a" opacity="0.75"/><ellipse cx="958.7" cy="423.5" rx="1.0" ry="1.2" fill="#b3cd9a" opacity="0.75"/><ellipse cx="997.2" cy="353.5" rx="1.8" ry="2.4" fill="#b3cd9a" opacity="0.75"/><ellipse cx="1013.7" cy="381.8" rx="0.9" ry="1.0" fill="#b3cd9a" opacity="0.75"/><ellipse cx="963.6" cy="409.0" rx="2.1" ry="2.0" fill="#b3cd9a" opacity="0.75"/><ellipse cx="1018.4" cy="366.5" rx="0.6" ry="1.0" fill="#b3cd9a" opacity="0.75"/><ellipse cx="1003.3" cy="340.0" rx="1.1" ry="1.2" fill="#b3cd9a" opacity="0.75"/><ellipse cx="983.8" cy="361.9" rx="1.3" ry="2.5" fill="#b3cd9a" opacity="0.75"/><ellipse cx="964.2" cy="360.4" rx="1.0" ry="2.2" fill="#b3cd9a" opacity="0.75"/><ellipse cx="1010.1" cy="410.7" rx="2.0" ry="0.9" fill="#b3cd9a" opacity="0.75"/><ellipse cx="1037.1" cy="420.2" rx="1.9" ry="1.8" fill="#b3cd9a" opacity="0.75"/><ellipse cx="980.4" cy="391.2" rx="2.0" ry="1.1" fill="#b3cd9a" opacity="0.75"/><ellipse cx="1016.2" cy="337.9" rx="0.6" ry="1.2" fill="#b3cd9a" opacity="0.75"/><ellipse cx="1032.3" cy="392.5" rx="1.3" ry="2.1" fill="#b3cd9a" opacity="0.75"/><ellipse cx="997.8" cy="371.2" rx="2.1" ry="1.3" fill="#b3cd9a" opacity="0.75"/><ellipse cx="1040.1" cy="387.8" rx="0.7" ry="1.1" fill="#b3cd9a" opacity="0.75"/><ellipse cx="1005.4" cy="406.9" rx="1.4" ry="1.8" fill="#b3cd9a" opacity="0.75"/><ellipse cx="1050.7" cy="412.1" rx="2.1" ry="2.4" fill="#b3cd9a" opacity="0.75"/><ellipse cx="1056.7" cy="355.6" rx="1.4" ry="1.7" fill="#b3cd9a" opacity="0.75"/><ellipse cx="1039.5" cy="347.8" rx="1.8" ry="0.9" fill="#b3cd9a" opacity="0.75"/><ellipse cx="1063.9" cy="333.2" rx="1.2" ry="1.7" fill="#b3cd9a" opacity="0.75"/><ellipse cx="1049.1" cy="333.7" rx="1.2" ry="1.9" fill="#b3cd9a" opacity="0.75"/><ellipse cx="1053.3" cy="353.3" rx="1.3" ry="2.0" fill="#b3cd9a" opacity="0.75"/><ellipse cx="1044.7" cy="321.6" rx="1.8" ry="1.2" fill="#b3cd9a" opacity="0.75"/><ellipse cx="1057.4" cy="311.8" rx="0.7" ry="1.8" fill="#b3cd9a" opacity="0.75"/><ellipse cx="1050.3" cy="356.1" rx="0.9" ry="2.6" fill="#b3cd9a" opacity="0.75"/><ellipse cx="1048.4" cy="294.6" rx="0.9" ry="2.0" fill="#b3cd9a" opacity="0.75"/><ellipse cx="1049.6" cy="344.8" rx="0.9" ry="2.3" fill="#b3cd9a" opacity="0.75"/><ellipse cx="1049.0" cy="324.8" rx="2.1" ry="2.0" fill="#b3cd9a" opacity="0.75"/><ellipse cx="1054.1" cy="325.9" rx="1.8" ry="1.4" fill="#b3cd9a" opacity="0.75"/><ellipse cx="1056.5" cy="305.7" rx="2.0" ry="2.2" fill="#b3cd9a" opacity="0.75"/><ellipse cx="1048.0" cy="326.7" rx="1.3" ry="1.0" fill="#b3cd9a" opacity="0.75"/><ellipse cx="1051.2" cy="315.4" rx="1.3" ry="1.7" fill="#b3cd9a" opacity="0.75"/><ellipse cx="1059.4" cy="357.9" rx="0.7" ry="1.1" fill="#b3cd9a" opacity="0.75"/><ellipse cx="1050.7" cy="291.1" rx="2.2" ry="1.5" fill="#b3cd9a" opacity="0.75"/><ellipse cx="1063.3" cy="335.2" rx="2.1" ry="0.9" fill="#b3cd9a" opacity="0.75"/><ellipse cx="1042.3" cy="302.2" rx="1.9" ry="1.7" fill="#b3cd9a" opacity="0.75"/><ellipse cx="1043.3" cy="343.2" rx="1.6" ry="2.5" fill="#b3cd9a" opacity="0.75"/><ellipse cx="1053.9" cy="307.2" rx="1.9" ry="2.6" fill="#b3cd9a" opacity="0.75"/><ellipse cx="1054.8" cy="341.0" rx="2.1" ry="1.1" fill="#b3cd9a" opacity="0.75"/><ellipse cx="1054.1" cy="299.0" rx="1.5" ry="1.2" fill="#b3cd9a" opacity="0.75"/><ellipse cx="1057.1" cy="351.2" rx="1.0" ry="2.3" fill="#b3cd9a" opacity="0.75"/><ellipse cx="1063.7" cy="305.5" rx="1.2" ry="1.2" fill="#b3cd9a" opacity="0.75"/><ellipse cx="1046.2" cy="304.1" rx="1.5" ry="2.4" fill="#b3cd9a" opacity="0.75"/><ellipse cx="1043.4" cy="356.7" rx="0.8" ry="1.2" fill="#b3cd9a" opacity="0.75"/><ellipse cx="1048.4" cy="300.5" rx="1.7" ry="1.8" fill="#b3cd9a" opacity="0.75"/><ellipse cx="1058.1" cy="295.2" rx="2.0" ry="1.0" fill="#b3cd9a" opacity="0.75"/><ellipse cx="1064.1" cy="336.4" rx="1.2" ry="1.7" fill="#b3cd9a" opacity="0.75"/><ellipse cx="1062.2" cy="328.5" rx="1.2" ry="2.5" fill="#b3cd9a" opacity="0.75"/><ellipse cx="1047.2" cy="342.9" rx="0.9" ry="1.7" fill="#b3cd9a" opacity="0.75"/><ellipse cx="1057.4" cy="325.2" rx="1.2" ry="2.3" fill="#b3cd9a" opacity="0.75"/><ellipse cx="1063.1" cy="308.6" rx="1.0" ry="1.7" fill="#b3cd9a" opacity="0.75"/><ellipse cx="1057.0" cy="293.1" rx="2.1" ry="0.9" fill="#b3cd9a" opacity="0.75"/><ellipse cx="1042.9" cy="347.8" rx="1.5" ry="1.7" fill="#b3cd9a" opacity="0.75"/><ellipse cx="1053.6" cy="316.6" rx="1.7" ry="1.6" fill="#b3cd9a" opacity="0.75"/><ellipse cx="1059.1" cy="301.5" rx="1.5" ry="2.6" fill="#b3cd9a" opacity="0.75"/><ellipse cx="1052.4" cy="359.6" rx="1.8" ry="2.4" fill="#b3cd9a" opacity="0.75"/><ellipse cx="1060.0" cy="353.1" rx="1.8" ry="2.4" fill="#b3cd9a" opacity="0.75"/><ellipse cx="1051.4" cy="314.5" rx="2.2" ry="1.6" fill="#b3cd9a" opacity="0.75"/><ellipse cx="1055.1" cy="359.4" rx="2.1" ry="1.0" fill="#b3cd9a" opacity="0.75"/><ellipse cx="1061.7" cy="318.7" rx="0.7" ry="2.1" fill="#b3cd9a" opacity="0.75"/><ellipse cx="1046.5" cy="319.7" rx="1.3" ry="1.3" fill="#b3cd9a" opacity="0.75"/><ellipse cx="1046.6" cy="307.9" rx="0.9" ry="1.7" fill="#b3cd9a" opacity="0.75"/><ellipse cx="1050.0" cy="317.4" rx="1.9" ry="1.1" fill="#b3cd9a" opacity="0.75"/><ellipse cx="1060.2" cy="333.8" rx="0.6" ry="2.4" fill="#b3cd9a" opacity="0.75"/><ellipse cx="1056.5" cy="302.6" rx="1.4" ry="1.4" fill="#b3cd9a" opacity="0.75"/><ellipse cx="1062.8" cy="333.8" rx="1.8" ry="1.7" fill="#b3cd9a" opacity="0.75"/><ellipse cx="1048.0" cy="342.2" rx="0.7" ry="2.4" fill="#b3cd9a" opacity="0.75"/><ellipse cx="1046.8" cy="353.6" rx="2.0" ry="2.3" fill="#b3cd9a" opacity="0.75"/><ellipse cx="1048.8" cy="324.5" rx="1.4" ry="2.4" fill="#b3cd9a" opacity="0.75"/><ellipse cx="1040.1" cy="326.8" rx="0.6" ry="1.7" fill="#b3cd9a" opacity="0.75"/><ellipse cx="1064.5" cy="335.6" rx="1.2" ry="1.3" fill="#b3cd9a" opacity="0.75"/><ellipse cx="1045.8" cy="358.0" rx="1.3" ry="1.6" fill="#b3cd9a" opacity="0.75"/><ellipse cx="1041.3" cy="313.5" rx="0.8" ry="2.5" fill="#b3cd9a" opacity="0.75"/><ellipse cx="1056.4" cy="296.9" rx="1.0" ry="1.3" fill="#b3cd9a" opacity="0.75"/><ellipse cx="1041.8" cy="302.8" rx="0.6" ry="2.6" fill="#b3cd9a" opacity="0.75"/><ellipse cx="1048.4" cy="357.0" rx="1.9" ry="1.2" fill="#b3cd9a" opacity="0.75"/><ellipse cx="1062.8" cy="343.9" rx="1.3" ry="1.9" fill="#b3cd9a" opacity="0.75"/><ellipse cx="1060.2" cy="328.8" rx="0.7" ry="1.3" fill="#b3cd9a" opacity="0.75"/><ellipse cx="1056.4" cy="329.0" rx="0.7" ry="1.1" fill="#b3cd9a" opacity="0.75"/><rect x="1090" y="128" width="14" height="22" fill="#c9dcb3" opacity="0.9"/><rect x="1152" y="185" width="9" height="30" fill="#c9dcb3" opacity="0.9"/><rect x="1145" y="276" width="14" height="12" fill="#c9dcb3" opacity="0.9"/><path d="M937,215 C960,205 990,198 1020,200 C1050,203 1070,214 1100,212 C1130,210 1150,200 1207,205" stroke="#f8f6f0" stroke-width="1.4" fill="none" opacity="0.9"/><path d="M1040,250 C1070,245 1100,248 1130,250 C1160,252 1185,262 1207,262" stroke="#f8f6f0" stroke-width="1.4" fill="none" opacity="0.9"/><path d="M1140,250 C1150,280 1150,320 1145,360 C1140,390 1150,410 1155,425" stroke="#f8f6f0" stroke-width="1.4" fill="none" opacity="0.9"/><path d="M937,330 C960,320 990,316 1010,318" stroke="#f8f6f0" stroke-width="1.4" fill="none" opacity="0.9"/><path d="M1070,322 C1100,318 1130,312 1207,318" stroke="#f8f6f0" stroke-width="1.4" fill="none" opacity="0.9"/><path d="M1151,124 L1151,273 M1151,200.4 L1207,200.4 M1049,273.2 L1192,273.2 M1049,273.2 L1049,425 M1192,273.2 L1192,425 M1005,124 L1005,273.2 L1049,273.2" stroke="#9f9b92" stroke-width="0.8" stroke-dasharray="1.8,1.8" fill="none"/><path d="M967,252 C972,246 978,255 980,265 C982,275 984,284 979,287 C973,289 970,280 968,272 C966,264 963,257 967,252 Z" fill="#a5c4ee"/><ellipse cx="993" cy="302" rx="2.5" ry="5" fill="#a5c4ee"/><path d="M1022.7,192.7 C1022.7,177.2 1039.3,177.2 1039.3,192.7 C1039.3,198.7 1033.5,203.7 1031,211.7 C1028.5,203.7 1022.7,198.7 1022.7,192.7 Z" fill="#2a0a78" stroke="#c9bdf2" stroke-width="1"/><ellipse cx="1031" cy="191.7" rx="4.7" ry="6" fill="#f2eefa" stroke="#b9a8e8" stroke-width="0.8"/><ellipse cx="1031.6" cy="192.1" rx="1.5" ry="2.3" fill="#2a0a78" opacity="0.55"/><path d="M1018.4000000000001,206 C1018.4000000000001,190.5 1035.0,190.5 1035.0,206 C1035.0,212 1029.2,217 1026.7,225 C1024.2,217 1018.4000000000001,212 1018.4000000000001,206 Z" fill="#2a0a78" stroke="#c9bdf2" stroke-width="1"/><ellipse cx="1026.7" cy="205" rx="4.7" ry="6" fill="#f2eefa" stroke="#b9a8e8" stroke-width="0.8"/><ellipse cx="1027.3" cy="205.4" rx="1.5" ry="2.3" fill="#2a0a78" opacity="0.55"/><path d="M1020.7,213.7 C1020.7,198.2 1037.3,198.2 1037.3,213.7 C1037.3,219.7 1031.5,224.7 1029,232.7 C1026.5,224.7 1020.7,219.7 1020.7,213.7 Z" fill="#2a0a78" stroke="#c9bdf2" stroke-width="1"/><ellipse cx="1029" cy="212.7" rx="4.7" ry="6" fill="#f2eefa" stroke="#b9a8e8" stroke-width="0.8"/><ellipse cx="1029.6" cy="213.1" rx="1.5" ry="2.3" fill="#2a0a78" opacity="0.55"/><path d="M1032.4,232.7 C1032.4,217.2 1049.0,217.2 1049.0,232.7 C1049.0,238.7 1043.2,243.7 1040.7,251.7 C1038.2,243.7 1032.4,238.7 1032.4,232.7 Z" fill="#2a0a78" stroke="#c9bdf2" stroke-width="1"/><ellipse cx="1040.7" cy="231.7" rx="4.7" ry="6" fill="#f2eefa" stroke="#b9a8e8" stroke-width="0.8"/><ellipse cx="1041.3" cy="232.1" rx="1.5" ry="2.3" fill="#2a0a78" opacity="0.55"/><path d="M1033.4,252.7 C1033.4,237.2 1050.0,237.2 1050.0,252.7 C1050.0,258.7 1044.2,263.7 1041.7,271.7 C1039.2,263.7 1033.4,258.7 1033.4,252.7 Z" fill="#2a0a78" stroke="#c9bdf2" stroke-width="1"/><ellipse cx="1041.7" cy="251.7" rx="4.7" ry="6" fill="#f2eefa" stroke="#b9a8e8" stroke-width="0.8"/><ellipse cx="1042.3" cy="252.1" rx="1.5" ry="2.3" fill="#2a0a78" opacity="0.55"/><path d="M1036.7,267.7 C1036.7,252.2 1053.3,252.2 1053.3,267.7 C1053.3,273.7 1047.5,278.7 1045,286.7 C1042.5,278.7 1036.7,273.7 1036.7,267.7 Z" fill="#2a0a78" stroke="#c9bdf2" stroke-width="1"/><ellipse cx="1045" cy="266.7" rx="4.7" ry="6" fill="#f2eefa" stroke="#b9a8e8" stroke-width="0.8"/><ellipse cx="1045.6" cy="267.09999999999997" rx="1.5" ry="2.3" fill="#2a0a78" opacity="0.55"/><path d="M1026.7,277.7 C1026.7,262.2 1043.3,262.2 1043.3,277.7 C1043.3,283.7 1037.5,288.7 1035,296.7 C1032.5,288.7 1026.7,283.7 1026.7,277.7 Z" fill="#2a0a78" stroke="#c9bdf2" stroke-width="1"/><ellipse cx="1035" cy="276.7" rx="4.7" ry="6" fill="#f2eefa" stroke="#b9a8e8" stroke-width="0.8"/><ellipse cx="1035.6" cy="277.09999999999997" rx="1.5" ry="2.3" fill="#2a0a78" opacity="0.55"/><path d="M1038.4,287.7 C1038.4,272.2 1055.0,272.2 1055.0,287.7 C1055.0,293.7 1049.2,298.7 1046.7,306.7 C1044.2,298.7 1038.4,293.7 1038.4,287.7 Z" fill="#2a0a78" stroke="#c9bdf2" stroke-width="1"/><ellipse cx="1046.7" cy="286.7" rx="4.7" ry="6" fill="#f2eefa" stroke="#b9a8e8" stroke-width="0.8"/><ellipse cx="1047.3" cy="287.09999999999997" rx="1.5" ry="2.3" fill="#2a0a78" opacity="0.55"/><path d="M1017.7,321 C1017.7,305.5 1034.3,305.5 1034.3,321 C1034.3,327 1028.5,332 1026,340 C1023.5,332 1017.7,327 1017.7,321 Z" fill="#2a0a78" stroke="#c9bdf2" stroke-width="1"/><ellipse cx="1026" cy="320" rx="4.7" ry="6" fill="#f2eefa" stroke="#b9a8e8" stroke-width="0.8"/><ellipse cx="1026.6" cy="320.4" rx="1.5" ry="2.3" fill="#2a0a78" opacity="0.55"/><path d="M1021.7,339.3 C1021.7,323.8 1038.3,323.8 1038.3,339.3 C1038.3,345.3 1032.5,350.3 1030,358.3 C1027.5,350.3 1021.7,345.3 1021.7,339.3 Z" fill="#2a0a78" stroke="#c9bdf2" stroke-width="1"/><ellipse cx="1030" cy="338.3" rx="4.7" ry="6" fill="#f2eefa" stroke="#b9a8e8" stroke-width="0.8"/><ellipse cx="1030.6" cy="338.7" rx="1.5" ry="2.3" fill="#2a0a78" opacity="0.55"/><path d="M1076.0,302.7 C1076.0,287.2 1092.6,287.2 1092.6,302.7 C1092.6,308.7 1086.8,313.7 1084.3,321.7 C1081.8,313.7 1076.0,308.7 1076.0,302.7 Z" fill="#2a0a78" stroke="#c9bdf2" stroke-width="1"/><ellipse cx="1084.3" cy="301.7" rx="4.7" ry="6" fill="#f2eefa" stroke="#b9a8e8" stroke-width="0.8"/><ellipse cx="1084.8999999999999" cy="302.09999999999997" rx="1.5" ry="2.3" fill="#2a0a78" opacity="0.55"/><path d="M1094.4,280.3 C1094.4,264.8 1111.0,264.8 1111.0,280.3 C1111.0,286.3 1105.2,291.3 1102.7,299.3 C1100.2,291.3 1094.4,286.3 1094.4,280.3 Z" fill="#2a0a78" stroke="#c9bdf2" stroke-width="1"/><ellipse cx="1102.7" cy="279.3" rx="4.7" ry="6" fill="#f2eefa" stroke="#b9a8e8" stroke-width="0.8"/><ellipse cx="1103.3" cy="279.7" rx="1.5" ry="2.3" fill="#2a0a78" opacity="0.55"/><path d="M1111.7,259 C1111.7,243.5 1128.3,243.5 1128.3,259 C1128.3,265 1122.5,270 1120,278 C1117.5,270 1111.7,265 1111.7,259 Z" fill="#2a0a78" stroke="#c9bdf2" stroke-width="1"/><ellipse cx="1120" cy="258" rx="4.7" ry="6" fill="#f2eefa" stroke="#b9a8e8" stroke-width="0.8"/><ellipse cx="1120.6" cy="258.4" rx="1.5" ry="2.3" fill="#2a0a78" opacity="0.55"/><path d="M1105.7,267.7 C1105.7,252.2 1122.3,252.2 1122.3,267.7 C1122.3,273.7 1116.5,278.7 1114,286.7 C1111.5,278.7 1105.7,273.7 1105.7,267.7 Z" fill="#2a0a78" stroke="#c9bdf2" stroke-width="1"/><ellipse cx="1114" cy="266.7" rx="4.7" ry="6" fill="#f2eefa" stroke="#b9a8e8" stroke-width="0.8"/><ellipse cx="1114.6" cy="267.09999999999997" rx="1.5" ry="2.3" fill="#2a0a78" opacity="0.55"/><path d="M1116.7,252.7 C1116.7,237.2 1133.3,237.2 1133.3,252.7 C1133.3,258.7 1127.5,263.7 1125,271.7 C1122.5,263.7 1116.7,258.7 1116.7,252.7 Z" fill="#2a0a78" stroke="#c9bdf2" stroke-width="1"/><ellipse cx="1125" cy="251.7" rx="4.7" ry="6" fill="#f2eefa" stroke="#b9a8e8" stroke-width="0.8"/><ellipse cx="1125.6" cy="252.1" rx="1.5" ry="2.3" fill="#2a0a78" opacity="0.55"/><path d="M1123.4,267.7 C1123.4,252.2 1140.0,252.2 1140.0,267.7 C1140.0,273.7 1134.2,278.7 1131.7,286.7 C1129.2,278.7 1123.4,273.7 1123.4,267.7 Z" fill="#2a0a78" stroke="#c9bdf2" stroke-width="1"/><ellipse cx="1131.7" cy="266.7" rx="4.7" ry="6" fill="#f2eefa" stroke="#b9a8e8" stroke-width="0.8"/><ellipse cx="1132.3" cy="267.09999999999997" rx="1.5" ry="2.3" fill="#2a0a78" opacity="0.55"/><path d="M1124.4,299.3 C1124.4,283.8 1141.0,283.8 1141.0,299.3 C1141.0,305.3 1135.2,310.3 1132.7,318.3 C1130.2,310.3 1124.4,305.3 1124.4,299.3 Z" fill="#2a0a78" stroke="#c9bdf2" stroke-width="1"/><ellipse cx="1132.7" cy="298.3" rx="4.7" ry="6" fill="#f2eefa" stroke="#b9a8e8" stroke-width="0.8"/><ellipse cx="1133.3" cy="298.7" rx="1.5" ry="2.3" fill="#2a0a78" opacity="0.55"/><path d="M1130.0,336 C1130.0,320.5 1146.6,320.5 1146.6,336 C1146.6,342 1140.8,347 1138.3,355 C1135.8,347 1130.0,342 1130.0,336 Z" fill="#2a0a78" stroke="#c9bdf2" stroke-width="1"/><ellipse cx="1138.3" cy="335" rx="4.7" ry="6" fill="#f2eefa" stroke="#b9a8e8" stroke-width="0.8"/><ellipse cx="1138.8999999999999" cy="335.4" rx="1.5" ry="2.3" fill="#2a0a78" opacity="0.55"/><path d="M1194.7,256 C1194.7,240.5 1211.3,240.5 1211.3,256 C1211.3,262 1205.5,267 1203,275 C1200.5,267 1194.7,262 1194.7,256 Z" fill="#2a0a78" stroke="#c9bdf2" stroke-width="1"/><ellipse cx="1203" cy="255" rx="4.7" ry="6" fill="#f2eefa" stroke="#b9a8e8" stroke-width="0.8"/><ellipse cx="1203.6" cy="255.4" rx="1.5" ry="2.3" fill="#2a0a78" opacity="0.55"/><path d="M1192.7,267 C1192.7,251.5 1209.3,251.5 1209.3,267 C1209.3,273 1203.5,278 1201,286 C1198.5,278 1192.7,273 1192.7,267 Z" fill="#2a0a78" stroke="#c9bdf2" stroke-width="1"/><ellipse cx="1201" cy="266" rx="4.7" ry="6" fill="#f2eefa" stroke="#b9a8e8" stroke-width="0.8"/><ellipse cx="1201.6" cy="266.4" rx="1.5" ry="2.3" fill="#2a0a78" opacity="0.55"/><path d="M1190.7,286 C1190.7,270.5 1207.3,270.5 1207.3,286 C1207.3,292 1201.5,297 1199,305 C1196.5,297 1190.7,292 1190.7,286 Z" fill="#2a0a78" stroke="#c9bdf2" stroke-width="1"/><ellipse cx="1199" cy="285" rx="4.7" ry="6" fill="#f2eefa" stroke="#b9a8e8" stroke-width="0.8"/><ellipse cx="1199.6" cy="285.4" rx="1.5" ry="2.3" fill="#2a0a78" opacity="0.55"/></g></svg>
<div style="left:1261.33px;top:137.30px;width:202.27px;height:47.70px;background:#fff;box-shadow:0 1px 3px rgba(0,0,0,0.3);border-radius:2px"></div>
<div style="left:1344.27px;top:137.30px;width:1.33px;height:47.70px;background:#e8e8e8"></div>
<div class="t" style="left:1282.67px;top:150.47px;font-size:20px;line-height:20px;color:#000;font-weight:bold;font-style:normal;transform:scaleX(1.0333);">Map</div>
<div class="t" style="left:1366.00px;top:150.47px;font-size:20px;line-height:20px;color:#565656;font-weight:normal;font-style:normal;transform:scaleX(1.0831);">Satellite</div>
<div style="left:1548.93px;top:136.70px;width:48.80px;height:48.30px;background:#fff;box-shadow:0 1px 3px rgba(0,0,0,0.3);border-radius:2px"></div>
<div style="left:1548.93px;top:300.00px;width:48.80px;height:95.00px;background:#fff;box-shadow:0 1px 3px rgba(0,0,0,0.3);border-radius:2px"></div>
<div style="left:1554.67px;top:346.30px;width:37.33px;height:1.00px;background:#e6e6e6"></div>
<div class="t" style="left:1403.07px;top:195.34px;font-size:12px;line-height:12px;color:#6f6f6f;font-weight:bold;font-style:normal;transform:scaleX(1.1712);letter-spacing:1px">WYOMING</div>
<div class="t" style="left:1306.67px;top:335.84px;font-size:12px;line-height:12px;color:#6f6f6f;font-weight:bold;font-style:normal;transform:scaleX(1.2331);letter-spacing:1px">UTAH</div>
<div class="t" style="left:1456.40px;top:349.84px;font-size:12px;line-height:12px;color:#6f6f6f;font-weight:bold;font-style:normal;transform:scaleX(1.1182);letter-spacing:1px">COLORADO</div>
<div class="t" style="left:1514.27px;top:305.64px;font-size:25px;line-height:25px;color:#111;font-weight:bold;font-style:normal;transform:scaleX(0.9722);">Un</div>
<div class="t" style="left:1596.00px;top:305.64px;font-size:25px;line-height:25px;color:#111;font-weight:bold;font-style:normal;transform:scaleX(0.7679);">I</div>
<div style="left:1346.67px;top:408.50px;width:262.27px;height:16.20px;background:rgba(245,245,245,0.6)"></div>
<div class="t" style="left:1351.07px;top:409.69px;font-size:11px;line-height:11px;color:#333;font-weight:normal;font-style:normal;transform:scaleX(1.0678);">Map data ©2018 Google, INEGI</div>
<div class="t" style="left:1531.07px;top:409.69px;font-size:11px;line-height:11px;color:#333;font-weight:normal;font-style:normal;transform:scaleX(1.0989);">Terms of Use</div>
<div class="t" style="left:1256.93px;top:400.07px;font-size:20px;line-height:20px;color:#4285f4;font-weight:normal;font-style:normal;transform:scaleX(1.1702);-webkit-text-stroke:0.7px currentColor"><span style="color:#4285f4;-webkit-text-stroke:0.7px #4285f4">G</span><span style="color:#ea4335;-webkit-text-stroke:0.7px #ea4335">o</span><span style="color:#fbbc05;-webkit-text-stroke:0.7px #fbbc05">o</span><span style="color:#4285f4;-webkit-text-stroke:0.7px #4285f4">g</span><span style="color:#34a853;-webkit-text-stroke:0.7px #34a853">l</span><span style="color:#ea4335;-webkit-text-stroke:0.7px #ea4335">e</span></div>
<div style="left:379.60px;top:374.40px;width:330.27px;height:73.80px;background:rgba(247,247,247,0.9);border-style:solid;border-color:#e6b66a;border-width:1px 1.33px;box-sizing:border-box;border-radius:3px;box-shadow:1.5px 1.5px 3px rgba(0,0,0,0.22)"></div>
<div class="t" style="left:388.93px;top:386.80px;font-size:13px;line-height:13px;color:#333;font-weight:bold;font-style:normal;transform:scaleX(1.2127);">09205000–New Fork River Near Big Piney</div>
<div class="t" style="left:388.93px;top:406.79px;font-size:11px;line-height:11px;color:#333;font-weight:normal;font-style:normal;transform:scaleX(1.2113);">Aug 27, 2017 1:36 AM</div>
<div class="t" style="left:388.93px;top:421.97px;font-size:13.5px;line-height:13.5px;color:#333;font-weight:normal;font-style:normal;transform:scaleX(1.1398);">Depth:</div>
<div class="t" style="left:440.53px;top:421.97px;font-size:13.5px;line-height:13.5px;color:#333;font-weight:bold;font-style:normal;transform:scaleX(1.2405);">2.56 ft</div>
<div style="left:824.93px;top:330.80px;width:330.00px;height:73.00px;background:rgba(247,247,247,0.9);border-style:solid;border-color:#e6b66a;border-width:1px 1.33px;box-sizing:border-box;border-radius:3px;box-shadow:1.5px 1.5px 3px rgba(0,0,0,0.22)"></div>
<div class="t" style="left:834.67px;top:342.50px;font-size:13px;line-height:13px;color:#333;font-weight:bold;font-style:normal;transform:scaleX(1.2095);">09205000–New Fork River Near Big Piney</div>
<div class="t" style="left:834.67px;top:362.29px;font-size:11px;line-height:11px;color:#333;font-weight:normal;font-style:normal;transform:scaleX(1.2089);">Aug 27, 2017 1:36 AM</div>
<div class="t" style="left:834.67px;top:378.17px;font-size:13.5px;line-height:13.5px;color:#333;font-weight:normal;font-style:normal;transform:scaleX(1.1651);">Temperature:</div>
<div class="t" style="left:934.27px;top:378.17px;font-size:13.5px;line-height:13.5px;color:#333;font-weight:bold;font-style:normal;transform:scaleX(1.1647);">16.25 C</div>
<div style="left:843.33px;top:702.50px;width:329.33px;height:73.75px;background:rgba(247,247,247,0.9);border-style:solid;border-color:#e6b66a;border-width:1px 1.33px;box-sizing:border-box;border-radius:3px;box-shadow:1.5px 1.5px 3px rgba(0,0,0,0.22)"></div>
<div class="t" style="left:852.67px;top:715.25px;font-size:13px;line-height:13px;color:#333;font-weight:bold;font-style:normal;transform:scaleX(1.2087);">09205000–New Fork River Near Big Piney</div>
<div class="t" style="left:852.67px;top:734.44px;font-size:11px;line-height:11px;color:#333;font-weight:normal;font-style:normal;transform:scaleX(1.2064);">Aug 27, 2017 1:36 AM</div>
<div class="t" style="left:852.67px;top:749.82px;font-size:13.5px;line-height:13.5px;color:#333;font-weight:normal;font-style:normal;transform:scaleX(1.1365);">Discharge:</div>
<div class="t" style="left:931.00px;top:749.82px;font-size:13.5px;line-height:13.5px;color:#333;font-weight:bold;font-style:normal;transform:scaleX(1.2955);">488 ft3/s</div>
<svg class="ov" viewBox="0 0 1280 960" preserveAspectRatio="none"><path d="M1171.5,157 L1171.5,152.5 L1176,152.5 M1184,152.5 L1188.5,152.5 L1188.5,157 M1188.5,165 L1188.5,169.5 L1184,169.5 M1176,169.5 L1171.5,169.5 L1171.5,165" stroke="#666" stroke-width="2" fill="none"/><path d="M1173,320 L1187,320 M1180,312 L1180,328" stroke="#666" stroke-width="3"/><path d="M1173,374 L1187,374" stroke="#666" stroke-width="3"/><path d="M401.7,447.4 L407.7,456.2 L413.7,447.4" fill="rgba(247,247,247,0.9)" stroke="#e6b66a" stroke-width="1"/><path d="M736,403.0 L742,411.8 L748,403.0" fill="rgba(247,247,247,0.9)" stroke="#e6b66a" stroke-width="1"/><path d="M749,775.45 L755,784.25 L761,775.45" fill="rgba(247,247,247,0.9)" stroke="#e6b66a" stroke-width="1"/><path d="M742,421 L742,437 L745.5,433.5 L748,439 L750,438 L747.5,432.5 L752,432.5 Z" fill="#111" stroke="#fff" stroke-width="0.8"/></svg>
</div></body></html>
